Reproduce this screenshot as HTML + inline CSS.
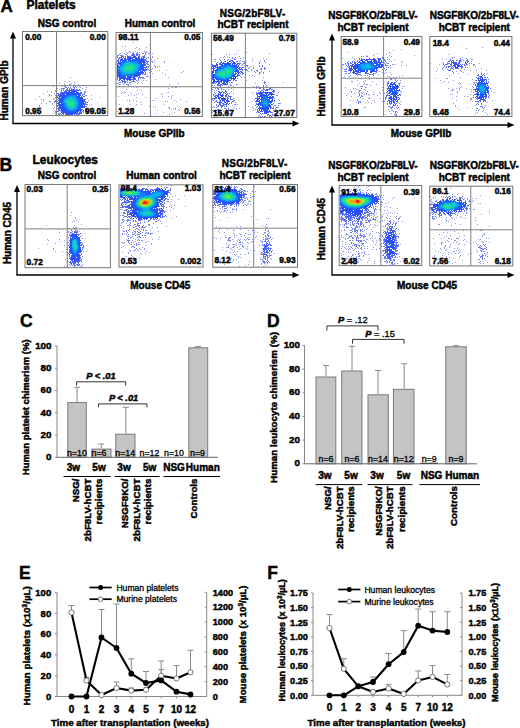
<!DOCTYPE html><html><head><meta charset="utf-8"><style>html,body{margin:0;padding:0;background:#fff;width:520px;height:728px;overflow:hidden}svg{display:block;font-family:"Liberation Sans",sans-serif}text{stroke:#000;stroke-width:.45px}text.n{stroke-width:.3px}tspan.b{stroke-width:.45px}</style></head><body><svg width="520" height="728" viewBox="0 0 520 728" font-family="Liberation Sans, sans-serif" font-weight="bold"><defs><filter id="soft" x="-5%" y="-5%" width="110%" height="110%"><feGaussianBlur stdDeviation="0.35"/></filter></defs><text x="0.6" y="12.4" font-size="17">A</text>
<text x="26.4" y="8.5" font-size="12">Platelets</text>
<text x="67" y="26.9" font-size="10" text-anchor="middle">NSG control</text>
<text x="160" y="26.9" font-size="10" text-anchor="middle">Human control</text>
<text x="252.6" y="16.5" font-size="10" text-anchor="middle" letter-spacing="0.3">NSG/2bF8LV-</text>
<text x="253" y="27.8" font-size="10" text-anchor="middle">hCBT recipient</text>
<text x="373" y="19" font-size="10" text-anchor="middle">NSGF8KO/2bF8LV-</text>
<text x="373" y="30.8" font-size="10" text-anchor="middle">hCBT recipient</text>
<text x="474.3" y="19.4" font-size="10" text-anchor="middle">NSGF8KO/2bF8LV-</text>
<text x="474.3" y="31.1" font-size="10" text-anchor="middle">hCBT recipient</text>
<line x1="13" y1="36.5" x2="13" y2="123.5" stroke="#000" stroke-width="1.3"/>
<line x1="12.35" y1="123.5" x2="294.5" y2="123.5" stroke="#000" stroke-width="1.3"/>
<polygon points="13,31.5 10,38.5 16,38.5" fill="#000"/>
<polygon points="299.5,123.5 292.5,120.5 292.5,126.5" fill="#000"/>
<line x1="332" y1="38.5" x2="332" y2="125" stroke="#000" stroke-width="1.3"/>
<line x1="331.35" y1="125" x2="509.5" y2="125" stroke="#000" stroke-width="1.3"/>
<polygon points="332,33.5 329,40.5 335,40.5" fill="#000"/>
<polygon points="514.5,125 507.5,122 507.5,128" fill="#000"/>
<text x="7.6" y="90.5" font-size="10" text-anchor="middle" transform="rotate(-90 7.6 90.5)">Human GPIb</text>
<text x="325" y="86.5" font-size="10" text-anchor="middle" transform="rotate(-90 325 86.5)">Human GPIb</text>
<text x="154.3" y="137" font-size="10" text-anchor="middle">Mouse GPIIb</text>
<text x="421" y="137.2" font-size="10" text-anchor="middle">Mouse GPIIb</text>
<rect x="22.5" y="31.5" width="85.3" height="84.1" fill="#fff"/>
<g filter="url(#soft)">
<path d="M99 97h1v1h-1zM35 99h1v1h-1zM97 102h1v1h-1zM31 109h1v1h-1zM23 110h1v1h-1z" fill="#b2b8f0"/>
<path d="M70 77h1v1h-1zM64 81h1v1h-1zM69 81h1v1h-1zM74 82h1v1h-1zM59 83h1v1h-1zM71 83h1v1h-1zM64 84h1v1h-1zM69 84h2v1h-2zM74 84h1v1h-1zM78 84h1v1h-1zM69 85h1v1h-1zM77 85h1v1h-1zM53 86h1v1h-1zM62 86h1v1h-1zM64 86h1v1h-1zM79 86h1v1h-1zM80 87h1v1h-1zM86 87h1v1h-1zM57 88h1v1h-1zM82 88h1v1h-1zM59 89h1v1h-1zM85 89h1v1h-1zM55 90h2v1h-2zM47 91h1v1h-1zM55 91h1v1h-1zM84 91h2v1h-2zM51 92h1v1h-1zM85 92h1v1h-1zM43 93h1v1h-1zM54 93h1v1h-1zM49 94h1v1h-1zM49 95h1v1h-1zM51 95h1v1h-1zM55 95h1v1h-1zM85 95h2v1h-2zM91 95h1v1h-1zM39 96h1v1h-1zM54 98h1v1h-1zM87 98h1v1h-1zM41 99h1v1h-1zM43 99h1v1h-1zM53 99h1v1h-1zM91 99h1v1h-1zM88 100h1v1h-1zM43 101h1v1h-1zM49 101h2v1h-2zM41 103h1v1h-1zM46 103h1v1h-1zM52 103h1v1h-1zM52 104h1v1h-1zM91 104h1v1h-1zM39 105h1v1h-1zM89 105h1v1h-1zM39 106h1v1h-1zM54 107h1v1h-1zM53 108h1v1h-1zM54 110h1v1h-1zM90 111h1v1h-1zM38 112h1v1h-1zM87 112h1v1h-1zM53 113h1v1h-1zM36 114h1v1h-1zM39 114h1v1h-1zM55 114h1v1h-1z" fill="#8e98ef"/>
<path d="M74 85h1v1h-1zM65 86h1v1h-1zM73 86h1v1h-1zM75 86h1v1h-1zM65 87h2v1h-2zM68 87h1v1h-1zM70 87h1v1h-1zM73 87h2v1h-2zM76 87h1v1h-1zM61 88h4v1h-4zM67 88h1v1h-1zM69 88h1v1h-1zM71 88h1v1h-1zM74 88h1v1h-1zM61 89h1v1h-1zM63 89h1v1h-1zM66 89h1v1h-1zM69 89h1v1h-1zM77 89h1v1h-1zM79 89h1v1h-1zM61 90h1v1h-1zM63 90h1v1h-1zM79 90h2v1h-2zM61 91h1v1h-1zM60 92h1v1h-1zM81 92h1v1h-1zM84 92h1v1h-1zM57 93h2v1h-2zM84 93h1v1h-1zM56 94h1v1h-1zM82 94h3v1h-3zM57 95h1v1h-1zM82 95h1v1h-1zM57 96h1v1h-1zM83 96h2v1h-2zM55 97h1v1h-1zM85 99h1v1h-1zM55 100h1v1h-1zM54 101h2v1h-2zM85 101h1v1h-1zM54 102h1v1h-1zM86 102h2v1h-2zM86 104h2v1h-2zM56 106h2v1h-2zM85 106h2v1h-2zM56 108h2v1h-2zM85 109h1v1h-1zM58 110h1v1h-1zM85 110h2v1h-2zM55 111h4v1h-4zM83 111h1v1h-1zM85 111h1v1h-1zM55 112h1v1h-1zM83 112h1v1h-1zM56 113h1v1h-1zM58 113h3v1h-3zM58 114h2v1h-2zM61 114h1v1h-1zM63 114h1v1h-1zM76 114h4v1h-4z" fill="#6d7bef"/>
<path d="M67 89h1v1h-1zM71 89h4v1h-4zM76 89h1v1h-1zM65 90h8v1h-8zM75 90h4v1h-4zM64 91h3v1h-3zM61 92h4v1h-4zM78 92h1v1h-1zM80 92h1v1h-1zM60 93h2v1h-2zM79 93h3v1h-3zM58 94h3v1h-3zM80 94h1v1h-1zM58 95h2v1h-2zM80 95h1v1h-1zM81 96h1v1h-1zM57 97h2v1h-2zM82 97h1v1h-1zM58 98h1v1h-1zM57 99h1v1h-1zM83 99h2v1h-2zM84 100h1v1h-1zM56 101h2v1h-2zM84 101h1v1h-1zM56 102h1v1h-1zM85 102h1v1h-1zM56 103h2v1h-2zM84 103h2v1h-2zM58 104h1v1h-1zM84 104h2v1h-2zM57 105h2v1h-2zM84 105h1v1h-1zM84 106h1v1h-1zM58 107h2v1h-2zM83 107h2v1h-2zM58 108h2v1h-2zM58 109h2v1h-2zM82 109h1v1h-1zM59 110h2v1h-2zM83 110h1v1h-1zM61 111h1v1h-1zM82 111h1v1h-1zM61 112h2v1h-2zM80 112h2v1h-2zM62 113h2v1h-2zM76 113h6v1h-6zM65 114h2v1h-2zM74 114h1v1h-1z" fill="#5065f3"/>
<path d="M73 90h2v1h-2zM68 91h2v1h-2zM71 91h6v1h-6zM65 92h6v1h-6zM76 92h2v1h-2zM62 93h5v1h-5zM77 93h2v1h-2zM61 94h4v1h-4zM78 94h2v1h-2zM60 95h3v1h-3zM78 95h2v1h-2zM59 96h3v1h-3zM79 96h1v1h-1zM59 97h1v1h-1zM80 97h2v1h-2zM59 98h2v1h-2zM81 98h2v1h-2zM59 99h1v1h-1zM82 99h1v1h-1zM58 100h2v1h-2zM82 100h2v1h-2zM59 101h1v1h-1zM82 101h2v1h-2zM58 102h2v1h-2zM82 102h2v1h-2zM58 103h2v1h-2zM83 103h1v1h-1zM59 104h1v1h-1zM83 104h1v1h-1zM59 105h2v1h-2zM82 105h1v1h-1zM59 106h2v1h-2zM82 106h2v1h-2zM60 107h1v1h-1zM81 107h2v1h-2zM60 108h2v1h-2zM61 109h1v1h-1zM81 109h1v1h-1zM61 110h2v1h-2zM80 110h2v1h-2zM62 111h2v1h-2zM78 111h1v1h-1zM80 111h1v1h-1zM63 112h2v1h-2zM75 112h3v1h-3zM79 112h1v1h-1zM65 113h3v1h-3zM73 113h3v1h-3zM67 114h6v1h-6z" fill="#334ff7"/>
<path d="M71 92h4v1h-4zM67 93h5v1h-5zM74 93h3v1h-3zM66 94h1v1h-1zM76 94h2v1h-2zM63 95h3v1h-3zM62 96h3v1h-3zM78 96h1v1h-1zM61 97h2v1h-2zM78 97h2v1h-2zM61 98h2v1h-2zM79 98h2v1h-2zM60 99h2v1h-2zM80 99h2v1h-2zM60 100h2v1h-2zM81 100h1v1h-1zM60 101h2v1h-2zM81 101h1v1h-1zM60 102h2v1h-2zM81 102h1v1h-1zM61 103h1v1h-1zM81 103h2v1h-2zM60 104h2v1h-2zM81 104h2v1h-2zM61 105h1v1h-1zM81 105h1v1h-1zM61 106h1v1h-1zM80 106h2v1h-2zM61 107h2v1h-2zM80 107h1v1h-1zM62 108h1v1h-1zM79 108h2v1h-2zM62 109h3v1h-3zM78 109h3v1h-3zM63 110h3v1h-3zM77 110h3v1h-3zM64 111h3v1h-3zM75 111h3v1h-3zM65 112h4v1h-4zM73 112h2v1h-2zM68 113h5v1h-5z" fill="#2553fb"/>
<path d="M72 93h2v1h-2zM67 94h9v1h-9zM66 95h2v1h-2zM75 95h2v1h-2zM65 96h2v1h-2zM76 96h2v1h-2zM63 97h2v1h-2zM77 97h1v1h-1zM63 98h1v1h-1zM78 98h1v1h-1zM62 99h2v1h-2zM78 99h2v1h-2zM62 100h1v1h-1zM79 100h2v1h-2zM62 101h1v1h-1zM79 101h2v1h-2zM62 102h1v1h-1zM79 102h2v1h-2zM62 103h1v1h-1zM79 103h2v1h-2zM62 104h2v1h-2zM79 104h2v1h-2zM62 105h2v1h-2zM79 105h2v1h-2zM62 106h2v1h-2zM78 106h2v1h-2zM63 107h2v1h-2zM78 107h2v1h-2zM63 108h3v1h-3zM78 108h1v1h-1zM65 109h2v1h-2zM77 109h1v1h-1zM66 110h2v1h-2zM75 110h2v1h-2zM67 111h8v1h-8zM69 112h4v1h-4z" fill="#1c5cfe"/>
<path d="M68 95h7v1h-7zM67 96h2v1h-2zM74 96h2v1h-2zM65 97h2v1h-2zM75 97h2v1h-2zM64 98h2v1h-2zM76 98h2v1h-2zM64 99h1v1h-1zM76 99h2v1h-2zM63 100h1v1h-1zM77 100h2v1h-2zM63 101h1v1h-1zM77 101h2v1h-2zM63 102h1v1h-1zM78 102h1v1h-1zM63 103h2v1h-2zM78 103h1v1h-1zM64 104h1v1h-1zM77 104h2v1h-2zM64 105h2v1h-2zM77 105h2v1h-2zM64 106h2v1h-2zM77 106h1v1h-1zM65 107h2v1h-2zM77 107h1v1h-1zM66 108h2v1h-2zM76 108h2v1h-2zM67 109h2v1h-2zM75 109h2v1h-2zM68 110h7v1h-7z" fill="#1580f7"/>
<path d="M69 96h5v1h-5zM67 97h8v1h-8zM66 98h3v1h-3zM73 98h3v1h-3zM65 99h1v1h-1zM74 99h2v1h-2zM64 100h2v1h-2zM75 100h2v1h-2zM64 101h1v1h-1zM75 101h2v1h-2zM64 102h2v1h-2zM76 102h2v1h-2zM65 103h1v1h-1zM76 103h2v1h-2zM65 104h2v1h-2zM76 104h1v1h-1zM66 105h1v1h-1zM75 105h2v1h-2zM66 106h2v1h-2zM75 106h2v1h-2zM67 107h2v1h-2zM75 107h2v1h-2zM68 108h2v1h-2zM73 108h3v1h-3zM69 109h6v1h-6z" fill="#10aeec"/>
<path d="M69 98h4v1h-4zM66 99h8v1h-8zM66 100h9v1h-9zM65 101h2v1h-2zM71 101h4v1h-4zM66 102h1v1h-1zM74 102h2v1h-2zM66 103h2v1h-2zM74 103h2v1h-2zM67 104h1v1h-1zM74 104h2v1h-2zM67 105h2v1h-2zM73 105h2v1h-2zM68 106h7v1h-7zM69 107h6v1h-6zM70 108h3v1h-3z" fill="#12ccbe"/>
<path d="M67 101h4v1h-4zM67 102h7v1h-7zM68 103h6v1h-6zM68 104h6v1h-6zM69 105h4v1h-4z" fill="#22e289"/>
</g>
<line x1="56.5" y1="31.5" x2="56.5" y2="115.6" stroke="#808080" stroke-width="1"/>
<line x1="22.5" y1="85.6" x2="107.8" y2="85.6" stroke="#808080" stroke-width="1"/>
<rect x="22.5" y="31.5" width="85.3" height="84.1" fill="none" stroke="#777" stroke-width="1"/>
<text x="25.2" y="39.6" font-size="8.3">0.00</text>
<text x="105.8" y="39.6" font-size="8.3" text-anchor="end">0.00</text>
<text x="25.2" y="113.7" font-size="8.3">0.95</text>
<text x="105.8" y="113.7" font-size="8.3" text-anchor="end">99.05</text>
<rect x="116" y="32.5" width="86.4" height="83.9" fill="#fff"/>
<g filter="url(#soft)">
<path d="M133 42h1v1h-1zM122 46h1v1h-1zM125 46h1v1h-1zM136 47h1v1h-1zM146 47h1v1h-1zM135 48h1v1h-1zM139 48h1v1h-1zM125 50h1v1h-1zM139 50h1v1h-1zM129 51h1v1h-1zM135 51h1v1h-1zM144 51h1v1h-1zM146 51h1v1h-1zM126 52h1v1h-1zM128 52h1v1h-1zM130 52h1v1h-1zM139 52h1v1h-1zM146 52h1v1h-1zM120 53h1v1h-1zM124 53h1v1h-1zM142 53h2v1h-2zM148 53h2v1h-2zM152 53h1v1h-1zM150 54h1v1h-1zM117 55h1v1h-1zM150 56h1v1h-1zM152 56h1v1h-1zM148 57h1v1h-1zM152 57h1v1h-1zM148 58h1v1h-1zM157 58h1v1h-1zM151 59h1v1h-1zM154 60h1v1h-1zM151 61h2v1h-2zM164 61h1v1h-1zM152 62h1v1h-1zM154 62h1v1h-1zM164 62h1v1h-1zM154 65h1v1h-1zM150 66h1v1h-1zM155 66h1v1h-1zM157 66h1v1h-1zM159 66h1v1h-1zM155 67h1v1h-1zM152 68h1v1h-1zM151 69h1v1h-1zM159 70h1v1h-1zM166 70h1v1h-1zM151 71h1v1h-1zM183 71h1v1h-1zM149 72h1v1h-1zM181 72h1v1h-1zM152 73h1v1h-1zM162 73h1v1h-1zM165 74h1v1h-1zM147 76h2v1h-2zM150 76h1v1h-1zM168 77h1v1h-1zM144 78h1v1h-1zM150 79h1v1h-1zM155 79h1v1h-1zM143 80h1v1h-1zM146 80h1v1h-1zM135 82h1v1h-1zM138 82h1v1h-1zM117 83h1v1h-1zM137 83h1v1h-1zM178 83h1v1h-1zM119 84h2v1h-2zM130 84h1v1h-1zM169 84h1v1h-1zM128 85h1v1h-1zM119 86h1v1h-1zM124 86h1v1h-1zM131 86h1v1h-1zM139 86h1v1h-1zM136 87h1v1h-1zM172 87h1v1h-1zM175 87h2v1h-2zM168 88h1v1h-1zM126 89h1v1h-1zM137 90h1v1h-1zM141 90h1v1h-1zM122 92h1v1h-1zM124 92h2v1h-2zM130 92h1v1h-1zM166 92h1v1h-1zM168 92h1v1h-1zM121 93h1v1h-1zM138 93h1v1h-1zM161 93h1v1h-1zM131 94h1v1h-1zM136 94h1v1h-1zM142 94h1v1h-1zM162 94h1v1h-1zM128 95h1v1h-1zM134 95h1v1h-1zM172 95h1v1h-1zM118 96h1v1h-1zM162 96h1v1h-1zM168 96h1v1h-1zM171 96h1v1h-1zM136 97h1v1h-1zM145 97h1v1h-1zM156 98h1v1h-1zM171 98h1v1h-1zM180 99h1v1h-1zM127 100h1v1h-1zM129 100h1v1h-1zM133 100h1v1h-1zM152 100h1v1h-1zM154 100h1v1h-1zM174 100h1v1h-1zM129 101h1v1h-1zM136 101h1v1h-1zM150 101h1v1h-1zM165 101h1v1h-1zM167 101h1v1h-1zM176 101h1v1h-1zM186 101h1v1h-1zM140 102h1v1h-1zM119 104h1v1h-1zM130 104h1v1h-1zM136 104h1v1h-1zM141 104h1v1h-1zM164 104h1v1h-1zM149 106h1v1h-1zM153 106h1v1h-1zM177 106h1v1h-1zM155 107h1v1h-1zM168 107h2v1h-2zM180 107h1v1h-1zM169 108h1v1h-1zM173 108h1v1h-1zM175 108h1v1h-1zM132 109h1v1h-1zM171 109h1v1h-1zM175 109h1v1h-1zM178 109h1v1h-1zM157 110h1v1h-1zM179 110h1v1h-1zM117 111h1v1h-1zM127 112h1v1h-1zM163 112h1v1h-1zM174 112h1v1h-1zM144 113h1v1h-1zM156 113h1v1h-1zM171 113h1v1h-1zM169 114h1v1h-1z" fill="#8e98ef"/>
<path d="M133 52h1v1h-1zM137 52h1v1h-1zM145 52h1v1h-1zM127 53h1v1h-1zM132 53h2v1h-2zM136 53h2v1h-2zM145 53h1v1h-1zM119 54h1v1h-1zM125 54h2v1h-2zM136 54h4v1h-4zM145 54h1v1h-1zM118 55h1v1h-1zM120 55h3v1h-3zM127 55h1v1h-1zM139 55h1v1h-1zM144 55h1v1h-1zM117 56h1v1h-1zM144 56h1v1h-1zM117 57h1v1h-1zM119 57h1v1h-1zM145 57h1v1h-1zM118 58h1v1h-1zM146 58h1v1h-1zM117 60h1v1h-1zM147 61h2v1h-2zM147 62h1v1h-1zM150 62h1v1h-1zM147 63h1v1h-1zM150 63h1v1h-1zM147 64h2v1h-2zM149 65h1v1h-1zM147 66h2v1h-2zM148 67h1v1h-1zM147 68h1v1h-1zM147 69h2v1h-2zM149 70h2v1h-2zM150 71h1v1h-1zM145 74h1v1h-1zM147 74h1v1h-1zM146 76h1v1h-1zM139 77h5v1h-5zM117 78h1v1h-1zM138 78h1v1h-1zM140 78h1v1h-1zM143 78h1v1h-1zM117 79h1v1h-1zM138 79h1v1h-1zM118 80h1v1h-1zM136 80h1v1h-1zM138 80h1v1h-1zM126 81h1v1h-1zM131 81h4v1h-4zM137 81h1v1h-1zM119 82h2v1h-2zM122 82h1v1h-1zM124 82h2v1h-2zM127 82h1v1h-1zM129 82h2v1h-2zM118 83h1v1h-1zM124 83h1v1h-1zM123 84h1v1h-1zM126 84h3v1h-3z" fill="#6d7bef"/>
<path d="M132 54h3v1h-3zM131 55h4v1h-4zM136 55h2v1h-2zM121 56h3v1h-3zM125 56h1v1h-1zM127 56h4v1h-4zM138 56h2v1h-2zM142 56h2v1h-2zM120 57h2v1h-2zM123 57h1v1h-1zM125 57h1v1h-1zM127 57h1v1h-1zM141 57h1v1h-1zM143 57h2v1h-2zM119 58h1v1h-1zM121 58h2v1h-2zM143 58h1v1h-1zM118 59h1v1h-1zM120 59h1v1h-1zM144 59h2v1h-2zM118 60h1v1h-1zM145 60h2v1h-2zM117 61h2v1h-2zM146 61h1v1h-1zM145 62h1v1h-1zM117 63h1v1h-1zM146 63h1v1h-1zM145 64h1v1h-1zM145 65h1v1h-1zM146 66h1v1h-1zM145 67h2v1h-2zM145 68h1v1h-1zM144 69h3v1h-3zM144 70h3v1h-3zM144 71h1v1h-1zM143 72h1v1h-1zM145 72h1v1h-1zM142 73h2v1h-2zM145 73h1v1h-1zM142 74h1v1h-1zM144 74h1v1h-1zM117 76h1v1h-1zM137 76h1v1h-1zM139 76h1v1h-1zM117 77h1v1h-1zM138 77h1v1h-1zM135 78h1v1h-1zM119 79h1v1h-1zM132 79h4v1h-4zM119 80h1v1h-1zM121 80h2v1h-2zM124 80h1v1h-1zM127 80h1v1h-1zM129 80h2v1h-2zM133 80h1v1h-1zM122 81h4v1h-4z" fill="#5065f3"/>
<path d="M133 56h3v1h-3zM128 57h9v1h-9zM138 57h2v1h-2zM124 58h2v1h-2zM127 58h1v1h-1zM141 58h2v1h-2zM121 59h2v1h-2zM141 59h3v1h-3zM120 60h3v1h-3zM142 60h3v1h-3zM120 61h1v1h-1zM142 61h3v1h-3zM118 62h2v1h-2zM142 62h3v1h-3zM118 63h1v1h-1zM143 63h2v1h-2zM117 64h1v1h-1zM143 64h2v1h-2zM117 65h1v1h-1zM143 65h2v1h-2zM143 66h1v1h-1zM143 67h2v1h-2zM143 68h1v1h-1zM143 69h1v1h-1zM142 70h2v1h-2zM142 71h1v1h-1zM141 72h2v1h-2zM117 73h1v1h-1zM140 73h2v1h-2zM117 74h1v1h-1zM138 74h3v1h-3zM117 75h2v1h-2zM137 75h3v1h-3zM118 76h1v1h-1zM135 76h2v1h-2zM119 77h1v1h-1zM133 77h2v1h-2zM119 78h7v1h-7zM133 78h2v1h-2zM120 79h1v1h-1zM123 79h2v1h-2zM126 79h6v1h-6z" fill="#334ff7"/>
<path d="M128 58h5v1h-5zM135 58h5v1h-5zM124 59h5v1h-5zM132 59h1v1h-1zM139 59h2v1h-2zM123 60h2v1h-2zM140 60h2v1h-2zM122 61h1v1h-1zM140 61h2v1h-2zM120 62h2v1h-2zM141 62h1v1h-1zM119 63h2v1h-2zM119 64h1v1h-1zM142 64h1v1h-1zM142 65h1v1h-1zM117 66h1v1h-1zM142 66h1v1h-1zM117 67h1v1h-1zM141 67h2v1h-2zM117 68h1v1h-1zM141 68h2v1h-2zM117 69h1v1h-1zM141 69h2v1h-2zM117 70h1v1h-1zM117 71h1v1h-1zM140 71h2v1h-2zM117 72h1v1h-1zM139 72h2v1h-2zM118 73h1v1h-1zM137 73h3v1h-3zM118 74h1v1h-1zM136 74h2v1h-2zM119 75h1v1h-1zM135 75h2v1h-2zM119 76h2v1h-2zM133 76h2v1h-2zM120 77h6v1h-6zM127 77h6v1h-6zM126 78h5v1h-5z" fill="#2553fb"/>
<path d="M129 59h2v1h-2zM133 59h6v1h-6zM125 60h2v1h-2zM128 60h12v1h-12zM123 61h2v1h-2zM138 61h2v1h-2zM122 62h1v1h-1zM139 62h2v1h-2zM121 63h1v1h-1zM140 63h2v1h-2zM120 64h2v1h-2zM141 64h1v1h-1zM118 65h1v1h-1zM141 65h1v1h-1zM118 66h1v1h-1zM140 66h2v1h-2zM140 67h1v1h-1zM140 68h1v1h-1zM139 69h2v1h-2zM118 70h1v1h-1zM139 70h2v1h-2zM118 71h1v1h-1zM138 71h1v1h-1zM118 72h2v1h-2zM137 72h2v1h-2zM119 73h1v1h-1zM136 73h1v1h-1zM119 74h2v1h-2zM134 74h2v1h-2zM120 75h2v1h-2zM131 75h4v1h-4zM121 76h5v1h-5zM127 76h5v1h-5z" fill="#1c5cfe"/>
<path d="M125 61h13v1h-13zM123 62h2v1h-2zM132 62h7v1h-7zM122 63h2v1h-2zM137 63h3v1h-3zM122 64h1v1h-1zM139 64h2v1h-2zM120 65h3v1h-3zM139 65h2v1h-2zM119 66h2v1h-2zM139 66h1v1h-1zM118 67h2v1h-2zM138 67h2v1h-2zM118 68h1v1h-1zM138 68h2v1h-2zM118 69h2v1h-2zM138 69h1v1h-1zM119 70h1v1h-1zM137 70h2v1h-2zM119 71h2v1h-2zM136 71h2v1h-2zM120 72h2v1h-2zM135 72h2v1h-2zM120 73h2v1h-2zM133 73h3v1h-3zM121 74h4v1h-4zM126 74h8v1h-8zM122 75h9v1h-9z" fill="#1580f7"/>
<path d="M125 62h7v1h-7zM124 63h2v1h-2zM132 63h5v1h-5zM123 64h2v1h-2zM135 64h4v1h-4zM123 65h1v1h-1zM136 65h3v1h-3zM121 66h3v1h-3zM136 66h3v1h-3zM120 67h3v1h-3zM136 67h2v1h-2zM119 68h3v1h-3zM135 68h3v1h-3zM120 69h2v1h-2zM134 69h4v1h-4zM120 70h3v1h-3zM134 70h3v1h-3zM121 71h3v1h-3zM133 71h3v1h-3zM122 72h3v1h-3zM131 72h4v1h-4zM122 73h11v1h-11zM125 74h1v1h-1z" fill="#10aeec"/>
<path d="M126 63h6v1h-6zM125 64h10v1h-10zM124 65h6v1h-6zM133 65h3v1h-3zM124 66h3v1h-3zM134 66h2v1h-2zM123 67h3v1h-3zM133 67h3v1h-3zM122 68h3v1h-3zM133 68h2v1h-2zM122 69h4v1h-4zM132 69h2v1h-2zM123 70h5v1h-5zM130 70h4v1h-4zM124 71h9v1h-9zM125 72h6v1h-6z" fill="#12ccbe"/>
<path d="M130 65h3v1h-3zM127 66h7v1h-7zM126 67h7v1h-7zM125 68h8v1h-8zM126 69h6v1h-6zM128 70h2v1h-2z" fill="#22e289"/>
</g>
<line x1="150.4" y1="32.5" x2="150.4" y2="116.4" stroke="#808080" stroke-width="1"/>
<line x1="116" y1="86.75" x2="202.4" y2="86.75" stroke="#808080" stroke-width="1"/>
<rect x="116" y="32.5" width="86.4" height="83.9" fill="none" stroke="#777" stroke-width="1"/>
<text x="118.2" y="40.2" font-size="8.3">98.11</text>
<text x="200.4" y="40.2" font-size="8.3" text-anchor="end">0.05</text>
<text x="118.2" y="114.2" font-size="8.3">1.28</text>
<text x="200.4" y="114.2" font-size="8.3" text-anchor="end">0.56</text>
<rect x="211.4" y="33.2" width="85.4" height="84.3" fill="#fff"/>
<g filter="url(#soft)">
<path d="M238 50h1v1h-1zM246 52h1v1h-1zM236 53h1v1h-1zM269 53h1v1h-1zM212 54h1v1h-1zM226 54h1v1h-1zM229 54h1v1h-1zM234 54h1v1h-1zM224 56h1v1h-1zM227 56h1v1h-1zM239 56h1v1h-1zM220 57h1v1h-1zM223 57h1v1h-1zM243 57h1v1h-1zM252 58h1v1h-1zM263 58h1v1h-1zM214 59h2v1h-2zM219 59h1v1h-1zM266 59h1v1h-1zM252 60h1v1h-1zM213 61h1v1h-1zM260 61h1v1h-1zM265 62h1v1h-1zM269 64h1v1h-1zM253 65h1v1h-1zM251 66h1v1h-1zM259 66h1v1h-1zM251 70h1v1h-1zM248 71h1v1h-1zM269 71h1v1h-1zM259 74h1v1h-1zM249 75h1v1h-1zM252 75h1v1h-1zM254 76h1v1h-1zM241 77h1v1h-1zM263 77h1v1h-1zM246 80h1v1h-1zM262 80h1v1h-1zM283 82h1v1h-1zM255 83h1v1h-1zM236 84h2v1h-2zM233 86h1v1h-1zM253 86h1v1h-1zM273 87h1v1h-1zM231 88h1v1h-1zM256 88h1v1h-1zM228 89h1v1h-1zM233 89h1v1h-1zM231 91h1v1h-1zM252 92h1v1h-1zM278 92h1v1h-1zM233 93h1v1h-1zM253 94h1v1h-1zM277 95h1v1h-1zM278 99h1v1h-1zM279 100h1v1h-1zM252 101h1v1h-1zM280 103h1v1h-1zM237 104h1v1h-1zM232 105h1v1h-1zM213 106h1v1h-1zM234 106h1v1h-1zM248 106h1v1h-1zM212 107h1v1h-1zM252 107h1v1h-1zM233 108h1v1h-1zM236 108h1v1h-1zM239 108h1v1h-1zM253 108h1v1h-1zM228 109h1v1h-1zM236 109h1v1h-1zM212 110h1v1h-1zM253 110h1v1h-1zM223 111h1v1h-1zM212 112h1v1h-1zM216 112h1v1h-1zM226 113h1v1h-1zM230 113h1v1h-1zM279 113h1v1h-1zM232 114h1v1h-1zM258 116h1v1h-1zM275 116h1v1h-1z" fill="#8e98ef"/>
<path d="M229 57h1v1h-1zM232 57h1v1h-1zM235 57h1v1h-1zM232 58h1v1h-1zM234 58h1v1h-1zM240 58h1v1h-1zM224 59h1v1h-1zM234 59h2v1h-2zM220 60h1v1h-1zM240 60h1v1h-1zM264 60h1v1h-1zM215 61h1v1h-1zM239 61h1v1h-1zM242 61h1v1h-1zM244 61h1v1h-1zM264 61h1v1h-1zM217 62h1v1h-1zM244 62h1v1h-1zM259 62h1v1h-1zM240 63h1v1h-1zM243 63h2v1h-2zM259 63h1v1h-1zM212 64h1v1h-1zM242 64h1v1h-1zM241 65h1v1h-1zM244 65h1v1h-1zM246 65h2v1h-2zM259 65h1v1h-1zM262 65h1v1h-1zM245 66h1v1h-1zM247 66h1v1h-1zM262 66h1v1h-1zM243 67h1v1h-1zM249 67h1v1h-1zM253 67h1v1h-1zM264 67h1v1h-1zM245 68h1v1h-1zM248 68h1v1h-1zM253 68h1v1h-1zM261 68h1v1h-1zM264 68h2v1h-2zM244 69h1v1h-1zM246 69h1v1h-1zM251 69h1v1h-1zM260 69h2v1h-2zM264 69h1v1h-1zM246 70h2v1h-2zM256 70h2v1h-2zM254 71h1v1h-1zM257 71h1v1h-1zM261 71h1v1h-1zM255 72h1v1h-1zM259 72h2v1h-2zM263 72h1v1h-1zM242 73h2v1h-2zM259 73h1v1h-1zM263 73h1v1h-1zM242 74h1v1h-1zM240 76h1v1h-1zM236 80h1v1h-1zM264 81h1v1h-1zM232 82h1v1h-1zM264 82h2v1h-2zM264 83h1v1h-1zM230 84h1v1h-1zM265 84h1v1h-1zM212 85h1v1h-1zM214 85h1v1h-1zM230 85h2v1h-2zM263 85h1v1h-1zM266 85h1v1h-1zM228 86h1v1h-1zM256 86h1v1h-1zM258 86h1v1h-1zM263 86h1v1h-1zM266 86h1v1h-1zM213 87h1v1h-1zM215 87h1v1h-1zM217 87h1v1h-1zM224 87h1v1h-1zM257 87h1v1h-1zM260 87h1v1h-1zM262 87h1v1h-1zM267 87h1v1h-1zM271 87h1v1h-1zM215 88h1v1h-1zM217 88h2v1h-2zM221 88h1v1h-1zM259 88h2v1h-2zM212 89h1v1h-1zM221 89h1v1h-1zM223 89h1v1h-1zM272 89h1v1h-1zM214 90h1v1h-1zM216 90h1v1h-1zM225 90h1v1h-1zM258 90h1v1h-1zM274 90h1v1h-1zM214 92h1v1h-1zM256 92h1v1h-1zM215 93h1v1h-1zM229 93h1v1h-1zM256 93h1v1h-1zM213 94h2v1h-2zM256 94h1v1h-1zM274 94h1v1h-1zM213 95h1v1h-1zM276 95h1v1h-1zM231 96h1v1h-1zM212 98h1v1h-1zM233 98h1v1h-1zM274 98h1v1h-1zM212 99h1v1h-1zM232 99h1v1h-1zM254 99h1v1h-1zM213 100h1v1h-1zM233 100h2v1h-2zM274 100h1v1h-1zM215 101h1v1h-1zM232 101h2v1h-2zM274 101h1v1h-1zM214 102h1v1h-1zM231 102h1v1h-1zM235 102h1v1h-1zM231 103h1v1h-1zM273 103h1v1h-1zM278 103h2v1h-2zM216 104h1v1h-1zM234 104h2v1h-2zM216 105h1v1h-1zM255 105h1v1h-1zM274 105h2v1h-2zM278 105h1v1h-1zM217 106h1v1h-1zM273 106h1v1h-1zM214 107h1v1h-1zM216 107h1v1h-1zM256 107h1v1h-1zM273 107h1v1h-1zM276 107h3v1h-3zM224 108h2v1h-2zM228 108h1v1h-1zM273 108h1v1h-1zM275 108h1v1h-1zM217 109h2v1h-2zM226 109h1v1h-1zM255 109h1v1h-1zM275 109h1v1h-1zM216 110h1v1h-1zM218 110h1v1h-1zM220 110h1v1h-1zM273 110h1v1h-1zM218 111h1v1h-1zM220 111h1v1h-1zM274 111h1v1h-1zM256 112h1v1h-1zM272 112h1v1h-1zM261 114h1v1h-1zM272 114h1v1h-1zM274 114h1v1h-1zM259 115h1v1h-1zM272 115h1v1h-1zM260 116h1v1h-1zM262 116h1v1h-1zM264 116h2v1h-2zM269 116h1v1h-1zM271 116h1v1h-1z" fill="#6d7bef"/>
<path d="M228 59h1v1h-1zM227 60h1v1h-1zM230 60h3v1h-3zM221 61h1v1h-1zM224 61h2v1h-2zM230 61h1v1h-1zM232 61h2v1h-2zM236 61h2v1h-2zM220 62h2v1h-2zM216 63h1v1h-1zM219 63h1v1h-1zM238 63h2v1h-2zM239 64h1v1h-1zM212 65h2v1h-2zM212 66h1v1h-1zM240 67h1v1h-1zM242 67h1v1h-1zM241 68h1v1h-1zM241 69h2v1h-2zM242 70h1v1h-1zM240 71h2v1h-2zM241 72h2v1h-2zM240 73h1v1h-1zM238 74h1v1h-1zM238 75h2v1h-2zM237 76h1v1h-1zM237 78h1v1h-1zM212 79h1v1h-1zM233 80h1v1h-1zM235 80h1v1h-1zM212 82h1v1h-1zM229 82h1v1h-1zM231 82h1v1h-1zM212 83h2v1h-2zM215 83h1v1h-1zM217 84h2v1h-2zM227 84h1v1h-1zM217 85h4v1h-4zM222 85h1v1h-1zM220 86h1v1h-1zM263 87h1v1h-1zM263 88h1v1h-1zM269 88h2v1h-2zM218 89h1v1h-1zM263 89h2v1h-2zM266 89h4v1h-4zM271 89h1v1h-1zM261 90h2v1h-2zM265 90h3v1h-3zM273 90h1v1h-1zM218 91h2v1h-2zM222 91h1v1h-1zM225 91h2v1h-2zM260 91h1v1h-1zM272 91h3v1h-3zM221 92h1v1h-1zM223 92h2v1h-2zM226 92h1v1h-1zM258 92h2v1h-2zM273 92h1v1h-1zM223 93h1v1h-1zM225 93h1v1h-1zM227 93h1v1h-1zM257 93h2v1h-2zM226 94h2v1h-2zM257 94h1v1h-1zM273 94h1v1h-1zM215 95h2v1h-2zM225 95h2v1h-2zM228 95h1v1h-1zM257 95h1v1h-1zM214 96h2v1h-2zM225 96h2v1h-2zM228 96h3v1h-3zM257 96h1v1h-1zM273 96h1v1h-1zM215 97h1v1h-1zM227 97h1v1h-1zM230 97h1v1h-1zM257 97h1v1h-1zM273 97h1v1h-1zM213 98h4v1h-4zM227 98h2v1h-2zM230 98h1v1h-1zM255 98h2v1h-2zM214 99h1v1h-1zM230 99h2v1h-2zM216 100h1v1h-1zM216 101h1v1h-1zM219 101h2v1h-2zM229 101h1v1h-1zM255 101h1v1h-1zM217 102h5v1h-5zM219 103h2v1h-2zM222 103h2v1h-2zM227 103h1v1h-1zM229 103h1v1h-1zM256 103h1v1h-1zM219 104h2v1h-2zM223 104h4v1h-4zM228 104h1v1h-1zM256 104h1v1h-1zM272 104h1v1h-1zM218 105h1v1h-1zM220 105h4v1h-4zM226 105h1v1h-1zM218 106h1v1h-1zM221 106h2v1h-2zM224 106h1v1h-1zM226 106h1v1h-1zM221 107h1v1h-1zM271 107h1v1h-1zM272 108h1v1h-1zM257 109h1v1h-1zM257 110h1v1h-1zM257 111h2v1h-2zM270 111h1v1h-1zM258 112h2v1h-2zM270 112h2v1h-2zM260 113h1v1h-1zM262 113h1v1h-1zM264 113h1v1h-1zM267 114h2v1h-2zM267 115h1v1h-1zM269 115h2v1h-2z" fill="#5065f3"/>
<path d="M229 61h1v1h-1zM223 62h1v1h-1zM227 62h2v1h-2zM231 62h1v1h-1zM233 62h2v1h-2zM220 63h1v1h-1zM222 63h1v1h-1zM234 63h2v1h-2zM237 63h1v1h-1zM216 64h2v1h-2zM219 64h1v1h-1zM236 64h2v1h-2zM214 65h4v1h-4zM238 65h1v1h-1zM213 66h3v1h-3zM238 66h1v1h-1zM213 67h1v1h-1zM239 67h1v1h-1zM212 68h2v1h-2zM239 68h1v1h-1zM239 69h2v1h-2zM238 70h1v1h-1zM212 71h1v1h-1zM238 71h1v1h-1zM212 72h1v1h-1zM237 72h3v1h-3zM212 73h1v1h-1zM236 73h1v1h-1zM238 73h1v1h-1zM212 74h1v1h-1zM237 74h1v1h-1zM212 75h1v1h-1zM237 75h1v1h-1zM212 76h1v1h-1zM236 76h1v1h-1zM212 77h1v1h-1zM235 77h1v1h-1zM212 78h2v1h-2zM235 78h1v1h-1zM213 79h2v1h-2zM233 79h2v1h-2zM213 80h2v1h-2zM217 80h1v1h-1zM230 80h1v1h-1zM213 81h6v1h-6zM228 81h1v1h-1zM213 82h2v1h-2zM216 82h1v1h-1zM218 82h2v1h-2zM226 82h2v1h-2zM218 83h2v1h-2zM222 83h1v1h-1zM224 83h2v1h-2zM227 83h1v1h-1zM220 84h2v1h-2zM223 84h4v1h-4zM263 91h1v1h-1zM219 92h2v1h-2zM260 92h6v1h-6zM267 92h5v1h-5zM218 93h1v1h-1zM220 93h1v1h-1zM259 93h2v1h-2zM270 93h3v1h-3zM218 94h3v1h-3zM222 94h1v1h-1zM259 94h1v1h-1zM270 94h3v1h-3zM217 95h2v1h-2zM220 95h4v1h-4zM271 95h1v1h-1zM217 96h2v1h-2zM221 96h2v1h-2zM258 96h2v1h-2zM270 96h1v1h-1zM272 96h1v1h-1zM216 97h1v1h-1zM218 97h3v1h-3zM223 97h1v1h-1zM259 97h1v1h-1zM271 97h2v1h-2zM218 98h2v1h-2zM221 98h5v1h-5zM257 98h3v1h-3zM271 98h2v1h-2zM219 99h1v1h-1zM221 99h5v1h-5zM227 99h1v1h-1zM257 99h2v1h-2zM272 99h1v1h-1zM220 100h1v1h-1zM222 100h3v1h-3zM226 100h3v1h-3zM256 100h2v1h-2zM272 100h1v1h-1zM222 101h1v1h-1zM224 101h1v1h-1zM226 101h3v1h-3zM256 101h3v1h-3zM272 101h1v1h-1zM224 102h2v1h-2zM227 102h1v1h-1zM226 103h1v1h-1zM257 104h1v1h-1zM271 104h1v1h-1zM257 106h1v1h-1zM270 106h1v1h-1zM270 107h1v1h-1zM258 108h1v1h-1zM270 108h1v1h-1zM259 109h1v1h-1zM259 110h1v1h-1zM269 110h1v1h-1zM260 111h3v1h-3zM268 111h2v1h-2zM264 112h5v1h-5zM265 113h2v1h-2z" fill="#334ff7"/>
<path d="M223 63h8v1h-8zM232 63h2v1h-2zM220 64h3v1h-3zM232 64h1v1h-1zM234 64h1v1h-1zM234 65h3v1h-3zM217 66h1v1h-1zM219 66h1v1h-1zM236 66h2v1h-2zM215 67h4v1h-4zM237 67h1v1h-1zM214 68h1v1h-1zM217 68h1v1h-1zM238 68h1v1h-1zM213 69h1v1h-1zM237 69h1v1h-1zM213 70h1v1h-1zM237 70h1v1h-1zM213 71h1v1h-1zM236 71h2v1h-2zM213 72h1v1h-1zM235 72h1v1h-1zM235 73h1v1h-1zM213 74h1v1h-1zM234 74h2v1h-2zM213 75h1v1h-1zM234 75h1v1h-1zM213 76h1v1h-1zM234 76h2v1h-2zM213 77h2v1h-2zM215 78h1v1h-1zM232 78h3v1h-3zM216 79h2v1h-2zM231 79h1v1h-1zM218 80h1v1h-1zM227 80h3v1h-3zM219 81h3v1h-3zM224 81h4v1h-4zM221 82h1v1h-1zM223 82h2v1h-2zM223 83h1v1h-1zM266 92h1v1h-1zM261 93h2v1h-2zM265 93h3v1h-3zM269 93h1v1h-1zM260 94h2v1h-2zM266 94h1v1h-1zM268 94h2v1h-2zM260 95h1v1h-1zM268 95h1v1h-1zM260 96h1v1h-1zM269 96h1v1h-1zM269 97h2v1h-2zM269 98h2v1h-2zM260 99h1v1h-1zM259 100h1v1h-1zM271 100h1v1h-1zM259 101h1v1h-1zM271 101h1v1h-1zM259 102h1v1h-1zM271 102h1v1h-1zM258 103h2v1h-2zM270 103h1v1h-1zM258 104h2v1h-2zM258 105h1v1h-1zM260 105h1v1h-1zM270 105h1v1h-1zM259 106h1v1h-1zM269 106h1v1h-1zM259 107h2v1h-2zM268 107h1v1h-1zM259 108h2v1h-2zM268 108h1v1h-1zM261 109h2v1h-2zM267 109h2v1h-2zM261 110h1v1h-1zM263 110h2v1h-2zM266 110h2v1h-2zM264 111h4v1h-4z" fill="#2553fb"/>
<path d="M224 64h7v1h-7zM221 65h5v1h-5zM230 65h4v1h-4zM220 66h2v1h-2zM232 66h4v1h-4zM219 67h2v1h-2zM236 67h1v1h-1zM218 68h2v1h-2zM236 68h1v1h-1zM216 69h2v1h-2zM236 69h1v1h-1zM214 70h3v1h-3zM236 70h1v1h-1zM215 71h1v1h-1zM235 71h1v1h-1zM214 74h1v1h-1zM233 74h1v1h-1zM214 75h1v1h-1zM233 75h1v1h-1zM214 76h1v1h-1zM232 76h2v1h-2zM215 77h1v1h-1zM231 77h1v1h-1zM233 77h1v1h-1zM216 78h2v1h-2zM229 78h3v1h-3zM218 79h3v1h-3zM226 79h3v1h-3zM220 80h7v1h-7zM223 81h1v1h-1zM262 94h3v1h-3zM261 95h7v1h-7zM261 96h2v1h-2zM266 96h2v1h-2zM261 97h2v1h-2zM267 97h2v1h-2zM261 98h2v1h-2zM261 99h1v1h-1zM268 99h2v1h-2zM261 100h1v1h-1zM269 100h1v1h-1zM269 101h2v1h-2zM260 102h1v1h-1zM269 102h2v1h-2zM260 103h1v1h-1zM260 104h2v1h-2zM269 104h1v1h-1zM261 105h2v1h-2zM268 105h2v1h-2zM262 106h2v1h-2zM268 106h1v1h-1zM261 107h7v1h-7zM261 108h7v1h-7zM263 109h4v1h-4zM265 110h1v1h-1z" fill="#1c5cfe"/>
<path d="M226 65h4v1h-4zM222 66h5v1h-5zM230 66h2v1h-2zM221 67h5v1h-5zM232 67h4v1h-4zM220 68h3v1h-3zM234 68h2v1h-2zM218 69h3v1h-3zM235 69h1v1h-1zM217 70h2v1h-2zM234 70h2v1h-2zM216 71h1v1h-1zM234 71h1v1h-1zM215 72h2v1h-2zM233 72h1v1h-1zM215 73h1v1h-1zM232 73h2v1h-2zM215 74h1v1h-1zM232 74h1v1h-1zM215 75h1v1h-1zM232 75h1v1h-1zM215 76h2v1h-2zM231 76h1v1h-1zM216 77h3v1h-3zM229 77h2v1h-2zM218 78h4v1h-4zM226 78h3v1h-3zM221 79h5v1h-5zM263 96h3v1h-3zM263 97h4v1h-4zM263 98h5v1h-5zM262 99h6v1h-6zM262 100h7v1h-7zM261 101h2v1h-2zM266 101h3v1h-3zM261 102h2v1h-2zM267 102h2v1h-2zM261 103h2v1h-2zM267 103h2v1h-2zM262 104h3v1h-3zM267 104h2v1h-2zM263 105h5v1h-5zM264 106h4v1h-4z" fill="#1580f7"/>
<path d="M227 66h3v1h-3zM226 67h6v1h-6zM223 68h3v1h-3zM231 68h3v1h-3zM221 69h4v1h-4zM232 69h3v1h-3zM219 70h2v1h-2zM232 70h2v1h-2zM217 71h2v1h-2zM232 71h2v1h-2zM217 72h1v1h-1zM232 72h1v1h-1zM216 73h2v1h-2zM231 73h1v1h-1zM216 74h1v1h-1zM231 74h1v1h-1zM216 75h2v1h-2zM230 75h2v1h-2zM217 76h3v1h-3zM229 76h2v1h-2zM219 77h4v1h-4zM225 77h4v1h-4zM222 78h4v1h-4zM263 101h3v1h-3zM263 102h4v1h-4zM263 103h4v1h-4zM265 104h2v1h-2z" fill="#10aeec"/>
<path d="M226 68h5v1h-5zM225 69h7v1h-7zM221 70h5v1h-5zM230 70h2v1h-2zM219 71h7v1h-7zM231 71h1v1h-1zM218 72h2v1h-2zM224 72h2v1h-2zM230 72h2v1h-2zM218 73h1v1h-1zM225 73h2v1h-2zM229 73h2v1h-2zM217 74h3v1h-3zM225 74h6v1h-6zM218 75h4v1h-4zM224 75h6v1h-6zM220 76h9v1h-9zM223 77h2v1h-2z" fill="#12ccbe"/>
<path d="M226 70h4v1h-4zM226 71h5v1h-5zM220 72h4v1h-4zM226 72h4v1h-4zM219 73h6v1h-6zM227 73h2v1h-2zM220 74h5v1h-5zM222 75h2v1h-2z" fill="#22e289"/>
</g>
<line x1="245.4" y1="33.2" x2="245.4" y2="117.5" stroke="#808080" stroke-width="1"/>
<line x1="211.4" y1="87.6" x2="296.8" y2="87.6" stroke="#808080" stroke-width="1"/>
<rect x="211.4" y="33.2" width="85.4" height="84.3" fill="none" stroke="#777" stroke-width="1"/>
<text x="213" y="41" font-size="8.3">56.49</text>
<text x="294.8" y="41" font-size="8.3" text-anchor="end">0.78</text>
<text x="213" y="115.7" font-size="8.3">15.67</text>
<text x="294.8" y="115.7" font-size="8.3" text-anchor="end">27.07</text>
<rect x="341.2" y="36.5" width="80.7" height="80" fill="#fff"/>
<g filter="url(#soft)">
<path d="M401 49h1v1h-1zM393 50h1v1h-1zM348 52h1v1h-1zM389 52h1v1h-1zM377 53h1v1h-1zM390 53h1v1h-1zM374 54h1v1h-1zM386 54h1v1h-1zM366 55h1v1h-1zM373 55h1v1h-1zM389 55h1v1h-1zM414 55h1v1h-1zM391 56h1v1h-1zM352 57h1v1h-1zM387 57h1v1h-1zM342 58h1v1h-1zM354 59h1v1h-1zM389 59h1v1h-1zM394 59h1v1h-1zM389 61h1v1h-1zM391 61h1v1h-1zM401 61h1v1h-1zM402 62h1v1h-1zM392 64h2v1h-2zM395 64h1v1h-1zM390 65h1v1h-1zM401 65h1v1h-1zM406 65h1v1h-1zM342 66h1v1h-1zM390 67h1v1h-1zM342 68h1v1h-1zM382 72h1v1h-1zM386 72h1v1h-1zM390 72h1v1h-1zM384 73h1v1h-1zM378 74h1v1h-1zM391 74h1v1h-1zM350 75h1v1h-1zM402 75h1v1h-1zM344 76h1v1h-1zM349 76h1v1h-1zM387 76h1v1h-1zM389 76h1v1h-1zM399 76h1v1h-1zM368 77h1v1h-1zM396 77h1v1h-1zM376 78h1v1h-1zM378 78h1v1h-1zM386 78h1v1h-1zM369 79h1v1h-1zM357 80h1v1h-1zM365 80h1v1h-1zM400 80h1v1h-1zM351 81h2v1h-2zM363 81h1v1h-1zM372 81h1v1h-1zM400 82h1v1h-1zM359 83h1v1h-1zM364 83h1v1h-1zM383 83h1v1h-1zM363 84h1v1h-1zM366 84h2v1h-2zM376 84h1v1h-1zM357 85h1v1h-1zM370 85h1v1h-1zM360 86h1v1h-1zM402 86h1v1h-1zM404 86h1v1h-1zM345 87h1v1h-1zM365 87h2v1h-2zM382 87h1v1h-1zM353 88h1v1h-1zM355 88h1v1h-1zM402 88h1v1h-1zM350 89h1v1h-1zM353 89h1v1h-1zM356 89h1v1h-1zM364 89h1v1h-1zM365 90h1v1h-1zM382 90h2v1h-2zM349 91h1v1h-1zM351 91h1v1h-1zM367 91h1v1h-1zM351 92h1v1h-1zM373 92h1v1h-1zM379 92h1v1h-1zM401 92h1v1h-1zM348 93h1v1h-1zM354 93h1v1h-1zM380 93h1v1h-1zM384 93h1v1h-1zM364 94h1v1h-1zM366 94h1v1h-1zM368 94h1v1h-1zM373 94h2v1h-2zM346 95h1v1h-1zM369 95h1v1h-1zM377 95h1v1h-1zM351 96h1v1h-1zM358 96h1v1h-1zM369 97h1v1h-1zM363 98h1v1h-1zM368 98h2v1h-2zM380 98h1v1h-1zM357 99h1v1h-1zM350 100h1v1h-1zM353 100h1v1h-1zM367 100h1v1h-1zM374 100h1v1h-1zM383 100h1v1h-1zM382 101h1v1h-1zM400 101h1v1h-1zM356 102h1v1h-1zM365 102h1v1h-1zM368 102h1v1h-1zM374 102h1v1h-1zM371 103h1v1h-1zM400 104h1v1h-1zM350 105h1v1h-1zM364 107h2v1h-2zM388 109h1v1h-1zM399 109h1v1h-1zM355 110h1v1h-1zM383 110h1v1h-1zM389 111h1v1h-1zM355 113h1v1h-1zM391 113h1v1h-1zM385 114h1v1h-1z" fill="#8e98ef"/>
<path d="M361 56h1v1h-1zM363 56h1v1h-1zM366 56h2v1h-2zM382 57h1v1h-1zM359 58h1v1h-1zM383 58h1v1h-1zM384 59h1v1h-1zM387 59h1v1h-1zM357 60h1v1h-1zM384 60h2v1h-2zM348 61h1v1h-1zM352 61h1v1h-1zM385 61h1v1h-1zM347 62h1v1h-1zM350 62h1v1h-1zM386 62h1v1h-1zM345 63h1v1h-1zM347 63h2v1h-2zM387 63h2v1h-2zM342 64h2v1h-2zM345 64h1v1h-1zM346 65h1v1h-1zM386 65h2v1h-2zM386 67h1v1h-1zM388 67h1v1h-1zM346 68h1v1h-1zM384 68h1v1h-1zM344 69h3v1h-3zM382 69h1v1h-1zM386 69h1v1h-1zM385 70h1v1h-1zM344 71h3v1h-3zM379 71h1v1h-1zM345 73h2v1h-2zM348 73h2v1h-2zM375 73h1v1h-1zM372 74h2v1h-2zM361 75h1v1h-1zM365 75h1v1h-1zM367 75h1v1h-1zM373 75h1v1h-1zM369 76h1v1h-1zM390 77h1v1h-1zM393 77h1v1h-1zM391 78h1v1h-1zM390 79h2v1h-2zM395 79h1v1h-1zM395 80h1v1h-1zM397 80h1v1h-1zM388 81h1v1h-1zM396 81h1v1h-1zM387 82h2v1h-2zM387 83h1v1h-1zM398 83h2v1h-2zM399 84h1v1h-1zM399 85h1v1h-1zM361 86h2v1h-2zM361 88h1v1h-1zM359 90h2v1h-2zM359 91h1v1h-1zM400 91h1v1h-1zM358 92h1v1h-1zM361 92h1v1h-1zM363 92h1v1h-1zM386 92h1v1h-1zM359 93h1v1h-1zM362 93h1v1h-1zM366 93h1v1h-1zM359 94h1v1h-1zM400 94h1v1h-1zM359 95h1v1h-1zM361 95h1v1h-1zM386 95h1v1h-1zM400 95h1v1h-1zM361 96h2v1h-2zM386 96h1v1h-1zM360 97h1v1h-1zM385 97h2v1h-2zM385 98h1v1h-1zM399 98h1v1h-1zM385 99h1v1h-1zM398 99h2v1h-2zM357 100h1v1h-1zM358 101h3v1h-3zM384 101h1v1h-1zM358 102h1v1h-1zM360 102h1v1h-1zM397 102h1v1h-1zM358 103h1v1h-1zM387 103h1v1h-1zM399 103h1v1h-1zM387 104h1v1h-1zM395 105h1v1h-1zM397 105h1v1h-1zM388 106h2v1h-2zM392 106h1v1h-1zM390 107h3v1h-3zM396 107h1v1h-1zM398 107h1v1h-1zM391 108h1v1h-1zM394 108h1v1h-1zM397 108h1v1h-1zM391 110h2v1h-2zM393 111h1v1h-1zM395 111h2v1h-2zM395 112h1v1h-1zM397 112h1v1h-1zM395 113h1v1h-1zM394 114h1v1h-1zM396 114h1v1h-1zM395 115h2v1h-2z" fill="#6d7bef"/>
<path d="M361 58h1v1h-1zM369 58h1v1h-1zM373 58h2v1h-2zM377 58h4v1h-4zM382 58h1v1h-1zM359 59h1v1h-1zM361 59h4v1h-4zM366 59h1v1h-1zM369 59h4v1h-4zM378 59h1v1h-1zM380 59h1v1h-1zM354 61h1v1h-1zM357 61h1v1h-1zM383 61h1v1h-1zM352 62h1v1h-1zM354 62h2v1h-2zM382 62h1v1h-1zM350 63h2v1h-2zM384 63h1v1h-1zM348 64h1v1h-1zM383 64h1v1h-1zM385 64h1v1h-1zM348 65h1v1h-1zM350 65h1v1h-1zM383 65h1v1h-1zM385 65h1v1h-1zM347 66h1v1h-1zM349 66h1v1h-1zM348 67h1v1h-1zM383 67h1v1h-1zM383 68h1v1h-1zM348 70h2v1h-2zM377 70h1v1h-1zM350 71h1v1h-1zM376 71h1v1h-1zM350 72h1v1h-1zM352 72h1v1h-1zM376 72h1v1h-1zM353 73h2v1h-2zM365 73h4v1h-4zM373 73h1v1h-1zM356 74h1v1h-1zM358 74h3v1h-3zM369 74h2v1h-2zM357 75h1v1h-1zM391 82h2v1h-2zM394 82h2v1h-2zM388 83h1v1h-1zM390 83h1v1h-1zM387 84h1v1h-1zM387 85h1v1h-1zM388 86h1v1h-1zM398 86h1v1h-1zM398 87h1v1h-1zM387 88h1v1h-1zM387 89h1v1h-1zM399 89h1v1h-1zM398 90h2v1h-2zM387 91h1v1h-1zM398 91h1v1h-1zM387 92h1v1h-1zM387 94h1v1h-1zM399 94h1v1h-1zM387 95h2v1h-2zM398 95h1v1h-1zM397 97h2v1h-2zM388 98h1v1h-1zM397 100h1v1h-1zM387 101h1v1h-1zM396 101h2v1h-2zM389 103h3v1h-3zM394 103h1v1h-1zM396 103h1v1h-1zM390 104h1v1h-1zM393 104h1v1h-1zM395 104h1v1h-1zM393 105h2v1h-2z" fill="#5065f3"/>
<path d="M367 59h2v1h-2zM373 59h3v1h-3zM379 59h1v1h-1zM360 60h3v1h-3zM365 60h3v1h-3zM371 60h1v1h-1zM373 60h4v1h-4zM378 60h2v1h-2zM381 60h1v1h-1zM359 61h1v1h-1zM376 61h1v1h-1zM378 61h2v1h-2zM381 61h1v1h-1zM358 62h2v1h-2zM380 62h2v1h-2zM354 63h2v1h-2zM357 63h1v1h-1zM352 64h2v1h-2zM355 64h2v1h-2zM381 64h2v1h-2zM351 65h2v1h-2zM381 65h2v1h-2zM351 66h3v1h-3zM381 66h2v1h-2zM349 67h1v1h-1zM351 67h1v1h-1zM353 67h1v1h-1zM379 67h3v1h-3zM349 68h3v1h-3zM353 68h1v1h-1zM349 69h4v1h-4zM350 70h2v1h-2zM353 70h1v1h-1zM376 70h1v1h-1zM353 71h4v1h-4zM373 71h3v1h-3zM353 72h2v1h-2zM357 72h4v1h-4zM365 72h2v1h-2zM370 72h2v1h-2zM355 73h3v1h-3zM391 83h1v1h-1zM393 83h2v1h-2zM390 84h2v1h-2zM395 84h1v1h-1zM389 85h2v1h-2zM396 85h2v1h-2zM389 86h2v1h-2zM397 86h1v1h-1zM388 87h1v1h-1zM397 87h1v1h-1zM388 88h1v1h-1zM397 88h1v1h-1zM388 90h1v1h-1zM397 90h1v1h-1zM388 93h2v1h-2zM389 95h1v1h-1zM397 95h1v1h-1zM390 96h1v1h-1zM395 96h2v1h-2zM389 97h1v1h-1zM395 97h2v1h-2zM389 98h1v1h-1zM394 98h1v1h-1zM396 98h1v1h-1zM394 99h3v1h-3zM388 100h2v1h-2zM391 100h3v1h-3zM395 100h1v1h-1zM389 101h3v1h-3zM393 101h2v1h-2zM389 102h1v1h-1zM391 102h1v1h-1zM393 102h2v1h-2z" fill="#334ff7"/>
<path d="M362 61h3v1h-3zM367 61h5v1h-5zM373 61h3v1h-3zM360 62h1v1h-1zM374 62h6v1h-6zM375 63h3v1h-3zM379 63h2v1h-2zM357 64h2v1h-2zM378 64h3v1h-3zM354 65h4v1h-4zM378 65h2v1h-2zM354 66h3v1h-3zM378 66h3v1h-3zM354 67h2v1h-2zM377 67h2v1h-2zM354 68h2v1h-2zM376 68h2v1h-2zM354 69h2v1h-2zM376 69h1v1h-1zM355 70h4v1h-4zM373 70h2v1h-2zM357 71h2v1h-2zM360 71h5v1h-5zM366 71h2v1h-2zM370 71h3v1h-3zM392 84h3v1h-3zM392 85h1v1h-1zM395 85h1v1h-1zM391 86h3v1h-3zM395 86h2v1h-2zM390 87h1v1h-1zM392 87h1v1h-1zM396 87h1v1h-1zM389 88h3v1h-3zM396 88h1v1h-1zM389 89h1v1h-1zM396 89h1v1h-1zM389 90h1v1h-1zM396 90h1v1h-1zM389 91h1v1h-1zM396 91h1v1h-1zM389 92h2v1h-2zM397 92h1v1h-1zM391 93h1v1h-1zM396 93h2v1h-2zM390 94h7v1h-7zM393 95h3v1h-3zM391 96h1v1h-1zM393 96h2v1h-2zM390 97h2v1h-2zM393 97h1v1h-1zM390 98h4v1h-4zM390 99h2v1h-2zM393 99h1v1h-1z" fill="#2553fb"/>
<path d="M361 62h5v1h-5zM367 62h6v1h-6zM360 63h2v1h-2zM371 63h4v1h-4zM359 64h1v1h-1zM373 64h1v1h-1zM376 64h2v1h-2zM358 65h2v1h-2zM374 65h4v1h-4zM357 66h2v1h-2zM376 66h1v1h-1zM356 67h2v1h-2zM375 67h2v1h-2zM356 68h3v1h-3zM374 68h2v1h-2zM358 69h3v1h-3zM372 69h3v1h-3zM359 70h6v1h-6zM366 70h2v1h-2zM370 70h3v1h-3zM394 86h1v1h-1zM393 87h3v1h-3zM392 88h4v1h-4zM390 89h5v1h-5zM390 90h3v1h-3zM394 90h2v1h-2zM390 91h6v1h-6zM392 92h5v1h-5zM392 93h4v1h-4z" fill="#1c5cfe"/>
<path d="M362 63h9v1h-9zM360 64h2v1h-2zM364 64h1v1h-1zM370 64h3v1h-3zM360 65h1v1h-1zM371 65h3v1h-3zM359 66h2v1h-2zM372 66h4v1h-4zM358 67h4v1h-4zM372 67h3v1h-3zM359 68h4v1h-4zM370 68h4v1h-4zM361 69h11v1h-11z" fill="#1580f7"/>
<path d="M362 64h2v1h-2zM365 64h5v1h-5zM361 65h6v1h-6zM369 65h2v1h-2zM361 66h6v1h-6zM369 66h3v1h-3zM362 67h10v1h-10zM363 68h7v1h-7z" fill="#10aeec"/>
<path d="M367 65h2v1h-2zM367 66h2v1h-2z" fill="#12ccbe"/>
</g>
<line x1="383.6" y1="36.5" x2="383.6" y2="116.5" stroke="#808080" stroke-width="1"/>
<line x1="341.2" y1="78.2" x2="421.9" y2="78.2" stroke="#808080" stroke-width="1"/>
<rect x="341.2" y="36.5" width="80.7" height="80" fill="none" stroke="#777" stroke-width="1"/>
<text x="342.4" y="44.5" font-size="8.3">58.9</text>
<text x="419.9" y="44.5" font-size="8.3" text-anchor="end">0.49</text>
<text x="342.4" y="114.8" font-size="8.3">10.8</text>
<text x="419.9" y="114.8" font-size="8.3" text-anchor="end">29.8</text>
<rect x="429.8" y="36.5" width="82.1" height="80" fill="#fff"/>
<g filter="url(#soft)">
<path d="M482 47h1v1h-1zM466 48h1v1h-1zM448 54h1v1h-1zM452 57h1v1h-1zM454 57h1v1h-1zM462 57h1v1h-1zM442 58h1v1h-1zM446 59h1v1h-1zM471 59h2v1h-2zM442 62h1v1h-1zM430 63h1v1h-1zM479 63h1v1h-1zM439 64h1v1h-1zM469 65h1v1h-1zM475 66h1v1h-1zM467 67h1v1h-1zM481 68h1v1h-1zM437 69h1v1h-1zM442 69h1v1h-1zM464 69h1v1h-1zM443 70h1v1h-1zM470 70h1v1h-1zM476 70h1v1h-1zM486 70h1v1h-1zM436 71h1v1h-1zM456 71h1v1h-1zM453 72h1v1h-1zM463 72h1v1h-1zM481 72h1v1h-1zM453 73h1v1h-1zM458 73h1v1h-1zM484 73h1v1h-1zM487 73h1v1h-1zM468 74h1v1h-1zM449 75h1v1h-1zM460 77h1v1h-1zM435 78h1v1h-1zM446 78h2v1h-2zM472 79h1v1h-1zM440 80h1v1h-1zM453 80h1v1h-1zM444 81h1v1h-1zM441 82h1v1h-1zM448 82h1v1h-1zM459 82h1v1h-1zM460 83h1v1h-1zM459 84h1v1h-1zM470 84h1v1h-1zM461 86h1v1h-1zM472 86h1v1h-1zM460 87h1v1h-1zM448 88h1v1h-1zM456 88h1v1h-1zM459 88h1v1h-1zM466 88h1v1h-1zM452 89h2v1h-2zM459 89h1v1h-1zM471 89h1v1h-1zM451 90h2v1h-2zM457 91h1v1h-1zM471 91h1v1h-1zM491 91h1v1h-1zM457 92h1v1h-1zM494 92h1v1h-1zM450 94h1v1h-1zM452 94h1v1h-1zM470 94h1v1h-1zM456 96h1v1h-1zM464 96h1v1h-1zM467 96h1v1h-1zM452 98h1v1h-1zM470 98h1v1h-1zM489 98h1v1h-1zM456 100h1v1h-1zM470 100h1v1h-1zM492 100h1v1h-1zM472 101h1v1h-1zM487 102h1v1h-1zM453 103h1v1h-1zM455 105h1v1h-1zM475 105h1v1h-1zM485 105h1v1h-1zM455 106h1v1h-1zM457 107h1v1h-1zM467 107h1v1h-1zM459 109h1v1h-1zM479 109h1v1h-1zM476 110h1v1h-1zM483 110h1v1h-1zM482 111h1v1h-1zM477 112h1v1h-1zM485 112h1v1h-1zM475 113h1v1h-1zM487 114h1v1h-1z" fill="#8e98ef"/>
<path d="M452 58h1v1h-1zM460 58h1v1h-1zM466 58h1v1h-1zM450 59h1v1h-1zM460 59h1v1h-1zM462 59h1v1h-1zM467 59h1v1h-1zM449 60h2v1h-2zM456 60h2v1h-2zM463 60h1v1h-1zM448 61h2v1h-2zM461 61h1v1h-1zM465 61h1v1h-1zM471 61h1v1h-1zM447 62h1v1h-1zM443 63h1v1h-1zM447 63h2v1h-2zM469 63h1v1h-1zM471 63h1v1h-1zM443 64h1v1h-1zM445 64h3v1h-3zM464 64h1v1h-1zM467 64h1v1h-1zM473 64h2v1h-2zM444 65h1v1h-1zM464 65h2v1h-2zM473 65h1v1h-1zM444 66h1v1h-1zM446 66h1v1h-1zM443 67h1v1h-1zM446 67h1v1h-1zM465 67h1v1h-1zM442 68h1v1h-1zM445 68h1v1h-1zM447 69h1v1h-1zM450 69h1v1h-1zM453 69h1v1h-1zM448 70h3v1h-3zM460 70h1v1h-1zM452 71h1v1h-1zM461 71h1v1h-1zM481 73h1v1h-1zM478 74h1v1h-1zM481 74h1v1h-1zM483 74h1v1h-1zM477 75h2v1h-2zM484 75h1v1h-1zM476 77h1v1h-1zM487 77h1v1h-1zM488 79h1v1h-1zM475 80h1v1h-1zM488 81h1v1h-1zM474 82h1v1h-1zM488 82h1v1h-1zM474 83h1v1h-1zM473 84h1v1h-1zM473 87h1v1h-1zM490 88h1v1h-1zM473 89h1v1h-1zM473 92h1v1h-1zM474 94h1v1h-1zM473 95h1v1h-1zM489 95h1v1h-1zM473 97h1v1h-1zM488 97h1v1h-1zM471 98h1v1h-1zM471 99h1v1h-1zM475 101h3v1h-3zM485 101h1v1h-1zM478 102h1v1h-1zM477 103h1v1h-1zM481 103h1v1h-1zM476 104h1v1h-1zM478 104h1v1h-1zM481 104h1v1h-1zM480 106h3v1h-3zM482 107h1v1h-1zM484 107h1v1h-1zM476 108h2v1h-2zM483 108h1v1h-1zM478 110h1v1h-1z" fill="#6d7bef"/>
<path d="M452 60h2v1h-2zM459 60h2v1h-2zM466 60h2v1h-2zM451 61h1v1h-1zM453 61h1v1h-1zM459 61h2v1h-2zM467 61h2v1h-2zM451 62h2v1h-2zM455 62h2v1h-2zM458 62h2v1h-2zM465 62h1v1h-1zM467 62h1v1h-1zM449 63h1v1h-1zM451 63h1v1h-1zM465 63h2v1h-2zM450 64h2v1h-2zM462 64h1v1h-1zM466 64h1v1h-1zM451 65h1v1h-1zM461 65h1v1h-1zM448 66h3v1h-3zM452 66h1v1h-1zM461 66h2v1h-2zM448 67h1v1h-1zM451 67h1v1h-1zM453 67h1v1h-1zM461 67h2v1h-2zM451 68h2v1h-2zM455 68h4v1h-4zM461 68h1v1h-1zM482 75h1v1h-1zM479 76h3v1h-3zM478 77h1v1h-1zM484 77h2v1h-2zM477 78h2v1h-2zM485 79h2v1h-2zM476 80h1v1h-1zM486 80h1v1h-1zM486 81h1v1h-1zM476 82h1v1h-1zM475 84h1v1h-1zM475 85h1v1h-1zM474 89h1v1h-1zM475 90h1v1h-1zM475 91h1v1h-1zM488 91h1v1h-1zM488 92h1v1h-1zM488 93h1v1h-1zM475 94h1v1h-1zM488 94h1v1h-1zM488 96h1v1h-1zM475 97h1v1h-1zM486 97h1v1h-1zM476 98h2v1h-2zM485 98h1v1h-1zM477 99h1v1h-1zM484 99h1v1h-1zM479 100h2v1h-2zM483 100h3v1h-3zM478 101h1v1h-1zM480 101h1v1h-1zM483 101h1v1h-1z" fill="#5065f3"/>
<path d="M453 62h2v1h-2zM453 63h4v1h-4zM458 63h2v1h-2zM454 64h5v1h-5zM460 64h1v1h-1zM453 65h3v1h-3zM457 65h3v1h-3zM454 66h2v1h-2zM457 66h4v1h-4zM455 67h3v1h-3zM480 77h3v1h-3zM479 78h2v1h-2zM482 78h1v1h-1zM478 79h1v1h-1zM480 79h1v1h-1zM483 79h2v1h-2zM478 80h2v1h-2zM484 80h1v1h-1zM486 82h1v1h-1zM487 83h1v1h-1zM487 84h1v1h-1zM487 85h1v1h-1zM488 86h1v1h-1zM488 87h1v1h-1zM488 88h1v1h-1zM475 89h1v1h-1zM488 90h1v1h-1zM476 91h1v1h-1zM487 91h1v1h-1zM487 92h1v1h-1zM476 93h1v1h-1zM476 94h1v1h-1zM486 94h1v1h-1zM486 95h1v1h-1zM476 96h2v1h-2zM485 96h2v1h-2zM477 97h2v1h-2zM485 97h1v1h-1zM478 98h4v1h-4zM483 98h1v1h-1zM480 99h4v1h-4z" fill="#334ff7"/>
<path d="M481 79h2v1h-2zM480 80h4v1h-4zM479 81h1v1h-1zM481 81h3v1h-3zM478 82h1v1h-1zM484 82h1v1h-1zM477 83h1v1h-1zM485 83h2v1h-2zM477 84h1v1h-1zM476 86h1v1h-1zM476 87h1v1h-1zM487 87h1v1h-1zM476 88h1v1h-1zM487 88h1v1h-1zM476 89h1v1h-1zM487 89h1v1h-1zM477 90h1v1h-1zM487 90h1v1h-1zM477 91h1v1h-1zM477 92h1v1h-1zM486 92h1v1h-1zM477 93h1v1h-1zM477 94h1v1h-1zM485 94h1v1h-1zM477 95h2v1h-2zM485 95h1v1h-1zM479 96h6v1h-6zM479 97h5v1h-5z" fill="#2553fb"/>
<path d="M479 82h4v1h-4zM478 83h7v1h-7zM478 84h1v1h-1zM484 84h2v1h-2zM477 85h2v1h-2zM485 85h1v1h-1zM477 86h1v1h-1zM486 86h1v1h-1zM486 87h1v1h-1zM477 88h1v1h-1zM486 88h1v1h-1zM477 89h2v1h-2zM486 89h1v1h-1zM478 90h1v1h-1zM486 90h1v1h-1zM479 91h1v1h-1zM485 91h1v1h-1zM478 92h1v1h-1zM485 92h1v1h-1zM478 93h1v1h-1zM480 93h1v1h-1zM484 93h2v1h-2zM478 94h7v1h-7zM480 95h4v1h-4z" fill="#1c5cfe"/>
<path d="M479 84h5v1h-5zM479 85h6v1h-6zM478 86h2v1h-2zM484 86h2v1h-2zM478 87h2v1h-2zM484 87h2v1h-2zM478 88h2v1h-2zM485 88h1v1h-1zM479 89h1v1h-1zM485 89h1v1h-1zM479 90h1v1h-1zM484 90h2v1h-2zM480 91h1v1h-1zM484 91h1v1h-1zM480 92h5v1h-5zM481 93h3v1h-3z" fill="#1580f7"/>
<path d="M480 86h4v1h-4zM480 87h4v1h-4zM480 88h5v1h-5zM480 89h5v1h-5zM480 90h4v1h-4zM481 91h3v1h-3z" fill="#10aeec"/>
</g>
<rect x="429.8" y="36.5" width="82.1" height="80" fill="none" stroke="#777" stroke-width="1"/>
<text x="432.7" y="45.5" font-size="8.3">18.4</text>
<text x="509.9" y="45.5" font-size="8.3" text-anchor="end">0.44</text>
<text x="432.7" y="115.1" font-size="8.3">6.48</text>
<text x="509.9" y="115.1" font-size="8.3" text-anchor="end">74.4</text>
<text x="-0.5" y="171.4" font-size="17.5">B</text>
<text x="32.5" y="163.5" font-size="11.9">Leukocytes</text>
<text x="67" y="179" font-size="10" text-anchor="middle">NSG control</text>
<text x="161.5" y="179.3" font-size="10" text-anchor="middle">Human control</text>
<text x="254.6" y="167" font-size="10" text-anchor="middle" letter-spacing="0.3">NSG/2bF8LV-</text>
<text x="255" y="178.6" font-size="10" text-anchor="middle">hCBT recipient</text>
<text x="373" y="168.6" font-size="10" text-anchor="middle">NSGF8KO/2bF8LV-</text>
<text x="373" y="180.5" font-size="10" text-anchor="middle">hCBT recipient</text>
<text x="474.3" y="168.6" font-size="10" text-anchor="middle">NSGF8KO/2bF8LV-</text>
<text x="474.3" y="180.5" font-size="10" text-anchor="middle">hCBT recipient</text>
<line x1="17" y1="190" x2="17" y2="275" stroke="#000" stroke-width="1.3"/>
<line x1="16.35" y1="275" x2="294.5" y2="275" stroke="#000" stroke-width="1.3"/>
<polygon points="17,185 14,192 20,192" fill="#000"/>
<polygon points="299.5,275 292.5,272 292.5,278" fill="#000"/>
<line x1="332" y1="190.5" x2="332" y2="275" stroke="#000" stroke-width="1.3"/>
<line x1="331.35" y1="275" x2="509.5" y2="275" stroke="#000" stroke-width="1.3"/>
<polygon points="332,185.5 329,192.5 335,192.5" fill="#000"/>
<polygon points="514.5,275 507.5,272 507.5,278" fill="#000"/>
<text x="10.6" y="233" font-size="10" text-anchor="middle" transform="rotate(-90 10.6 233)">Human CD45</text>
<text x="325" y="229" font-size="10" text-anchor="middle" transform="rotate(-90 325 229)">Human CD45</text>
<text x="160.3" y="288.5" font-size="10" text-anchor="middle">Mouse CD45</text>
<text x="427" y="288.5" font-size="10" text-anchor="middle">Mouse CD45</text>
<rect x="25" y="184.5" width="85.4" height="83.2" fill="#fff"/>
<g filter="url(#soft)">
<path d="M71 212h1v1h-1zM70 215h1v1h-1zM75 217h1v1h-1zM75 218h1v1h-1zM73 220h1v1h-1zM76 220h1v1h-1zM74 221h1v1h-1zM72 222h1v1h-1zM81 224h1v1h-1zM46 225h1v1h-1zM74 225h1v1h-1zM73 227h1v1h-1zM75 227h2v1h-2zM68 228h2v1h-2zM73 228h1v1h-1zM58 229h1v1h-1zM71 229h1v1h-1zM68 231h1v1h-1zM79 231h1v1h-1zM59 232h1v1h-1zM67 232h2v1h-2zM81 233h1v1h-1zM85 233h1v1h-1zM81 235h1v1h-1zM82 238h1v1h-1zM85 238h1v1h-1zM47 239h1v1h-1zM59 239h1v1h-1zM48 240h1v1h-1zM64 240h1v1h-1zM60 241h1v1h-1zM55 243h1v1h-1zM47 244h1v1h-1zM64 245h1v1h-1zM38 248h1v1h-1zM53 248h1v1h-1zM53 249h1v1h-1zM66 249h1v1h-1zM55 251h1v1h-1zM62 251h1v1h-1zM83 251h1v1h-1zM86 251h1v1h-1zM66 252h1v1h-1zM82 256h1v1h-1zM67 258h1v1h-1zM82 258h1v1h-1zM65 259h1v1h-1zM67 262h1v1h-1zM30 264h1v1h-1zM82 264h1v1h-1zM67 265h1v1h-1zM81 265h1v1h-1zM64 266h1v1h-1zM67 266h1v1h-1zM80 266h1v1h-1zM82 266h1v1h-1z" fill="#8e98ef"/>
<path d="M74 228h2v1h-2zM76 229h1v1h-1zM71 230h1v1h-1zM75 230h1v1h-1zM77 230h1v1h-1zM72 231h1v1h-1zM74 231h4v1h-4zM70 232h2v1h-2zM77 232h1v1h-1zM80 233h1v1h-1zM69 234h1v1h-1zM79 234h1v1h-1zM69 235h1v1h-1zM80 236h1v1h-1zM68 237h1v1h-1zM68 242h1v1h-1zM81 242h1v1h-1zM82 243h1v1h-1zM82 244h1v1h-1zM68 245h1v1h-1zM83 245h1v1h-1zM83 246h1v1h-1zM82 247h2v1h-2zM67 248h1v1h-1zM82 248h1v1h-1zM82 249h1v1h-1zM67 252h1v1h-1zM68 253h1v1h-1zM81 253h1v1h-1zM67 254h1v1h-1zM81 254h1v1h-1zM81 259h1v1h-1zM67 260h1v1h-1zM81 260h1v1h-1zM67 261h1v1h-1zM81 261h1v1h-1zM69 262h1v1h-1zM70 263h1v1h-1zM78 263h1v1h-1zM69 264h1v1h-1zM71 264h1v1h-1zM76 264h4v1h-4zM70 265h1v1h-1zM72 265h1v1h-1zM74 265h2v1h-2zM77 265h3v1h-3zM74 266h1v1h-1z" fill="#6d7bef"/>
<path d="M74 232h3v1h-3zM70 233h1v1h-1zM72 233h2v1h-2zM76 233h1v1h-1zM71 234h1v1h-1zM77 234h2v1h-2zM70 235h1v1h-1zM78 235h1v1h-1zM70 236h1v1h-1zM70 237h1v1h-1zM79 237h1v1h-1zM69 240h1v1h-1zM80 240h1v1h-1zM80 242h1v1h-1zM80 243h1v1h-1zM81 244h1v1h-1zM81 245h1v1h-1zM69 249h1v1h-1zM69 250h1v1h-1zM81 250h1v1h-1zM69 251h1v1h-1zM80 251h2v1h-2zM69 252h1v1h-1zM80 252h1v1h-1zM69 254h1v1h-1zM69 255h1v1h-1zM80 255h1v1h-1zM69 256h1v1h-1zM70 257h1v1h-1zM80 257h1v1h-1zM69 258h2v1h-2zM80 258h1v1h-1zM70 259h1v1h-1zM79 259h1v1h-1zM71 260h1v1h-1zM79 260h2v1h-2zM70 261h1v1h-1zM72 261h1v1h-1zM77 261h3v1h-3zM70 262h6v1h-6zM77 262h2v1h-2zM71 263h1v1h-1zM73 263h3v1h-3zM73 264h2v1h-2z" fill="#5065f3"/>
<path d="M72 234h5v1h-5zM71 235h2v1h-2zM76 235h1v1h-1zM71 236h1v1h-1zM77 236h1v1h-1zM78 237h1v1h-1zM70 238h1v1h-1zM79 238h1v1h-1zM70 239h1v1h-1zM79 239h1v1h-1zM70 240h1v1h-1zM79 240h1v1h-1zM79 241h1v1h-1zM79 242h1v1h-1zM69 244h1v1h-1zM80 245h1v1h-1zM69 246h1v1h-1zM69 247h1v1h-1zM80 247h1v1h-1zM80 248h1v1h-1zM80 249h1v1h-1zM70 250h1v1h-1zM80 250h1v1h-1zM70 251h1v1h-1zM79 251h1v1h-1zM70 252h1v1h-1zM79 252h1v1h-1zM70 253h1v1h-1zM79 254h1v1h-1zM79 255h1v1h-1zM71 256h1v1h-1zM79 256h1v1h-1zM71 257h1v1h-1zM78 257h2v1h-2zM71 258h1v1h-1zM78 258h2v1h-2zM71 259h2v1h-2zM77 259h2v1h-2zM72 260h1v1h-1zM74 260h5v1h-5zM73 261h4v1h-4z" fill="#334ff7"/>
<path d="M73 235h3v1h-3zM72 236h2v1h-2zM75 236h2v1h-2zM72 237h1v1h-1zM77 237h1v1h-1zM71 238h1v1h-1zM78 238h1v1h-1zM71 239h1v1h-1zM78 239h1v1h-1zM78 240h1v1h-1zM70 241h1v1h-1zM70 242h1v1h-1zM70 243h1v1h-1zM79 243h1v1h-1zM70 244h1v1h-1zM79 244h1v1h-1zM70 245h1v1h-1zM79 245h1v1h-1zM70 246h1v1h-1zM79 246h1v1h-1zM70 247h1v1h-1zM79 247h1v1h-1zM70 248h1v1h-1zM79 248h1v1h-1zM70 249h1v1h-1zM79 249h1v1h-1zM71 250h1v1h-1zM79 250h1v1h-1zM71 251h1v1h-1zM78 251h1v1h-1zM71 252h1v1h-1zM78 252h1v1h-1zM71 253h1v1h-1zM78 253h1v1h-1zM78 254h1v1h-1zM71 255h2v1h-2zM78 255h1v1h-1zM72 256h1v1h-1zM77 256h2v1h-2zM72 257h4v1h-4zM77 257h1v1h-1zM72 258h6v1h-6zM73 259h4v1h-4z" fill="#2553fb"/>
<path d="M74 236h1v1h-1zM73 237h4v1h-4zM72 238h1v1h-1zM76 238h2v1h-2zM72 239h1v1h-1zM77 239h1v1h-1zM71 240h1v1h-1zM71 241h1v1h-1zM78 241h1v1h-1zM71 242h1v1h-1zM78 242h1v1h-1zM71 243h1v1h-1zM78 243h1v1h-1zM71 244h1v1h-1zM78 244h1v1h-1zM71 245h1v1h-1zM78 245h1v1h-1zM71 246h1v1h-1zM71 247h1v1h-1zM71 248h1v1h-1zM71 249h1v1h-1zM78 249h1v1h-1zM78 250h1v1h-1zM72 251h1v1h-1zM77 251h1v1h-1zM72 252h1v1h-1zM77 252h1v1h-1zM72 253h1v1h-1zM76 253h2v1h-2zM72 254h2v1h-2zM76 254h2v1h-2zM73 255h5v1h-5zM73 256h4v1h-4z" fill="#1c5cfe"/>
<path d="M73 238h3v1h-3zM73 239h1v1h-1zM76 239h1v1h-1zM72 240h1v1h-1zM77 240h1v1h-1zM77 241h1v1h-1zM77 242h1v1h-1zM77 243h1v1h-1zM77 244h1v1h-1zM78 246h1v1h-1zM78 247h1v1h-1zM72 248h1v1h-1zM78 248h1v1h-1zM72 249h1v1h-1zM77 249h1v1h-1zM72 250h2v1h-2zM77 250h1v1h-1zM73 251h1v1h-1zM76 251h1v1h-1zM73 252h4v1h-4zM73 253h3v1h-3zM74 254h2v1h-2z" fill="#1580f7"/>
<path d="M74 239h2v1h-2zM73 240h1v1h-1zM75 240h2v1h-2zM72 241h1v1h-1zM76 241h1v1h-1zM72 242h1v1h-1zM76 242h1v1h-1zM72 243h1v1h-1zM76 243h1v1h-1zM72 244h1v1h-1zM72 245h1v1h-1zM77 245h1v1h-1zM72 246h1v1h-1zM77 246h1v1h-1zM72 247h1v1h-1zM77 247h1v1h-1zM73 248h1v1h-1zM77 248h1v1h-1zM73 249h1v1h-1zM76 249h1v1h-1zM74 250h3v1h-3zM74 251h2v1h-2z" fill="#10aeec"/>
<path d="M74 240h1v1h-1zM73 241h3v1h-3zM73 242h3v1h-3zM73 243h3v1h-3zM73 244h4v1h-4zM73 245h4v1h-4zM73 246h2v1h-2zM76 246h1v1h-1zM73 247h4v1h-4zM74 248h3v1h-3zM74 249h2v1h-2z" fill="#12ccbe"/>
<path d="M75 246h1v1h-1z" fill="#22e289"/>
</g>
<line x1="67.2" y1="184.5" x2="67.2" y2="267.7" stroke="#808080" stroke-width="1"/>
<line x1="25" y1="228.9" x2="110.4" y2="228.9" stroke="#808080" stroke-width="1"/>
<rect x="25" y="184.5" width="85.4" height="83.2" fill="none" stroke="#777" stroke-width="1"/>
<text x="26.6" y="191.6" font-size="8.3">0.03</text>
<text x="108.4" y="191.6" font-size="8.3" text-anchor="end">0.25</text>
<text x="26.6" y="264.5" font-size="8.3">0.72</text>
<text x="108.4" y="264.5" font-size="8.3" text-anchor="end"></text>
<rect x="119" y="184.8" width="84" height="82.2" fill="#fff"/>
<g filter="url(#soft)">
<path d="M171 185h1v1h-1zM148 186h1v1h-1zM175 195h1v1h-1zM184 195h1v1h-1zM172 196h1v1h-1zM169 197h1v1h-1zM171 199h1v1h-1zM178 199h1v1h-1zM169 202h1v1h-1zM170 204h1v1h-1zM171 205h1v1h-1zM174 205h1v1h-1zM169 206h1v1h-1zM185 206h1v1h-1zM166 207h1v1h-1zM171 207h1v1h-1zM173 208h1v1h-1zM120 209h1v1h-1zM170 210h1v1h-1zM121 212h1v1h-1zM120 215h1v1h-1zM166 216h1v1h-1zM176 216h1v1h-1zM172 218h1v1h-1zM160 221h1v1h-1zM144 222h1v1h-1zM121 223h1v1h-1zM126 223h1v1h-1zM153 223h1v1h-1zM161 223h1v1h-1zM120 225h1v1h-1zM127 225h1v1h-1zM123 226h1v1h-1zM146 226h1v1h-1zM166 226h1v1h-1zM121 227h1v1h-1zM152 227h1v1h-1zM157 227h1v1h-1zM123 228h1v1h-1zM122 230h1v1h-1zM150 230h1v1h-1zM158 231h1v1h-1zM152 233h1v1h-1zM122 234h1v1h-1zM143 237h1v1h-1zM145 237h1v1h-1zM159 237h1v1h-1zM133 238h1v1h-1zM126 239h1v1h-1zM135 239h1v1h-1zM152 239h1v1h-1zM158 239h1v1h-1zM132 240h1v1h-1zM141 240h2v1h-2zM135 241h1v1h-1zM146 241h1v1h-1zM148 241h1v1h-1zM121 242h2v1h-2zM124 242h1v1h-1zM145 242h1v1h-1zM123 243h1v1h-1zM151 243h1v1h-1zM139 244h1v1h-1zM151 244h1v1h-1zM146 245h1v1h-1zM123 246h1v1h-1zM121 247h1v1h-1zM131 247h1v1h-1zM142 247h1v1h-1zM144 248h1v1h-1zM140 249h1v1h-1zM144 249h1v1h-1zM129 250h2v1h-2zM133 250h2v1h-2zM138 250h1v1h-1zM130 251h1v1h-1zM146 251h1v1h-1zM122 252h1v1h-1zM128 252h1v1h-1zM149 252h1v1h-1zM128 253h1v1h-1zM140 253h1v1h-1zM145 253h1v1h-1zM141 254h1v1h-1zM131 255h1v1h-1zM126 256h1v1h-1zM132 256h1v1h-1zM133 257h1v1h-1zM139 258h1v1h-1zM128 259h1v1h-1zM130 259h1v1h-1zM129 263h1v1h-1z" fill="#8e98ef"/>
<path d="M161 186h1v1h-1zM164 187h1v1h-1zM166 187h2v1h-2zM143 188h2v1h-2zM146 188h1v1h-1zM170 188h1v1h-1zM170 189h1v1h-1zM169 190h2v1h-2zM170 193h1v1h-1zM167 196h1v1h-1zM166 198h1v1h-1zM120 199h1v1h-1zM165 199h1v1h-1zM167 199h2v1h-2zM121 200h1v1h-1zM164 200h1v1h-1zM167 201h2v1h-2zM164 202h1v1h-1zM121 203h1v1h-1zM164 203h1v1h-1zM163 204h1v1h-1zM163 205h1v1h-1zM163 206h2v1h-2zM120 207h3v1h-3zM163 207h1v1h-1zM163 208h1v1h-1zM121 209h1v1h-1zM124 210h2v1h-2zM164 211h2v1h-2zM123 212h2v1h-2zM164 212h1v1h-1zM123 213h3v1h-3zM122 215h2v1h-2zM165 215h1v1h-1zM124 216h3v1h-3zM163 216h2v1h-2zM123 217h1v1h-1zM127 217h1v1h-1zM161 217h2v1h-2zM130 218h1v1h-1zM122 219h2v1h-2zM127 219h2v1h-2zM132 219h1v1h-1zM159 219h1v1h-1zM122 220h1v1h-1zM124 220h1v1h-1zM127 220h4v1h-4zM133 220h1v1h-1zM135 220h1v1h-1zM148 220h2v1h-2zM158 220h1v1h-1zM123 221h1v1h-1zM127 221h1v1h-1zM133 221h1v1h-1zM135 221h2v1h-2zM144 221h1v1h-1zM148 221h1v1h-1zM155 221h2v1h-2zM122 222h1v1h-1zM130 222h1v1h-1zM140 222h1v1h-1zM130 223h1v1h-1zM137 223h2v1h-2zM140 223h1v1h-1zM129 224h1v1h-1zM134 224h2v1h-2zM137 224h1v1h-1zM148 224h2v1h-2zM128 225h1v1h-1zM130 225h1v1h-1zM133 225h1v1h-1zM137 225h3v1h-3zM143 225h1v1h-1zM149 225h1v1h-1zM135 226h2v1h-2zM138 226h1v1h-1zM142 226h1v1h-1zM129 227h1v1h-1zM133 227h2v1h-2zM139 227h1v1h-1zM141 227h5v1h-5zM136 228h2v1h-2zM129 229h1v1h-1zM135 229h1v1h-1zM138 229h1v1h-1zM141 229h1v1h-1zM143 229h1v1h-1zM126 230h1v1h-1zM128 230h1v1h-1zM133 230h1v1h-1zM139 230h1v1h-1zM143 230h1v1h-1zM145 230h2v1h-2zM123 231h2v1h-2zM126 231h1v1h-1zM134 231h2v1h-2zM137 231h1v1h-1zM140 231h1v1h-1zM127 232h1v1h-1zM132 232h1v1h-1zM135 232h1v1h-1zM138 232h2v1h-2zM142 232h1v1h-1zM146 232h1v1h-1zM148 232h1v1h-1zM122 233h1v1h-1zM124 233h1v1h-1zM134 233h1v1h-1zM140 233h1v1h-1zM145 233h1v1h-1zM147 233h2v1h-2zM150 233h2v1h-2zM126 234h1v1h-1zM128 234h1v1h-1zM132 234h2v1h-2zM137 234h3v1h-3zM150 234h1v1h-1zM135 235h1v1h-1zM142 235h1v1h-1zM144 235h2v1h-2zM127 236h2v1h-2zM132 236h1v1h-1zM138 236h2v1h-2zM130 237h2v1h-2zM137 237h1v1h-1zM139 237h2v1h-2zM128 238h1v1h-1zM138 239h1v1h-1zM127 240h3v1h-3zM137 240h1v1h-1zM139 240h1v1h-1zM128 241h1v1h-1zM128 242h1v1h-1zM131 242h1v1h-1zM133 242h1v1h-1zM138 242h1v1h-1zM129 243h1v1h-1zM136 243h1v1h-1zM131 244h1v1h-1zM134 244h1v1h-1zM136 244h1v1h-1zM138 244h1v1h-1zM136 245h1v1h-1zM132 246h2v1h-2zM134 247h1v1h-1zM136 248h1v1h-1zM139 248h1v1h-1zM135 249h1v1h-1zM137 249h1v1h-1z" fill="#6d7bef"/>
<path d="M124 187h1v1h-1zM157 187h1v1h-1zM120 188h1v1h-1zM142 188h1v1h-1zM156 188h1v1h-1zM165 188h1v1h-1zM142 189h2v1h-2zM145 189h3v1h-3zM150 189h3v1h-3zM167 190h2v1h-2zM168 191h1v1h-1zM168 192h2v1h-2zM167 194h1v1h-1zM167 195h1v1h-1zM120 197h1v1h-1zM123 198h3v1h-3zM165 198h1v1h-1zM122 199h1v1h-1zM124 199h2v1h-2zM127 199h1v1h-1zM164 199h1v1h-1zM124 200h1v1h-1zM126 200h3v1h-3zM163 200h1v1h-1zM124 201h2v1h-2zM127 201h4v1h-4zM162 201h1v1h-1zM122 202h8v1h-8zM162 202h1v1h-1zM122 203h1v1h-1zM126 203h1v1h-1zM160 203h2v1h-2zM121 204h1v1h-1zM123 204h1v1h-1zM125 204h1v1h-1zM129 204h1v1h-1zM160 204h3v1h-3zM121 205h2v1h-2zM127 205h2v1h-2zM161 205h1v1h-1zM122 206h7v1h-7zM159 206h1v1h-1zM161 206h2v1h-2zM123 207h1v1h-1zM125 207h4v1h-4zM128 208h2v1h-2zM159 208h3v1h-3zM126 209h2v1h-2zM161 209h2v1h-2zM126 210h1v1h-1zM128 210h1v1h-1zM162 210h2v1h-2zM127 211h3v1h-3zM162 211h2v1h-2zM127 212h2v1h-2zM162 212h1v1h-1zM127 213h1v1h-1zM129 213h1v1h-1zM162 213h1v1h-1zM127 214h3v1h-3zM161 214h2v1h-2zM127 215h1v1h-1zM162 215h1v1h-1zM128 216h3v1h-3zM160 216h1v1h-1zM162 216h1v1h-1zM129 217h1v1h-1zM131 217h1v1h-1zM135 217h1v1h-1zM160 217h1v1h-1zM131 218h1v1h-1zM133 218h1v1h-1zM136 218h1v1h-1zM157 218h1v1h-1zM138 219h5v1h-5zM150 219h1v1h-1zM153 219h2v1h-2zM156 219h1v1h-1zM138 220h3v1h-3z" fill="#5065f3"/>
<path d="M124 188h1v1h-1zM157 188h3v1h-3zM161 188h1v1h-1zM120 189h1v1h-1zM141 189h1v1h-1zM154 189h2v1h-2zM162 189h1v1h-1zM165 189h1v1h-1zM145 190h1v1h-1zM147 190h2v1h-2zM150 190h1v1h-1zM152 190h2v1h-2zM147 191h3v1h-3zM166 191h2v1h-2zM167 192h1v1h-1zM166 193h2v1h-2zM166 194h1v1h-1zM120 196h1v1h-1zM164 196h2v1h-2zM121 197h4v1h-4zM126 197h1v1h-1zM163 197h2v1h-2zM127 198h1v1h-1zM129 198h4v1h-4zM161 198h3v1h-3zM129 199h4v1h-4zM160 199h3v1h-3zM160 200h1v1h-1zM131 201h2v1h-2zM160 201h2v1h-2zM131 202h1v1h-1zM159 202h1v1h-1zM130 204h1v1h-1zM158 204h1v1h-1zM129 205h1v1h-1zM158 205h1v1h-1zM129 206h1v1h-1zM157 206h2v1h-2zM129 207h3v1h-3zM130 208h2v1h-2zM156 208h2v1h-2zM131 209h1v1h-1zM157 209h3v1h-3zM130 210h3v1h-3zM159 210h3v1h-3zM160 211h2v1h-2zM130 212h2v1h-2zM159 212h2v1h-2zM130 213h2v1h-2zM159 213h3v1h-3zM130 214h2v1h-2zM160 214h1v1h-1zM131 215h3v1h-3zM158 215h3v1h-3zM132 216h4v1h-4zM158 216h2v1h-2zM137 217h1v1h-1zM156 217h2v1h-2zM138 218h4v1h-4zM150 218h2v1h-2zM153 218h1v1h-1zM155 218h1v1h-1zM144 219h1v1h-1zM146 219h1v1h-1z" fill="#334ff7"/>
<path d="M126 188h2v1h-2zM129 188h3v1h-3zM134 188h1v1h-1zM121 189h2v1h-2zM138 189h2v1h-2zM156 189h5v1h-5zM120 190h1v1h-1zM140 190h3v1h-3zM155 190h1v1h-1zM162 190h3v1h-3zM143 191h4v1h-4zM150 191h2v1h-2zM153 191h1v1h-1zM164 191h2v1h-2zM146 192h5v1h-5zM165 192h2v1h-2zM165 193h1v1h-1zM165 194h1v1h-1zM120 195h1v1h-1zM164 195h1v1h-1zM121 196h2v1h-2zM163 196h1v1h-1zM128 197h5v1h-5zM134 197h2v1h-2zM160 197h3v1h-3zM133 198h3v1h-3zM133 199h2v1h-2zM158 199h2v1h-2zM133 200h2v1h-2zM158 200h2v1h-2zM133 201h2v1h-2zM159 201h1v1h-1zM132 202h2v1h-2zM158 202h1v1h-1zM131 203h2v1h-2zM157 203h2v1h-2zM131 204h1v1h-1zM157 204h1v1h-1zM131 205h2v1h-2zM156 205h2v1h-2zM131 206h2v1h-2zM156 206h1v1h-1zM132 207h3v1h-3zM155 207h2v1h-2zM133 208h3v1h-3zM154 208h1v1h-1zM133 209h4v1h-4zM154 209h3v1h-3zM133 210h4v1h-4zM156 210h2v1h-2zM132 211h5v1h-5zM157 211h1v1h-1zM132 212h4v1h-4zM157 212h1v1h-1zM132 213h4v1h-4zM157 213h2v1h-2zM133 214h3v1h-3zM157 214h2v1h-2zM134 215h1v1h-1zM136 215h1v1h-1zM157 215h1v1h-1zM136 216h2v1h-2zM155 216h3v1h-3zM138 217h3v1h-3zM153 217h3v1h-3zM143 218h5v1h-5z" fill="#2553fb"/>
<path d="M123 189h3v1h-3zM135 189h2v1h-2zM121 190h1v1h-1zM139 190h1v1h-1zM156 190h6v1h-6zM120 191h1v1h-1zM140 191h3v1h-3zM155 191h1v1h-1zM161 191h3v1h-3zM142 192h4v1h-4zM152 192h1v1h-1zM163 192h2v1h-2zM145 193h6v1h-6zM164 193h1v1h-1zM120 194h1v1h-1zM145 194h4v1h-4zM163 194h2v1h-2zM121 195h1v1h-1zM162 195h2v1h-2zM125 196h1v1h-1zM127 196h3v1h-3zM131 196h1v1h-1zM133 196h5v1h-5zM160 196h3v1h-3zM137 197h2v1h-2zM158 197h2v1h-2zM136 198h2v1h-2zM156 198h2v1h-2zM135 199h2v1h-2zM156 199h2v1h-2zM135 200h1v1h-1zM157 200h1v1h-1zM135 201h1v1h-1zM157 201h1v1h-1zM134 202h1v1h-1zM157 202h1v1h-1zM133 203h2v1h-2zM156 203h1v1h-1zM132 204h2v1h-2zM156 204h1v1h-1zM133 205h2v1h-2zM155 205h1v1h-1zM133 206h3v1h-3zM154 206h2v1h-2zM135 207h2v1h-2zM152 207h3v1h-3zM136 208h3v1h-3zM151 208h2v1h-2zM137 209h3v1h-3zM151 209h3v1h-3zM137 210h2v1h-2zM152 210h4v1h-4zM154 211h3v1h-3zM136 212h2v1h-2zM155 212h2v1h-2zM136 213h2v1h-2zM156 213h1v1h-1zM136 214h2v1h-2zM156 214h1v1h-1zM137 215h2v1h-2zM155 215h2v1h-2zM138 216h3v1h-3zM153 216h2v1h-2zM141 217h12v1h-12z" fill="#1c5cfe"/>
<path d="M126 189h9v1h-9zM122 190h2v1h-2zM137 190h2v1h-2zM121 191h1v1h-1zM139 191h1v1h-1zM156 191h5v1h-5zM120 192h1v1h-1zM140 192h2v1h-2zM153 192h3v1h-3zM160 192h3v1h-3zM120 193h1v1h-1zM140 193h5v1h-5zM151 193h2v1h-2zM161 193h3v1h-3zM121 194h1v1h-1zM140 194h5v1h-5zM149 194h3v1h-3zM161 194h2v1h-2zM122 195h3v1h-3zM137 195h13v1h-13zM159 195h3v1h-3zM130 196h1v1h-1zM138 196h7v1h-7zM157 196h3v1h-3zM139 197h2v1h-2zM155 197h3v1h-3zM138 198h1v1h-1zM154 198h2v1h-2zM137 199h1v1h-1zM155 199h1v1h-1zM136 200h1v1h-1zM155 200h2v1h-2zM136 201h1v1h-1zM156 201h1v1h-1zM135 202h1v1h-1zM155 202h2v1h-2zM135 203h1v1h-1zM155 203h1v1h-1zM134 204h2v1h-2zM155 204h1v1h-1zM135 205h2v1h-2zM154 205h1v1h-1zM136 206h2v1h-2zM152 206h2v1h-2zM137 207h3v1h-3zM150 207h2v1h-2zM139 208h3v1h-3zM149 208h2v1h-2zM140 209h3v1h-3zM149 209h2v1h-2zM139 210h4v1h-4zM150 210h2v1h-2zM138 211h3v1h-3zM151 211h3v1h-3zM138 212h2v1h-2zM153 212h2v1h-2zM138 213h2v1h-2zM153 213h3v1h-3zM138 214h2v1h-2zM154 214h2v1h-2zM139 215h3v1h-3zM153 215h2v1h-2zM141 216h12v1h-12z" fill="#1580f7"/>
<path d="M124 190h3v1h-3zM133 190h4v1h-4zM122 191h1v1h-1zM137 191h2v1h-2zM121 192h1v1h-1zM139 192h1v1h-1zM156 192h4v1h-4zM121 193h1v1h-1zM139 193h1v1h-1zM153 193h8v1h-8zM122 194h2v1h-2zM138 194h2v1h-2zM152 194h9v1h-9zM125 195h12v1h-12zM150 195h9v1h-9zM145 196h12v1h-12zM141 197h2v1h-2zM152 197h3v1h-3zM139 198h2v1h-2zM153 198h1v1h-1zM138 199h1v1h-1zM153 199h2v1h-2zM137 200h1v1h-1zM154 200h1v1h-1zM137 201h1v1h-1zM154 201h2v1h-2zM136 202h1v1h-1zM154 202h1v1h-1zM136 203h1v1h-1zM154 203h1v1h-1zM136 204h1v1h-1zM153 204h2v1h-2zM137 205h1v1h-1zM152 205h2v1h-2zM138 206h1v1h-1zM151 206h1v1h-1zM140 207h2v1h-2zM149 207h1v1h-1zM142 208h7v1h-7zM143 209h6v1h-6zM143 210h7v1h-7zM141 211h5v1h-5zM149 211h2v1h-2zM140 212h4v1h-4zM151 212h2v1h-2zM140 213h3v1h-3zM151 213h2v1h-2zM140 214h3v1h-3zM151 214h3v1h-3zM142 215h11v1h-11z" fill="#10aeec"/>
<path d="M127 190h6v1h-6zM123 191h3v1h-3zM134 191h3v1h-3zM122 192h2v1h-2zM137 192h2v1h-2zM122 193h2v1h-2zM136 193h3v1h-3zM124 194h5v1h-5zM132 194h6v1h-6zM143 197h9v1h-9zM141 198h1v1h-1zM151 198h2v1h-2zM139 199h2v1h-2zM152 199h1v1h-1zM138 200h1v1h-1zM153 200h1v1h-1zM138 201h1v1h-1zM153 201h1v1h-1zM137 202h1v1h-1zM153 202h1v1h-1zM137 203h1v1h-1zM153 203h1v1h-1zM137 204h1v1h-1zM152 204h1v1h-1zM138 205h1v1h-1zM151 205h1v1h-1zM139 206h2v1h-2zM149 206h2v1h-2zM142 207h7v1h-7zM146 211h3v1h-3zM144 212h7v1h-7zM143 213h8v1h-8zM143 214h8v1h-8z" fill="#12ccbe"/>
<path d="M126 191h8v1h-8zM124 192h2v1h-2zM132 192h5v1h-5zM124 193h4v1h-4zM131 193h5v1h-5zM129 194h3v1h-3zM142 198h9v1h-9zM141 199h1v1h-1zM151 199h1v1h-1zM139 200h1v1h-1zM152 200h1v1h-1zM139 201h1v1h-1zM152 201h1v1h-1zM138 202h1v1h-1zM152 202h1v1h-1zM138 203h1v1h-1zM152 203h1v1h-1zM138 204h2v1h-2zM151 204h1v1h-1zM139 205h2v1h-2zM149 205h2v1h-2zM141 206h2v1h-2zM147 206h2v1h-2z" fill="#22e289"/>
<path d="M126 192h6v1h-6zM128 193h3v1h-3zM142 199h2v1h-2zM149 199h2v1h-2zM140 200h2v1h-2zM151 200h1v1h-1zM140 201h1v1h-1zM151 201h1v1h-1zM139 202h1v1h-1zM151 202h1v1h-1zM139 203h1v1h-1zM151 203h1v1h-1zM140 204h1v1h-1zM150 204h1v1h-1zM141 205h1v1h-1zM147 205h2v1h-2zM143 206h4v1h-4z" fill="#6aea49"/>
<path d="M144 199h5v1h-5zM142 200h1v1h-1zM149 200h2v1h-2zM141 201h1v1h-1zM150 201h1v1h-1zM140 202h1v1h-1zM150 202h1v1h-1zM140 203h1v1h-1zM150 203h1v1h-1zM141 204h1v1h-1zM148 204h2v1h-2zM142 205h5v1h-5z" fill="#bddd2b"/>
<path d="M143 200h6v1h-6zM142 201h2v1h-2zM146 201h4v1h-4zM141 202h2v1h-2zM148 202h2v1h-2zM141 203h2v1h-2zM147 203h3v1h-3zM142 204h6v1h-6z" fill="#efa11d"/>
<path d="M144 201h2v1h-2zM143 202h5v1h-5zM143 203h4v1h-4z" fill="#eb2819"/>
</g>
<rect x="119" y="184.8" width="84" height="82.2" fill="none" stroke="#777" stroke-width="1"/>
<text x="120.8" y="191.1" font-size="8.3">98.4</text>
<text x="201" y="191.1" font-size="8.3" text-anchor="end">1.03</text>
<text x="120.8" y="264.4" font-size="8.3">0.53</text>
<text x="201" y="264.4" font-size="8.3" text-anchor="end">0.002</text>
<rect x="212.8" y="184.5" width="84.7" height="82.7" fill="#fff"/>
<g filter="url(#soft)">
<path d="M213 185h1v1h-1zM231 185h1v1h-1zM242 185h1v1h-1zM215 186h1v1h-1zM222 186h1v1h-1zM236 186h1v1h-1zM254 186h1v1h-1zM247 191h1v1h-1zM252 191h1v1h-1zM255 191h1v1h-1zM250 193h1v1h-1zM250 195h1v1h-1zM252 196h1v1h-1zM254 196h1v1h-1zM250 197h2v1h-2zM247 198h1v1h-1zM247 199h1v1h-1zM249 200h1v1h-1zM248 201h3v1h-3zM242 203h1v1h-1zM248 203h1v1h-1zM245 204h1v1h-1zM247 204h1v1h-1zM250 204h1v1h-1zM243 205h1v1h-1zM246 205h1v1h-1zM213 206h1v1h-1zM213 207h1v1h-1zM215 207h1v1h-1zM227 207h1v1h-1zM230 207h1v1h-1zM220 208h1v1h-1zM232 208h1v1h-1zM236 208h1v1h-1zM222 209h1v1h-1zM232 209h3v1h-3zM236 209h1v1h-1zM243 209h1v1h-1zM270 209h1v1h-1zM217 210h1v1h-1zM225 210h1v1h-1zM227 210h1v1h-1zM236 210h1v1h-1zM214 211h1v1h-1zM217 211h1v1h-1zM221 211h1v1h-1zM223 211h2v1h-2zM232 211h1v1h-1zM220 212h1v1h-1zM226 212h1v1h-1zM230 212h1v1h-1zM253 212h1v1h-1zM251 216h1v1h-1zM215 217h1v1h-1zM228 217h1v1h-1zM266 218h1v1h-1zM268 218h1v1h-1zM257 219h1v1h-1zM220 220h1v1h-1zM266 224h1v1h-1zM262 225h1v1h-1zM216 226h1v1h-1zM236 226h1v1h-1zM240 226h1v1h-1zM265 226h1v1h-1zM266 227h2v1h-2zM219 229h1v1h-1zM227 229h1v1h-1zM240 229h1v1h-1zM265 229h1v1h-1zM233 230h2v1h-2zM248 230h1v1h-1zM252 230h1v1h-1zM254 230h1v1h-1zM265 230h1v1h-1zM268 230h1v1h-1zM218 231h1v1h-1zM267 231h2v1h-2zM219 232h1v1h-1zM224 232h1v1h-1zM254 232h1v1h-1zM257 232h1v1h-1zM264 232h2v1h-2zM269 232h1v1h-1zM233 233h1v1h-1zM239 233h1v1h-1zM245 233h1v1h-1zM264 233h1v1h-1zM268 233h1v1h-1zM234 234h1v1h-1zM240 234h2v1h-2zM248 234h1v1h-1zM250 234h1v1h-1zM263 234h1v1h-1zM225 235h1v1h-1zM234 235h1v1h-1zM236 235h1v1h-1zM244 235h1v1h-1zM241 236h1v1h-1zM256 236h1v1h-1zM270 236h1v1h-1zM214 237h1v1h-1zM225 237h2v1h-2zM229 237h2v1h-2zM234 237h1v1h-1zM245 237h1v1h-1zM249 237h1v1h-1zM255 237h1v1h-1zM263 237h1v1h-1zM270 237h1v1h-1zM216 238h1v1h-1zM220 238h1v1h-1zM247 238h1v1h-1zM272 238h1v1h-1zM232 239h1v1h-1zM238 239h1v1h-1zM240 239h1v1h-1zM244 239h1v1h-1zM246 239h1v1h-1zM248 239h2v1h-2zM252 239h1v1h-1zM271 239h1v1h-1zM227 240h1v1h-1zM230 240h1v1h-1zM237 240h1v1h-1zM239 240h1v1h-1zM245 240h1v1h-1zM260 240h1v1h-1zM230 241h1v1h-1zM233 241h1v1h-1zM240 241h1v1h-1zM252 241h1v1h-1zM261 241h1v1h-1zM242 242h1v1h-1zM247 242h1v1h-1zM251 242h1v1h-1zM226 243h1v1h-1zM236 243h1v1h-1zM242 243h1v1h-1zM248 243h1v1h-1zM229 244h1v1h-1zM232 244h3v1h-3zM238 244h1v1h-1zM228 245h1v1h-1zM235 245h2v1h-2zM259 245h1v1h-1zM271 245h1v1h-1zM228 246h1v1h-1zM233 246h2v1h-2zM239 246h1v1h-1zM243 246h1v1h-1zM247 246h1v1h-1zM222 247h1v1h-1zM226 247h3v1h-3zM232 247h2v1h-2zM237 247h1v1h-1zM243 247h1v1h-1zM230 248h1v1h-1zM240 248h1v1h-1zM246 248h1v1h-1zM222 249h1v1h-1zM231 249h1v1h-1zM239 249h1v1h-1zM247 249h1v1h-1zM214 250h1v1h-1zM232 250h1v1h-1zM250 250h1v1h-1zM254 250h1v1h-1zM272 250h1v1h-1zM226 251h1v1h-1zM234 251h1v1h-1zM237 251h1v1h-1zM230 252h1v1h-1zM233 252h1v1h-1zM248 252h1v1h-1zM248 253h1v1h-1zM274 253h1v1h-1zM234 254h1v1h-1zM236 254h1v1h-1zM240 254h1v1h-1zM245 254h1v1h-1zM260 254h1v1h-1zM235 255h1v1h-1zM253 255h1v1h-1zM271 255h1v1h-1zM227 256h3v1h-3zM238 256h1v1h-1zM238 257h1v1h-1zM240 257h1v1h-1zM260 257h1v1h-1zM231 258h1v1h-1zM270 258h1v1h-1zM220 259h1v1h-1zM233 259h1v1h-1zM236 259h1v1h-1zM260 259h2v1h-2zM271 259h1v1h-1zM230 260h1v1h-1zM233 260h1v1h-1zM217 261h1v1h-1zM232 261h1v1h-1zM249 261h1v1h-1zM231 262h1v1h-1zM238 262h1v1h-1zM269 262h1v1h-1zM261 263h1v1h-1zM224 264h1v1h-1zM248 264h1v1h-1zM261 264h1v1h-1zM265 264h1v1h-1zM245 265h1v1h-1zM267 265h1v1h-1zM239 266h1v1h-1zM258 266h1v1h-1zM263 266h2v1h-2z" fill="#8e98ef"/>
<path d="M228 185h1v1h-1zM226 186h3v1h-3zM234 186h1v1h-1zM218 187h1v1h-1zM220 187h1v1h-1zM223 187h1v1h-1zM234 187h2v1h-2zM237 187h1v1h-1zM240 188h2v1h-2zM214 189h1v1h-1zM241 189h2v1h-2zM213 190h1v1h-1zM243 190h2v1h-2zM244 191h2v1h-2zM244 193h2v1h-2zM244 194h3v1h-3zM244 195h1v1h-1zM244 196h1v1h-1zM246 197h1v1h-1zM244 198h2v1h-2zM213 200h1v1h-1zM242 200h1v1h-1zM244 200h2v1h-2zM241 201h1v1h-1zM243 201h1v1h-1zM213 202h2v1h-2zM240 202h1v1h-1zM243 202h1v1h-1zM214 203h1v1h-1zM239 203h1v1h-1zM214 204h2v1h-2zM218 204h1v1h-1zM236 204h1v1h-1zM238 204h1v1h-1zM213 205h1v1h-1zM215 205h1v1h-1zM217 205h2v1h-2zM230 205h2v1h-2zM236 205h1v1h-1zM238 205h1v1h-1zM219 206h1v1h-1zM222 206h2v1h-2zM225 206h1v1h-1zM234 206h1v1h-1zM236 206h1v1h-1zM222 207h1v1h-1zM224 208h3v1h-3zM224 210h1v1h-1zM267 234h1v1h-1zM265 235h1v1h-1zM267 235h2v1h-2zM265 236h1v1h-1zM268 236h1v1h-1zM266 237h1v1h-1zM228 238h2v1h-2zM265 238h1v1h-1zM267 238h3v1h-3zM228 239h1v1h-1zM263 239h1v1h-1zM265 239h3v1h-3zM228 240h2v1h-2zM265 240h1v1h-1zM268 240h1v1h-1zM262 241h1v1h-1zM264 241h1v1h-1zM267 241h2v1h-2zM239 242h2v1h-2zM262 242h1v1h-1zM269 242h1v1h-1zM269 243h1v1h-1zM240 244h1v1h-1zM262 244h1v1h-1zM269 244h2v1h-2zM242 245h1v1h-1zM262 245h2v1h-2zM270 245h1v1h-1zM242 246h1v1h-1zM262 248h1v1h-1zM269 248h3v1h-3zM270 249h1v1h-1zM270 250h1v1h-1zM271 251h1v1h-1zM261 252h2v1h-2zM271 252h1v1h-1zM261 253h1v1h-1zM269 253h1v1h-1zM261 254h2v1h-2zM263 255h1v1h-1zM269 255h2v1h-2zM263 256h2v1h-2zM269 256h1v1h-1zM263 257h1v1h-1zM265 257h1v1h-1zM267 257h2v1h-2zM263 258h3v1h-3zM267 258h1v1h-1zM262 259h1v1h-1zM265 259h1v1h-1zM267 259h1v1h-1zM263 260h1v1h-1zM267 260h1v1h-1zM262 261h3v1h-3zM266 261h1v1h-1zM268 261h1v1h-1zM263 262h3v1h-3zM267 262h1v1h-1zM264 263h1v1h-1zM267 263h1v1h-1z" fill="#6d7bef"/>
<path d="M225 187h1v1h-1zM227 187h1v1h-1zM229 187h3v1h-3zM220 188h1v1h-1zM224 188h1v1h-1zM234 188h1v1h-1zM217 189h1v1h-1zM219 189h1v1h-1zM236 189h1v1h-1zM214 190h1v1h-1zM216 190h1v1h-1zM239 190h2v1h-2zM213 191h3v1h-3zM239 191h1v1h-1zM241 191h2v1h-2zM213 192h2v1h-2zM241 192h1v1h-1zM243 192h1v1h-1zM213 193h2v1h-2zM243 193h1v1h-1zM213 194h2v1h-2zM242 194h2v1h-2zM242 195h2v1h-2zM243 196h1v1h-1zM213 197h1v1h-1zM242 197h2v1h-2zM213 198h1v1h-1zM241 198h1v1h-1zM214 199h1v1h-1zM241 199h2v1h-2zM240 200h1v1h-1zM214 201h1v1h-1zM239 201h1v1h-1zM215 202h3v1h-3zM238 202h1v1h-1zM217 203h1v1h-1zM220 203h1v1h-1zM235 203h4v1h-4zM219 204h4v1h-4zM226 204h1v1h-1zM228 204h1v1h-1zM230 204h3v1h-3zM234 204h1v1h-1zM224 205h1v1h-1zM226 205h1v1h-1zM224 206h1v1h-1zM265 241h1v1h-1zM266 242h1v1h-1zM266 243h2v1h-2zM264 244h1v1h-1zM266 244h1v1h-1zM268 244h1v1h-1zM264 245h5v1h-5zM264 246h4v1h-4zM264 247h3v1h-3zM268 247h1v1h-1zM263 248h6v1h-6zM263 249h4v1h-4zM268 249h1v1h-1zM263 250h2v1h-2zM266 250h2v1h-2zM269 250h1v1h-1zM263 251h2v1h-2zM266 251h2v1h-2zM269 251h1v1h-1zM264 252h5v1h-5zM263 253h2v1h-2zM267 253h1v1h-1zM263 254h4v1h-4zM266 255h2v1h-2zM265 256h1v1h-1zM267 256h1v1h-1z" fill="#5065f3"/>
<path d="M225 188h6v1h-6zM221 189h2v1h-2zM232 189h4v1h-4zM217 190h4v1h-4zM236 190h1v1h-1zM217 191h2v1h-2zM237 191h2v1h-2zM215 192h3v1h-3zM239 192h2v1h-2zM215 193h1v1h-1zM239 193h1v1h-1zM241 193h1v1h-1zM215 194h2v1h-2zM240 194h2v1h-2zM240 195h2v1h-2zM214 196h2v1h-2zM240 196h2v1h-2zM214 197h1v1h-1zM240 197h2v1h-2zM214 198h2v1h-2zM215 199h1v1h-1zM239 199h2v1h-2zM215 200h2v1h-2zM239 200h1v1h-1zM216 201h2v1h-2zM237 201h2v1h-2zM218 202h3v1h-3zM234 202h1v1h-1zM236 202h2v1h-2zM222 203h12v1h-12zM223 204h3v1h-3z" fill="#334ff7"/>
<path d="M224 189h5v1h-5zM230 189h2v1h-2zM221 190h2v1h-2zM232 190h4v1h-4zM219 191h1v1h-1zM235 191h2v1h-2zM218 192h2v1h-2zM236 192h2v1h-2zM217 193h2v1h-2zM237 193h2v1h-2zM217 194h1v1h-1zM238 194h2v1h-2zM216 195h2v1h-2zM238 195h2v1h-2zM216 196h1v1h-1zM238 196h2v1h-2zM215 197h2v1h-2zM239 197h1v1h-1zM216 198h1v1h-1zM238 198h2v1h-2zM216 199h2v1h-2zM238 199h1v1h-1zM218 200h1v1h-1zM237 200h2v1h-2zM218 201h4v1h-4zM234 201h3v1h-3zM222 202h4v1h-4zM229 202h5v1h-5z" fill="#2553fb"/>
<path d="M223 190h4v1h-4zM229 190h3v1h-3zM221 191h2v1h-2zM232 191h3v1h-3zM220 192h1v1h-1zM235 192h1v1h-1zM219 193h1v1h-1zM236 193h1v1h-1zM218 194h1v1h-1zM236 194h2v1h-2zM218 195h1v1h-1zM237 195h1v1h-1zM217 196h1v1h-1zM237 196h1v1h-1zM217 197h1v1h-1zM237 197h2v1h-2zM217 198h2v1h-2zM237 198h1v1h-1zM218 199h2v1h-2zM237 199h1v1h-1zM219 200h3v1h-3zM235 200h2v1h-2zM222 201h3v1h-3zM232 201h2v1h-2zM226 202h3v1h-3z" fill="#1c5cfe"/>
<path d="M227 190h2v1h-2zM223 191h3v1h-3zM230 191h2v1h-2zM221 192h2v1h-2zM232 192h3v1h-3zM220 193h2v1h-2zM234 193h2v1h-2zM219 194h2v1h-2zM235 194h1v1h-1zM219 195h1v1h-1zM236 195h1v1h-1zM218 196h2v1h-2zM236 196h1v1h-1zM218 197h2v1h-2zM236 197h1v1h-1zM219 198h2v1h-2zM236 198h1v1h-1zM220 199h2v1h-2zM235 199h2v1h-2zM222 200h3v1h-3zM233 200h2v1h-2zM225 201h7v1h-7z" fill="#1580f7"/>
<path d="M226 191h4v1h-4zM223 192h2v1h-2zM230 192h2v1h-2zM222 193h1v1h-1zM232 193h2v1h-2zM221 194h1v1h-1zM233 194h2v1h-2zM220 195h1v1h-1zM234 195h2v1h-2zM220 196h1v1h-1zM235 196h1v1h-1zM220 197h2v1h-2zM235 197h1v1h-1zM221 198h2v1h-2zM234 198h2v1h-2zM222 199h3v1h-3zM233 199h2v1h-2zM225 200h8v1h-8z" fill="#10aeec"/>
<path d="M225 192h5v1h-5zM223 193h3v1h-3zM229 193h3v1h-3zM222 194h2v1h-2zM231 194h2v1h-2zM221 195h2v1h-2zM232 195h2v1h-2zM221 196h2v1h-2zM233 196h2v1h-2zM222 197h1v1h-1zM233 197h2v1h-2zM223 198h2v1h-2zM231 198h3v1h-3zM225 199h8v1h-8z" fill="#12ccbe"/>
<path d="M226 193h3v1h-3zM224 194h7v1h-7zM223 195h2v1h-2zM230 195h2v1h-2zM223 196h2v1h-2zM230 196h3v1h-3zM223 197h3v1h-3zM230 197h3v1h-3zM225 198h6v1h-6z" fill="#22e289"/>
<path d="M225 195h5v1h-5zM225 196h5v1h-5zM226 197h4v1h-4z" fill="#6aea49"/>
</g>
<line x1="253.7" y1="184.5" x2="253.7" y2="267.2" stroke="#808080" stroke-width="1"/>
<line x1="212.8" y1="228.2" x2="297.5" y2="228.2" stroke="#808080" stroke-width="1"/>
<rect x="212.8" y="184.5" width="84.7" height="82.7" fill="none" stroke="#777" stroke-width="1"/>
<text x="214.4" y="192.2" font-size="8.3">81.4</text>
<text x="295.5" y="192.2" font-size="8.3" text-anchor="end">0.56</text>
<text x="214.4" y="263.3" font-size="8.3">8.12</text>
<text x="295.5" y="263.3" font-size="8.3" text-anchor="end">9.93</text>
<rect x="339.2" y="185.5" width="82.5" height="80.1" fill="#fff"/>
<g filter="url(#soft)">
<path d="M358 186h1v1h-1zM368 186h1v1h-1zM340 187h1v1h-1zM354 187h1v1h-1zM366 187h1v1h-1zM343 189h1v1h-1zM351 189h1v1h-1zM359 189h2v1h-2zM368 189h1v1h-1zM340 190h1v1h-1zM348 190h1v1h-1zM362 190h1v1h-1zM367 190h1v1h-1zM370 190h1v1h-1zM376 193h1v1h-1zM381 195h1v1h-1zM383 195h1v1h-1zM382 197h1v1h-1zM394 197h1v1h-1zM392 198h1v1h-1zM383 199h1v1h-1zM381 201h1v1h-1zM381 202h2v1h-2zM388 202h1v1h-1zM385 203h1v1h-1zM380 204h2v1h-2zM380 205h1v1h-1zM377 206h1v1h-1zM381 206h1v1h-1zM386 206h1v1h-1zM384 207h1v1h-1zM390 207h1v1h-1zM397 208h1v1h-1zM376 209h1v1h-1zM379 209h1v1h-1zM384 210h1v1h-1zM387 210h1v1h-1zM380 211h1v1h-1zM390 212h1v1h-1zM394 212h1v1h-1zM376 213h1v1h-1zM386 213h1v1h-1zM388 213h1v1h-1zM392 213h1v1h-1zM397 213h1v1h-1zM383 214h1v1h-1zM381 215h1v1h-1zM387 215h1v1h-1zM377 216h1v1h-1zM382 216h1v1h-1zM390 216h1v1h-1zM396 216h1v1h-1zM400 216h1v1h-1zM376 217h1v1h-1zM381 217h1v1h-1zM386 217h1v1h-1zM399 217h1v1h-1zM387 218h1v1h-1zM389 218h1v1h-1zM396 218h1v1h-1zM398 218h2v1h-2zM398 219h1v1h-1zM375 220h1v1h-1zM377 220h1v1h-1zM382 220h1v1h-1zM384 220h1v1h-1zM387 220h1v1h-1zM393 220h1v1h-1zM382 221h1v1h-1zM394 221h1v1h-1zM398 221h1v1h-1zM402 221h1v1h-1zM375 222h1v1h-1zM379 222h1v1h-1zM396 222h1v1h-1zM340 224h1v1h-1zM342 224h1v1h-1zM370 224h1v1h-1zM374 224h1v1h-1zM350 225h1v1h-1zM369 225h1v1h-1zM375 225h1v1h-1zM377 225h1v1h-1zM385 225h1v1h-1zM343 226h1v1h-1zM365 226h1v1h-1zM383 226h1v1h-1zM344 227h1v1h-1zM348 227h1v1h-1zM351 227h1v1h-1zM364 227h1v1h-1zM373 227h1v1h-1zM367 228h1v1h-1zM344 229h1v1h-1zM366 229h1v1h-1zM371 229h1v1h-1zM398 229h1v1h-1zM341 230h1v1h-1zM344 230h1v1h-1zM364 230h1v1h-1zM383 230h1v1h-1zM372 231h1v1h-1zM376 232h1v1h-1zM378 232h1v1h-1zM346 233h1v1h-1zM353 233h1v1h-1zM357 233h1v1h-1zM366 233h1v1h-1zM370 233h1v1h-1zM379 233h1v1h-1zM399 233h1v1h-1zM369 234h1v1h-1zM341 235h1v1h-1zM345 235h1v1h-1zM369 235h1v1h-1zM380 235h1v1h-1zM372 236h1v1h-1zM379 236h1v1h-1zM341 237h1v1h-1zM343 237h1v1h-1zM345 238h1v1h-1zM347 238h2v1h-2zM370 238h1v1h-1zM372 238h1v1h-1zM375 238h1v1h-1zM379 238h1v1h-1zM340 239h1v1h-1zM345 239h1v1h-1zM366 239h2v1h-2zM379 239h1v1h-1zM349 240h2v1h-2zM364 240h1v1h-1zM372 240h1v1h-1zM376 240h1v1h-1zM379 240h1v1h-1zM342 241h1v1h-1zM365 241h1v1h-1zM373 241h1v1h-1zM345 242h1v1h-1zM366 242h1v1h-1zM376 242h1v1h-1zM381 243h1v1h-1zM342 244h1v1h-1zM345 244h1v1h-1zM349 244h1v1h-1zM375 244h1v1h-1zM379 244h1v1h-1zM400 244h1v1h-1zM363 245h1v1h-1zM380 245h1v1h-1zM342 246h1v1h-1zM348 246h1v1h-1zM364 246h1v1h-1zM367 246h1v1h-1zM381 246h1v1h-1zM344 247h1v1h-1zM373 247h1v1h-1zM341 248h1v1h-1zM345 248h1v1h-1zM349 248h1v1h-1zM352 248h1v1h-1zM355 248h1v1h-1zM358 248h1v1h-1zM360 248h2v1h-2zM364 248h1v1h-1zM367 248h1v1h-1zM379 248h1v1h-1zM346 249h1v1h-1zM348 249h1v1h-1zM350 249h1v1h-1zM354 249h1v1h-1zM361 249h1v1h-1zM372 249h1v1h-1zM376 249h1v1h-1zM380 249h1v1h-1zM353 250h1v1h-1zM342 251h2v1h-2zM348 251h1v1h-1zM356 251h1v1h-1zM358 251h1v1h-1zM364 251h1v1h-1zM350 252h1v1h-1zM361 252h2v1h-2zM364 252h1v1h-1zM381 252h1v1h-1zM399 252h1v1h-1zM341 253h1v1h-1zM359 253h1v1h-1zM343 254h1v1h-1zM352 254h1v1h-1zM355 254h1v1h-1zM365 254h1v1h-1zM368 254h1v1h-1zM341 255h1v1h-1zM352 255h2v1h-2zM363 255h1v1h-1zM382 255h1v1h-1zM348 256h1v1h-1zM351 256h1v1h-1zM356 256h1v1h-1zM363 256h1v1h-1zM380 256h1v1h-1zM399 256h1v1h-1zM341 257h2v1h-2zM356 257h1v1h-1zM397 257h1v1h-1zM346 258h2v1h-2zM355 258h1v1h-1zM359 258h1v1h-1zM369 258h1v1h-1zM382 258h1v1h-1zM402 258h1v1h-1zM348 259h1v1h-1zM354 259h1v1h-1zM360 259h1v1h-1zM358 260h1v1h-1zM361 260h1v1h-1zM368 260h1v1h-1zM380 260h1v1h-1zM351 261h3v1h-3zM374 261h1v1h-1zM380 261h1v1h-1zM384 261h1v1h-1zM400 261h1v1h-1zM356 262h1v1h-1zM358 262h1v1h-1zM367 262h1v1h-1zM386 262h1v1h-1zM346 263h1v1h-1zM374 263h1v1h-1zM394 263h1v1h-1zM397 263h1v1h-1zM345 264h1v1h-1zM390 264h1v1h-1zM394 264h1v1h-1z" fill="#8e98ef"/>
<path d="M355 189h2v1h-2zM355 190h1v1h-1zM357 190h1v1h-1zM359 190h1v1h-1zM350 191h1v1h-1zM354 191h3v1h-3zM360 191h1v1h-1zM362 192h1v1h-1zM366 192h1v1h-1zM372 193h1v1h-1zM375 194h2v1h-2zM377 195h1v1h-1zM379 195h1v1h-1zM380 197h1v1h-1zM379 199h1v1h-1zM378 203h1v1h-1zM373 206h1v1h-1zM375 206h1v1h-1zM371 207h1v1h-1zM373 207h1v1h-1zM373 208h1v1h-1zM375 208h1v1h-1zM374 209h2v1h-2zM368 210h1v1h-1zM374 210h1v1h-1zM369 211h2v1h-2zM374 211h1v1h-1zM371 212h1v1h-1zM374 212h1v1h-1zM369 213h5v1h-5zM340 214h1v1h-1zM369 214h1v1h-1zM373 214h1v1h-1zM364 215h2v1h-2zM367 215h3v1h-3zM371 215h1v1h-1zM374 215h1v1h-1zM341 216h1v1h-1zM364 216h1v1h-1zM367 216h1v1h-1zM369 216h1v1h-1zM373 216h1v1h-1zM340 217h3v1h-3zM365 217h2v1h-2zM371 217h1v1h-1zM375 217h1v1h-1zM341 218h3v1h-3zM364 218h2v1h-2zM367 218h1v1h-1zM373 218h1v1h-1zM340 219h3v1h-3zM362 219h1v1h-1zM367 219h1v1h-1zM370 219h1v1h-1zM372 219h4v1h-4zM341 220h1v1h-1zM343 220h4v1h-4zM354 220h1v1h-1zM356 220h1v1h-1zM362 220h1v1h-1zM365 220h2v1h-2zM368 220h3v1h-3zM390 220h1v1h-1zM341 221h1v1h-1zM344 221h3v1h-3zM348 221h1v1h-1zM352 221h2v1h-2zM355 221h1v1h-1zM357 221h1v1h-1zM360 221h2v1h-2zM368 221h2v1h-2zM389 221h2v1h-2zM346 222h1v1h-1zM350 222h1v1h-1zM352 222h1v1h-1zM357 222h1v1h-1zM360 222h2v1h-2zM365 222h3v1h-3zM369 222h1v1h-1zM390 222h1v1h-1zM393 222h1v1h-1zM345 223h2v1h-2zM348 223h1v1h-1zM352 223h1v1h-1zM354 223h1v1h-1zM356 223h3v1h-3zM360 223h3v1h-3zM387 223h2v1h-2zM390 223h1v1h-1zM393 223h1v1h-1zM395 223h2v1h-2zM344 224h1v1h-1zM346 224h1v1h-1zM350 224h1v1h-1zM352 224h2v1h-2zM358 224h1v1h-1zM360 224h2v1h-2zM363 224h1v1h-1zM386 224h2v1h-2zM389 224h1v1h-1zM392 224h1v1h-1zM395 224h1v1h-1zM344 225h1v1h-1zM353 225h2v1h-2zM356 225h1v1h-1zM360 225h1v1h-1zM363 225h1v1h-1zM388 225h1v1h-1zM395 225h1v1h-1zM346 226h1v1h-1zM356 226h2v1h-2zM359 226h1v1h-1zM361 226h1v1h-1zM363 226h1v1h-1zM385 226h1v1h-1zM389 226h1v1h-1zM391 226h2v1h-2zM394 226h1v1h-1zM346 227h2v1h-2zM355 227h3v1h-3zM359 227h1v1h-1zM387 227h1v1h-1zM352 228h1v1h-1zM354 228h2v1h-2zM386 228h2v1h-2zM396 228h1v1h-1zM352 229h1v1h-1zM354 229h2v1h-2zM358 229h1v1h-1zM360 229h1v1h-1zM362 229h1v1h-1zM395 229h1v1h-1zM350 230h2v1h-2zM354 230h4v1h-4zM360 230h2v1h-2zM352 231h1v1h-1zM354 231h2v1h-2zM357 231h1v1h-1zM360 231h1v1h-1zM362 231h1v1h-1zM384 231h2v1h-2zM395 231h1v1h-1zM350 232h2v1h-2zM356 232h1v1h-1zM383 232h1v1h-1zM395 232h1v1h-1zM360 233h1v1h-1zM384 233h1v1h-1zM346 234h2v1h-2zM360 234h1v1h-1zM363 234h1v1h-1zM396 234h1v1h-1zM348 235h1v1h-1zM351 235h1v1h-1zM354 235h1v1h-1zM357 235h1v1h-1zM359 235h4v1h-4zM364 235h1v1h-1zM382 235h1v1h-1zM349 236h3v1h-3zM355 236h1v1h-1zM357 236h1v1h-1zM361 236h1v1h-1zM363 236h3v1h-3zM382 236h1v1h-1zM397 236h2v1h-2zM349 237h1v1h-1zM352 237h1v1h-1zM356 237h3v1h-3zM360 237h1v1h-1zM363 237h1v1h-1zM383 237h1v1h-1zM398 237h1v1h-1zM352 238h2v1h-2zM356 238h1v1h-1zM358 238h1v1h-1zM356 239h1v1h-1zM380 239h1v1h-1zM383 239h1v1h-1zM352 240h1v1h-1zM356 240h6v1h-6zM363 240h1v1h-1zM383 240h1v1h-1zM358 241h1v1h-1zM360 241h2v1h-2zM351 242h1v1h-1zM359 242h1v1h-1zM383 242h1v1h-1zM397 242h1v1h-1zM351 243h1v1h-1zM353 243h1v1h-1zM361 243h3v1h-3zM383 243h1v1h-1zM354 244h4v1h-4zM362 244h1v1h-1zM398 244h1v1h-1zM352 245h1v1h-1zM354 245h1v1h-1zM356 245h1v1h-1zM358 245h2v1h-2zM361 245h1v1h-1zM398 245h1v1h-1zM350 246h1v1h-1zM355 246h2v1h-2zM359 246h1v1h-1zM383 246h2v1h-2zM397 246h2v1h-2zM351 247h1v1h-1zM357 247h1v1h-1zM361 247h1v1h-1zM384 248h1v1h-1zM382 250h3v1h-3zM396 250h2v1h-2zM383 251h1v1h-1zM396 251h1v1h-1zM358 253h1v1h-1zM364 253h1v1h-1zM384 253h2v1h-2zM396 253h2v1h-2zM358 254h1v1h-1zM383 254h1v1h-1zM396 254h1v1h-1zM398 254h1v1h-1zM359 255h1v1h-1zM383 255h1v1h-1zM358 256h2v1h-2zM384 256h2v1h-2zM395 256h1v1h-1zM353 257h1v1h-1zM384 257h2v1h-2zM394 257h2v1h-2zM352 258h2v1h-2zM384 258h3v1h-3zM393 259h2v1h-2zM386 260h1v1h-1zM391 260h1v1h-1zM393 260h2v1h-2zM385 261h1v1h-1zM387 261h1v1h-1zM389 261h1v1h-1zM392 261h1v1h-1zM387 262h1v1h-1zM389 262h1v1h-1zM391 262h2v1h-2zM391 263h2v1h-2zM392 264h1v1h-1z" fill="#6d7bef"/>
<path d="M352 192h1v1h-1zM358 192h1v1h-1zM360 192h1v1h-1zM343 193h3v1h-3zM348 193h1v1h-1zM354 193h4v1h-4zM363 193h1v1h-1zM366 193h1v1h-1zM368 193h1v1h-1zM341 194h1v1h-1zM371 194h2v1h-2zM373 195h1v1h-1zM375 196h4v1h-4zM378 197h1v1h-1zM378 198h1v1h-1zM378 199h1v1h-1zM377 201h2v1h-2zM376 202h2v1h-2zM375 203h2v1h-2zM375 204h1v1h-1zM372 205h1v1h-1zM370 206h1v1h-1zM340 207h1v1h-1zM368 207h2v1h-2zM340 208h1v1h-1zM367 208h1v1h-1zM340 209h1v1h-1zM365 209h4v1h-4zM340 210h1v1h-1zM364 210h3v1h-3zM340 211h1v1h-1zM366 211h2v1h-2zM340 212h1v1h-1zM362 212h1v1h-1zM364 212h5v1h-5zM340 213h4v1h-4zM345 213h1v1h-1zM362 213h1v1h-1zM364 213h2v1h-2zM342 214h7v1h-7zM361 214h1v1h-1zM363 214h1v1h-1zM367 214h2v1h-2zM342 215h1v1h-1zM344 215h1v1h-1zM346 215h1v1h-1zM348 215h1v1h-1zM350 215h1v1h-1zM360 215h2v1h-2zM345 216h3v1h-3zM350 216h2v1h-2zM353 216h1v1h-1zM355 216h3v1h-3zM359 216h2v1h-2zM362 216h2v1h-2zM345 217h4v1h-4zM350 217h5v1h-5zM358 217h6v1h-6zM346 218h1v1h-1zM348 218h4v1h-4zM354 218h1v1h-1zM356 218h4v1h-4zM361 218h2v1h-2zM343 219h3v1h-3zM348 219h3v1h-3zM352 219h1v1h-1zM357 219h3v1h-3zM349 220h3v1h-3zM358 220h1v1h-1zM358 221h1v1h-1zM390 226h1v1h-1zM389 227h1v1h-1zM391 227h2v1h-2zM389 228h3v1h-3zM393 228h1v1h-1zM387 229h2v1h-2zM390 229h1v1h-1zM387 230h1v1h-1zM389 230h2v1h-2zM393 230h2v1h-2zM387 231h1v1h-1zM390 231h1v1h-1zM393 231h2v1h-2zM385 232h5v1h-5zM393 232h1v1h-1zM385 233h2v1h-2zM388 233h2v1h-2zM393 233h1v1h-1zM395 233h1v1h-1zM386 234h3v1h-3zM394 234h1v1h-1zM385 235h2v1h-2zM395 235h1v1h-1zM385 236h1v1h-1zM395 236h2v1h-2zM385 237h1v1h-1zM384 238h1v1h-1zM395 238h2v1h-2zM384 239h2v1h-2zM395 239h1v1h-1zM384 240h2v1h-2zM395 240h2v1h-2zM384 241h2v1h-2zM384 242h1v1h-1zM395 242h2v1h-2zM385 243h2v1h-2zM396 243h1v1h-1zM384 244h3v1h-3zM396 244h1v1h-1zM385 245h2v1h-2zM395 245h3v1h-3zM386 246h1v1h-1zM395 246h2v1h-2zM385 247h2v1h-2zM395 247h2v1h-2zM386 248h1v1h-1zM394 248h3v1h-3zM385 249h2v1h-2zM394 249h2v1h-2zM385 250h2v1h-2zM395 250h1v1h-1zM385 251h2v1h-2zM395 251h1v1h-1zM385 252h3v1h-3zM394 252h1v1h-1zM387 253h1v1h-1zM394 253h2v1h-2zM386 254h2v1h-2zM394 254h1v1h-1zM386 255h3v1h-3zM392 255h3v1h-3zM387 256h6v1h-6zM387 257h4v1h-4zM392 257h1v1h-1zM387 258h5v1h-5zM389 259h2v1h-2zM390 260h1v1h-1z" fill="#5065f3"/>
<path d="M350 193h1v1h-1zM352 193h2v1h-2zM358 193h3v1h-3zM344 194h5v1h-5zM355 194h2v1h-2zM362 194h3v1h-3zM366 194h2v1h-2zM369 194h1v1h-1zM340 195h1v1h-1zM371 195h2v1h-2zM373 196h1v1h-1zM374 197h3v1h-3zM375 198h3v1h-3zM375 199h3v1h-3zM375 200h3v1h-3zM375 201h2v1h-2zM374 202h1v1h-1zM374 203h1v1h-1zM372 204h1v1h-1zM340 205h1v1h-1zM370 205h1v1h-1zM369 206h1v1h-1zM341 207h1v1h-1zM366 207h1v1h-1zM341 208h2v1h-2zM363 208h4v1h-4zM342 209h1v1h-1zM362 209h1v1h-1zM341 210h2v1h-2zM360 210h3v1h-3zM341 211h3v1h-3zM345 211h1v1h-1zM347 211h2v1h-2zM359 211h4v1h-4zM341 212h2v1h-2zM346 212h5v1h-5zM352 212h2v1h-2zM359 212h3v1h-3zM346 213h1v1h-1zM348 213h5v1h-5zM354 213h1v1h-1zM358 213h3v1h-3zM350 214h1v1h-1zM352 214h9v1h-9zM349 215h1v1h-1zM351 215h5v1h-5zM357 215h2v1h-2zM348 216h2v1h-2zM391 229h1v1h-1zM391 230h2v1h-2zM392 231h1v1h-1zM390 232h3v1h-3zM390 233h2v1h-2zM391 234h3v1h-3zM388 235h4v1h-4zM393 235h2v1h-2zM387 236h3v1h-3zM391 236h4v1h-4zM386 237h5v1h-5zM392 237h4v1h-4zM386 238h4v1h-4zM393 238h1v1h-1zM386 239h1v1h-1zM388 239h2v1h-2zM393 239h2v1h-2zM386 240h5v1h-5zM394 240h1v1h-1zM386 241h5v1h-5zM393 241h2v1h-2zM386 242h4v1h-4zM393 242h2v1h-2zM387 243h1v1h-1zM389 243h1v1h-1zM393 243h1v1h-1zM388 244h2v1h-2zM393 244h2v1h-2zM387 245h1v1h-1zM393 245h2v1h-2zM387 246h3v1h-3zM393 246h1v1h-1zM387 247h3v1h-3zM392 247h3v1h-3zM387 248h1v1h-1zM389 248h1v1h-1zM392 248h2v1h-2zM387 249h2v1h-2zM391 249h1v1h-1zM393 249h1v1h-1zM387 250h2v1h-2zM387 251h1v1h-1zM392 251h2v1h-2zM389 252h1v1h-1zM392 252h2v1h-2zM388 253h2v1h-2zM392 253h2v1h-2zM388 254h3v1h-3zM392 254h1v1h-1zM389 255h1v1h-1zM391 255h1v1h-1z" fill="#334ff7"/>
<path d="M350 194h5v1h-5zM358 194h4v1h-4zM341 195h3v1h-3zM362 195h9v1h-9zM340 196h1v1h-1zM371 196h2v1h-2zM372 197h2v1h-2zM373 198h2v1h-2zM373 199h2v1h-2zM373 200h2v1h-2zM373 201h2v1h-2zM372 202h2v1h-2zM371 203h2v1h-2zM340 204h1v1h-1zM370 204h1v1h-1zM341 205h1v1h-1zM368 205h1v1h-1zM341 206h2v1h-2zM366 206h2v1h-2zM342 207h2v1h-2zM363 207h3v1h-3zM343 208h1v1h-1zM360 208h2v1h-2zM343 209h7v1h-7zM358 209h2v1h-2zM343 210h10v1h-10zM354 210h2v1h-2zM357 210h3v1h-3zM346 211h1v1h-1zM349 211h10v1h-10zM354 212h5v1h-5zM355 213h3v1h-3zM390 238h3v1h-3zM390 239h1v1h-1zM392 239h1v1h-1zM391 240h2v1h-2zM391 241h2v1h-2zM390 242h3v1h-3zM390 243h3v1h-3zM391 244h2v1h-2zM390 245h3v1h-3zM390 246h3v1h-3zM390 247h2v1h-2zM389 249h2v1h-2zM389 250h3v1h-3zM389 251h3v1h-3zM390 252h2v1h-2zM390 253h2v1h-2z" fill="#2553fb"/>
<path d="M344 195h18v1h-18zM341 196h2v1h-2zM364 196h7v1h-7zM340 197h1v1h-1zM371 197h1v1h-1zM371 198h2v1h-2zM372 199h1v1h-1zM372 200h1v1h-1zM372 201h1v1h-1zM340 202h1v1h-1zM371 202h1v1h-1zM340 203h1v1h-1zM370 203h1v1h-1zM341 204h1v1h-1zM368 204h2v1h-2zM342 205h2v1h-2zM366 205h2v1h-2zM343 206h2v1h-2zM363 206h3v1h-3zM344 207h3v1h-3zM360 207h3v1h-3zM345 208h8v1h-8zM356 208h4v1h-4zM350 209h8v1h-8zM356 210h1v1h-1z" fill="#1c5cfe"/>
<path d="M343 196h4v1h-4zM357 196h7v1h-7zM341 197h1v1h-1zM369 197h2v1h-2zM340 198h1v1h-1zM370 198h1v1h-1zM340 199h1v1h-1zM370 199h2v1h-2zM340 200h1v1h-1zM371 200h1v1h-1zM340 201h1v1h-1zM370 201h2v1h-2zM341 202h1v1h-1zM370 202h1v1h-1zM341 203h2v1h-2zM369 203h1v1h-1zM342 204h2v1h-2zM367 204h1v1h-1zM344 205h2v1h-2zM364 205h2v1h-2zM345 206h2v1h-2zM361 206h2v1h-2zM347 207h7v1h-7zM355 207h5v1h-5zM353 208h3v1h-3z" fill="#1580f7"/>
<path d="M347 196h10v1h-10zM342 197h3v1h-3zM362 197h7v1h-7zM341 198h1v1h-1zM368 198h2v1h-2zM341 199h1v1h-1zM369 199h1v1h-1zM341 200h1v1h-1zM369 200h2v1h-2zM341 201h1v1h-1zM369 201h1v1h-1zM342 202h1v1h-1zM368 202h2v1h-2zM343 203h1v1h-1zM367 203h2v1h-2zM344 204h2v1h-2zM365 204h2v1h-2zM346 205h1v1h-1zM362 205h2v1h-2zM347 206h6v1h-6zM359 206h2v1h-2zM354 207h1v1h-1z" fill="#10aeec"/>
<path d="M345 197h9v1h-9zM356 197h6v1h-6zM342 198h3v1h-3zM365 198h3v1h-3zM342 199h1v1h-1zM368 199h1v1h-1zM342 200h1v1h-1zM368 200h1v1h-1zM342 201h2v1h-2zM368 201h1v1h-1zM343 202h2v1h-2zM366 202h2v1h-2zM344 203h2v1h-2zM365 203h2v1h-2zM346 204h1v1h-1zM363 204h2v1h-2zM347 205h5v1h-5zM360 205h2v1h-2zM353 206h6v1h-6z" fill="#12ccbe"/>
<path d="M354 197h2v1h-2zM345 198h3v1h-3zM360 198h5v1h-5zM343 199h3v1h-3zM365 199h3v1h-3zM343 200h2v1h-2zM366 200h2v1h-2zM344 201h1v1h-1zM365 201h3v1h-3zM345 202h1v1h-1zM364 202h2v1h-2zM346 203h2v1h-2zM363 203h2v1h-2zM347 204h3v1h-3zM361 204h2v1h-2zM352 205h8v1h-8z" fill="#22e289"/>
<path d="M348 198h12v1h-12zM346 199h2v1h-2zM362 199h3v1h-3zM345 200h2v1h-2zM364 200h2v1h-2zM345 201h2v1h-2zM364 201h1v1h-1zM346 202h2v1h-2zM363 202h1v1h-1zM348 203h2v1h-2zM361 203h2v1h-2zM350 204h6v1h-6zM358 204h3v1h-3z" fill="#6aea49"/>
<path d="M348 199h7v1h-7zM359 199h3v1h-3zM347 200h3v1h-3zM361 200h3v1h-3zM347 201h2v1h-2zM362 201h2v1h-2zM348 202h3v1h-3zM361 202h2v1h-2zM350 203h6v1h-6zM359 203h2v1h-2zM356 204h2v1h-2z" fill="#bddd2b"/>
<path d="M355 199h4v1h-4zM350 200h6v1h-6zM359 200h2v1h-2zM349 201h7v1h-7zM360 201h2v1h-2zM351 202h6v1h-6zM359 202h2v1h-2zM356 203h3v1h-3z" fill="#efa11d"/>
<path d="M356 200h3v1h-3zM356 201h4v1h-4zM357 202h2v1h-2z" fill="#eb2819"/>
</g>
<line x1="380.8" y1="185.5" x2="380.8" y2="265.6" stroke="#808080" stroke-width="1"/>
<rect x="339.2" y="185.5" width="82.5" height="80.1" fill="none" stroke="#777" stroke-width="1"/>
<text x="341.2" y="194.5" font-size="8.3">91.1</text>
<text x="419.7" y="194.5" font-size="8.3" text-anchor="end">0.39</text>
<text x="341.2" y="263.7" font-size="8.3">2.48</text>
<text x="419.7" y="263.7" font-size="8.3" text-anchor="end">6.02</text>
<rect x="429.7" y="186.2" width="83.1" height="79.7" fill="#fff"/>
<g filter="url(#soft)">
<path d="M450 188h1v1h-1zM447 191h1v1h-1zM452 194h1v1h-1zM457 194h1v1h-1zM480 195h1v1h-1zM430 196h1v1h-1zM435 196h1v1h-1zM441 196h1v1h-1zM454 196h2v1h-2zM462 196h1v1h-1zM433 197h1v1h-1zM433 198h1v1h-1zM464 198h1v1h-1zM467 198h1v1h-1zM472 198h1v1h-1zM476 198h1v1h-1zM431 199h1v1h-1zM470 199h1v1h-1zM430 200h1v1h-1zM473 200h1v1h-1zM472 201h1v1h-1zM470 203h1v1h-1zM478 203h1v1h-1zM480 203h1v1h-1zM470 206h1v1h-1zM470 209h1v1h-1zM473 209h2v1h-2zM489 210h1v1h-1zM466 212h1v1h-1zM489 212h1v1h-1zM463 213h1v1h-1zM466 213h1v1h-1zM457 214h1v1h-1zM481 214h1v1h-1zM430 215h1v1h-1zM457 215h1v1h-1zM465 215h1v1h-1zM460 216h1v1h-1zM436 217h1v1h-1zM441 217h1v1h-1zM446 217h1v1h-1zM451 217h1v1h-1zM456 217h1v1h-1zM461 217h1v1h-1zM475 217h1v1h-1zM452 218h1v1h-1zM465 218h1v1h-1zM433 219h1v1h-1zM445 219h1v1h-1zM454 219h1v1h-1zM446 220h1v1h-1zM475 220h1v1h-1zM446 221h1v1h-1zM448 221h1v1h-1zM455 223h1v1h-1zM438 224h2v1h-2zM460 224h1v1h-1zM477 224h1v1h-1zM451 225h1v1h-1zM489 226h1v1h-1zM442 229h1v1h-1zM450 229h1v1h-1zM446 230h1v1h-1zM463 230h1v1h-1zM480 230h2v1h-2zM454 231h1v1h-1zM443 232h1v1h-1zM447 232h1v1h-1zM458 233h1v1h-1zM484 233h1v1h-1zM439 234h1v1h-1zM483 234h2v1h-2zM450 235h1v1h-1zM464 235h1v1h-1zM482 235h1v1h-1zM446 236h1v1h-1zM459 236h1v1h-1zM482 236h1v1h-1zM444 237h1v1h-1zM433 238h1v1h-1zM441 238h1v1h-1zM448 238h2v1h-2zM456 238h3v1h-3zM486 238h1v1h-1zM488 238h1v1h-1zM451 239h1v1h-1zM464 239h1v1h-1zM478 239h1v1h-1zM480 239h1v1h-1zM447 240h1v1h-1zM454 240h2v1h-2zM463 240h1v1h-1zM448 241h1v1h-1zM457 241h1v1h-1zM466 241h1v1h-1zM481 241h1v1h-1zM486 241h1v1h-1zM441 242h2v1h-2zM445 242h1v1h-1zM453 242h1v1h-1zM456 242h1v1h-1zM473 242h1v1h-1zM482 242h2v1h-2zM489 242h1v1h-1zM434 243h1v1h-1zM441 243h1v1h-1zM459 243h1v1h-1zM476 243h1v1h-1zM441 244h1v1h-1zM450 244h1v1h-1zM458 244h1v1h-1zM464 244h1v1h-1zM478 244h1v1h-1zM445 245h1v1h-1zM477 245h1v1h-1zM445 246h1v1h-1zM450 246h1v1h-1zM444 247h1v1h-1zM449 247h1v1h-1zM440 248h1v1h-1zM444 248h1v1h-1zM454 248h1v1h-1zM457 248h1v1h-1zM441 249h1v1h-1zM446 249h1v1h-1zM459 249h1v1h-1zM435 250h1v1h-1zM445 250h1v1h-1zM456 250h1v1h-1zM458 250h1v1h-1zM476 250h1v1h-1zM438 251h1v1h-1zM453 251h2v1h-2zM460 251h1v1h-1zM477 251h1v1h-1zM440 252h1v1h-1zM448 252h1v1h-1zM459 252h1v1h-1zM487 252h1v1h-1zM443 253h1v1h-1zM451 253h1v1h-1zM455 253h1v1h-1zM458 253h1v1h-1zM471 253h1v1h-1zM487 253h1v1h-1zM448 254h1v1h-1zM468 254h1v1h-1zM486 254h1v1h-1zM434 255h1v1h-1zM442 255h1v1h-1zM460 255h1v1h-1zM479 255h1v1h-1zM434 256h1v1h-1zM446 256h1v1h-1zM459 256h1v1h-1zM487 256h1v1h-1zM432 257h1v1h-1zM449 257h1v1h-1zM453 258h1v1h-1zM459 258h1v1h-1zM438 259h1v1h-1zM478 259h1v1h-1zM462 260h1v1h-1zM485 260h1v1h-1zM434 261h1v1h-1zM439 261h1v1h-1zM449 261h1v1h-1zM480 261h1v1h-1zM482 261h1v1h-1zM455 262h1v1h-1zM479 262h1v1h-1zM487 262h1v1h-1zM452 263h1v1h-1zM480 263h1v1h-1zM483 263h1v1h-1zM443 264h1v1h-1z" fill="#8e98ef"/>
<path d="M446 196h1v1h-1zM449 196h1v1h-1zM452 196h1v1h-1zM443 197h1v1h-1zM445 197h1v1h-1zM447 197h2v1h-2zM450 197h1v1h-1zM452 197h1v1h-1zM459 197h3v1h-3zM456 198h1v1h-1zM462 198h1v1h-1zM463 199h1v1h-1zM467 199h1v1h-1zM436 200h1v1h-1zM465 200h1v1h-1zM469 200h1v1h-1zM431 201h1v1h-1zM435 201h2v1h-2zM468 201h3v1h-3zM432 202h1v1h-1zM431 203h1v1h-1zM430 204h2v1h-2zM469 204h1v1h-1zM430 205h1v1h-1zM468 205h1v1h-1zM430 207h1v1h-1zM467 208h1v1h-1zM469 208h1v1h-1zM466 209h2v1h-2zM464 210h1v1h-1zM466 210h1v1h-1zM461 211h1v1h-1zM464 211h1v1h-1zM431 212h1v1h-1zM458 212h1v1h-1zM430 213h1v1h-1zM437 213h1v1h-1zM453 213h2v1h-2zM432 214h1v1h-1zM435 214h1v1h-1zM438 214h1v1h-1zM455 214h1v1h-1zM439 215h3v1h-3zM449 215h3v1h-3zM432 216h2v1h-2zM435 216h1v1h-1zM439 216h1v1h-1zM450 216h1v1h-1zM432 217h1v1h-1zM432 218h3v1h-3zM483 244h1v1h-1zM485 244h1v1h-1zM480 245h1v1h-1zM484 245h1v1h-1zM479 246h1v1h-1zM481 246h1v1h-1zM485 246h1v1h-1zM478 247h3v1h-3zM486 247h1v1h-1zM480 248h3v1h-3zM484 248h2v1h-2zM482 249h2v1h-2zM486 249h1v1h-1zM480 250h2v1h-2zM481 251h1v1h-1zM483 251h2v1h-2zM484 253h1v1h-1zM482 254h1v1h-1zM482 255h2v1h-2zM485 255h1v1h-1zM480 256h3v1h-3zM480 257h1v1h-1zM482 257h1v1h-1zM482 258h1v1h-1zM484 258h1v1h-1zM479 259h1v1h-1zM482 259h1v1h-1z" fill="#6d7bef"/>
<path d="M447 198h1v1h-1zM449 198h2v1h-2zM459 198h2v1h-2zM442 199h2v1h-2zM455 199h1v1h-1zM457 199h1v1h-1zM459 199h2v1h-2zM440 200h1v1h-1zM461 200h1v1h-1zM465 201h1v1h-1zM437 202h1v1h-1zM464 202h2v1h-2zM434 203h1v1h-1zM466 203h1v1h-1zM432 204h2v1h-2zM433 205h1v1h-1zM467 205h1v1h-1zM467 206h1v1h-1zM431 207h2v1h-2zM466 207h1v1h-1zM430 208h2v1h-2zM463 208h1v1h-1zM465 208h2v1h-2zM431 209h1v1h-1zM462 209h2v1h-2zM431 210h1v1h-1zM461 210h1v1h-1zM433 211h1v1h-1zM458 211h3v1h-3zM432 212h1v1h-1zM434 212h3v1h-3zM439 212h2v1h-2zM451 212h1v1h-1zM455 212h1v1h-1zM433 213h1v1h-1zM439 213h2v1h-2zM443 213h2v1h-2zM450 213h3v1h-3zM439 214h1v1h-1zM441 214h1v1h-1zM444 214h2v1h-2zM448 214h3v1h-3z" fill="#5065f3"/>
<path d="M446 199h2v1h-2zM449 199h1v1h-1zM452 199h1v1h-1zM454 199h1v1h-1zM442 200h2v1h-2zM457 200h4v1h-4zM439 201h3v1h-3zM461 201h1v1h-1zM438 202h1v1h-1zM463 202h1v1h-1zM437 203h1v1h-1zM463 203h1v1h-1zM465 203h1v1h-1zM434 204h3v1h-3zM463 204h3v1h-3zM434 205h2v1h-2zM463 205h3v1h-3zM433 206h2v1h-2zM463 206h3v1h-3zM433 207h2v1h-2zM462 207h1v1h-1zM464 207h1v1h-1zM432 208h1v1h-1zM461 208h1v1h-1zM432 209h4v1h-4zM460 209h2v1h-2zM432 210h2v1h-2zM436 210h2v1h-2zM459 210h1v1h-1zM434 211h1v1h-1zM436 211h1v1h-1zM439 211h1v1h-1zM441 211h2v1h-2zM452 211h1v1h-1zM454 211h1v1h-1zM456 211h1v1h-1zM443 212h1v1h-1zM446 212h5v1h-5zM447 213h2v1h-2z" fill="#334ff7"/>
<path d="M445 200h4v1h-4zM450 200h2v1h-2zM453 200h2v1h-2zM443 201h2v1h-2zM459 201h1v1h-1zM439 202h3v1h-3zM460 202h2v1h-2zM439 203h1v1h-1zM461 203h2v1h-2zM437 204h1v1h-1zM462 204h1v1h-1zM436 205h2v1h-2zM435 206h2v1h-2zM461 206h2v1h-2zM435 207h1v1h-1zM461 207h1v1h-1zM435 208h2v1h-2zM459 208h2v1h-2zM437 209h1v1h-1zM457 209h3v1h-3zM438 210h5v1h-5zM453 210h4v1h-4zM444 211h2v1h-2zM450 211h1v1h-1z" fill="#2553fb"/>
<path d="M445 201h7v1h-7zM455 201h1v1h-1zM442 202h2v1h-2zM457 202h3v1h-3zM440 203h2v1h-2zM459 203h2v1h-2zM438 204h2v1h-2zM460 204h2v1h-2zM438 205h1v1h-1zM460 205h2v1h-2zM437 206h1v1h-1zM460 206h1v1h-1zM437 207h1v1h-1zM458 207h3v1h-3zM437 208h2v1h-2zM456 208h3v1h-3zM438 209h5v1h-5zM454 209h3v1h-3zM443 210h2v1h-2zM451 210h1v1h-1zM446 211h1v1h-1zM448 211h1v1h-1z" fill="#1c5cfe"/>
<path d="M452 201h3v1h-3zM444 202h8v1h-8zM456 202h1v1h-1zM442 203h2v1h-2zM457 203h2v1h-2zM440 204h3v1h-3zM458 204h2v1h-2zM439 205h2v1h-2zM458 205h2v1h-2zM438 206h2v1h-2zM457 206h3v1h-3zM438 207h3v1h-3zM455 207h3v1h-3zM439 208h4v1h-4zM453 208h3v1h-3zM443 209h2v1h-2zM450 209h3v1h-3zM445 210h5v1h-5z" fill="#1580f7"/>
<path d="M452 202h4v1h-4zM444 203h8v1h-8zM455 203h2v1h-2zM443 204h2v1h-2zM456 204h2v1h-2zM441 205h2v1h-2zM456 205h2v1h-2zM440 206h3v1h-3zM455 206h2v1h-2zM441 207h2v1h-2zM453 207h2v1h-2zM443 208h1v1h-1zM451 208h2v1h-2zM445 209h5v1h-5z" fill="#10aeec"/>
<path d="M452 203h3v1h-3zM445 204h11v1h-11zM443 205h2v1h-2zM448 205h8v1h-8zM443 206h1v1h-1zM452 206h3v1h-3zM443 207h2v1h-2zM451 207h2v1h-2zM444 208h7v1h-7z" fill="#12ccbe"/>
<path d="M445 205h3v1h-3zM444 206h8v1h-8zM445 207h6v1h-6z" fill="#22e289"/>
</g>
<line x1="470.8" y1="186.2" x2="470.8" y2="265.9" stroke="#808080" stroke-width="1"/>
<line x1="429.7" y1="229.8" x2="512.8" y2="229.8" stroke="#808080" stroke-width="1"/>
<rect x="429.7" y="186.2" width="83.1" height="79.7" fill="none" stroke="#777" stroke-width="1"/>
<text x="432.3" y="194.2" font-size="8.3">86.1</text>
<text x="510.8" y="194.2" font-size="8.3" text-anchor="end">0.16</text>
<text x="432.3" y="263.8" font-size="8.3">7.56</text>
<text x="510.8" y="263.8" font-size="8.3" text-anchor="end">6.18</text>
<text x="20" y="326.6" font-size="17.5">C</text>
<line x1="57" y1="346" x2="57" y2="457.3" stroke="#888" stroke-width="1"/>
<line x1="55" y1="457.3" x2="57" y2="457.3" stroke="#888" stroke-width="1"/>
<text x="51.5" y="460.2" font-size="9.8" text-anchor="end">0</text>
<line x1="55" y1="435.04" x2="57" y2="435.04" stroke="#888" stroke-width="1"/>
<text x="51.5" y="437.94" font-size="9.8" text-anchor="end">20</text>
<line x1="55" y1="412.78" x2="57" y2="412.78" stroke="#888" stroke-width="1"/>
<text x="51.5" y="415.68" font-size="9.8" text-anchor="end">40</text>
<line x1="55" y1="390.52" x2="57" y2="390.52" stroke="#888" stroke-width="1"/>
<text x="51.5" y="393.42" font-size="9.8" text-anchor="end">60</text>
<line x1="55" y1="368.26" x2="57" y2="368.26" stroke="#888" stroke-width="1"/>
<text x="51.5" y="371.16" font-size="9.8" text-anchor="end">80</text>
<line x1="55" y1="346" x2="57" y2="346" stroke="#888" stroke-width="1"/>
<text x="51.5" y="348.9" font-size="9.8" text-anchor="end">100</text>
<rect x="67.8" y="402.6" width="18.5" height="54.7" fill="#c4c4c4" stroke="#7a7a7a" stroke-width="1"/>
<rect x="91.8" y="449.1" width="19.2" height="8.2" fill="#c4c4c4" stroke="#7a7a7a" stroke-width="1"/>
<rect x="115.8" y="434.2" width="19.2" height="23.1" fill="#c4c4c4" stroke="#7a7a7a" stroke-width="1"/>
<rect x="188.8" y="347.8" width="18.9" height="109.5" fill="#c4c4c4" stroke="#7a7a7a" stroke-width="1"/>
<line x1="77.1" y1="387.3" x2="77.1" y2="402.1" stroke="#8a8a8a" stroke-width="1"/>
<line x1="74.1" y1="387.3" x2="80.1" y2="387.3" stroke="#8a8a8a" stroke-width="1"/>
<line x1="101.2" y1="444" x2="101.2" y2="448.4" stroke="#8a8a8a" stroke-width="1"/>
<line x1="98.2" y1="444" x2="104.2" y2="444" stroke="#8a8a8a" stroke-width="1"/>
<line x1="125.8" y1="407.3" x2="125.8" y2="433.8" stroke="#8a8a8a" stroke-width="1"/>
<line x1="122.8" y1="407.3" x2="128.8" y2="407.3" stroke="#8a8a8a" stroke-width="1"/>
<line x1="198" y1="346.6" x2="198" y2="347.3" stroke="#8a8a8a" stroke-width="1"/>
<line x1="195" y1="346.6" x2="201" y2="346.6" stroke="#8a8a8a" stroke-width="1"/>
<line x1="57" y1="457.3" x2="218" y2="457.3" stroke="#666" stroke-width="1"/>
<text x="77" y="456" font-size="8.8" font-weight="normal" class="n" text-anchor="middle">n=10</text>
<text x="99" y="456" font-size="8.8" font-weight="normal" class="n" text-anchor="middle">n=6</text>
<text x="125.2" y="456" font-size="8.8" font-weight="normal" class="n" text-anchor="middle">n=14</text>
<text x="149.5" y="456" font-size="8.8" font-weight="normal" class="n" text-anchor="middle">n=12</text>
<text x="174" y="456" font-size="8.8" font-weight="normal" class="n" text-anchor="middle">n=10</text>
<text x="197.5" y="456" font-size="8.8" font-weight="normal" class="n" text-anchor="middle">n=9</text>
<text x="73.3" y="471.3" font-size="10" text-anchor="middle">3w</text>
<text x="99" y="471.3" font-size="10" text-anchor="middle">5w</text>
<text x="124" y="471.3" font-size="10" text-anchor="middle">3w</text>
<text x="149.7" y="471.3" font-size="10" text-anchor="middle">5w</text>
<text x="174" y="471.3" font-size="10" text-anchor="middle">NSG</text>
<text x="202.8" y="471.3" font-size="10" text-anchor="middle">Human</text>
<line x1="63.5" y1="476.5" x2="110.8" y2="476.5" stroke="#000" stroke-width="1"/>
<line x1="114.6" y1="476.5" x2="159.6" y2="476.5" stroke="#000" stroke-width="1"/>
<line x1="163.5" y1="476.5" x2="220" y2="476.5" stroke="#000" stroke-width="1"/>
<text x="79.4" y="478.6" font-size="9.7" text-anchor="end" transform="rotate(-90 79.4 478.6)">NSG/</text>
<text x="90.8" y="478.6" font-size="9.7" text-anchor="end" transform="rotate(-90 90.8 478.6)">2bF8LV-hCBT</text>
<text x="102.2" y="478.6" font-size="9.7" text-anchor="end" transform="rotate(-90 102.2 478.6)">recipients</text>
<text x="128.4" y="478.6" font-size="9.7" text-anchor="end" transform="rotate(-90 128.4 478.6)">NSGF8KO/</text>
<text x="139.8" y="478.6" font-size="9.7" text-anchor="end" transform="rotate(-90 139.8 478.6)">2bF8LV-hCBT</text>
<text x="151.2" y="478.6" font-size="9.7" text-anchor="end" transform="rotate(-90 151.2 478.6)">recipients</text>
<text x="28.8" y="407.3" font-size="9.5" text-anchor="middle" transform="rotate(-90 28.8 407.3)">Human platelet chimerism (%)</text>
<text x="197.3" y="478.6" font-size="9.7" text-anchor="end" transform="rotate(-90 197.3 478.6)">Controls</text>
<line x1="139.5" y1="457" x2="158.5" y2="457" stroke="#666" stroke-width="1"/>
<polyline points="76.6,385.6 76.6,381.8 125.7,381.8 125.7,385.6" fill="none" stroke="#333" stroke-width="1"/>
<text x="101" y="378.8" font-size="9.3" text-anchor="middle" font-style="italic">P &lt; .01</text>
<polyline points="98.5,407.2 98.5,403.9 147,403.9 147,407.2" fill="none" stroke="#333" stroke-width="1"/>
<text x="123.6" y="401" font-size="9.3" text-anchor="middle" font-style="italic">P &lt; .01</text>
<text x="267" y="326.5" font-size="17.5">D</text>
<line x1="304.5" y1="345.5" x2="304.5" y2="463.8" stroke="#888" stroke-width="1"/>
<line x1="302.5" y1="463.8" x2="304.5" y2="463.8" stroke="#888" stroke-width="1"/>
<text x="300" y="466.2" font-size="9.8" text-anchor="end">0</text>
<line x1="302.5" y1="440.14" x2="304.5" y2="440.14" stroke="#888" stroke-width="1"/>
<text x="300" y="442.54" font-size="9.8" text-anchor="end">20</text>
<line x1="302.5" y1="416.48" x2="304.5" y2="416.48" stroke="#888" stroke-width="1"/>
<text x="300" y="418.88" font-size="9.8" text-anchor="end">40</text>
<line x1="302.5" y1="392.82" x2="304.5" y2="392.82" stroke="#888" stroke-width="1"/>
<text x="300" y="395.22" font-size="9.8" text-anchor="end">60</text>
<line x1="302.5" y1="369.16" x2="304.5" y2="369.16" stroke="#888" stroke-width="1"/>
<text x="300" y="371.56" font-size="9.8" text-anchor="end">80</text>
<line x1="302.5" y1="345.5" x2="304.5" y2="345.5" stroke="#888" stroke-width="1"/>
<text x="300" y="347.9" font-size="9.8" text-anchor="end">100</text>
<rect x="316" y="377" width="19.8" height="86.8" fill="#c4c4c4" stroke="#7a7a7a" stroke-width="1"/>
<rect x="341.7" y="371" width="20.3" height="92.8" fill="#c4c4c4" stroke="#7a7a7a" stroke-width="1"/>
<rect x="368" y="394.8" width="20.3" height="69" fill="#c4c4c4" stroke="#7a7a7a" stroke-width="1"/>
<rect x="393.4" y="389.3" width="20.6" height="74.5" fill="#c4c4c4" stroke="#7a7a7a" stroke-width="1"/>
<rect x="445.7" y="346.8" width="20.5" height="117" fill="#c4c4c4" stroke="#7a7a7a" stroke-width="1"/>
<line x1="326" y1="365.5" x2="326" y2="376.5" stroke="#8a8a8a" stroke-width="1"/>
<line x1="323" y1="365.5" x2="329" y2="365.5" stroke="#8a8a8a" stroke-width="1"/>
<line x1="352" y1="346.3" x2="352" y2="370.5" stroke="#8a8a8a" stroke-width="1"/>
<line x1="349" y1="346.3" x2="355" y2="346.3" stroke="#8a8a8a" stroke-width="1"/>
<line x1="378" y1="370.5" x2="378" y2="394.3" stroke="#8a8a8a" stroke-width="1"/>
<line x1="375" y1="370.5" x2="381" y2="370.5" stroke="#8a8a8a" stroke-width="1"/>
<line x1="404.2" y1="363.8" x2="404.2" y2="388.8" stroke="#8a8a8a" stroke-width="1"/>
<line x1="401.2" y1="363.8" x2="407.2" y2="363.8" stroke="#8a8a8a" stroke-width="1"/>
<line x1="456" y1="345.6" x2="456" y2="346.3" stroke="#8a8a8a" stroke-width="1"/>
<line x1="453" y1="345.6" x2="459" y2="345.6" stroke="#8a8a8a" stroke-width="1"/>
<line x1="304.5" y1="463.8" x2="477" y2="463.8" stroke="#666" stroke-width="1"/>
<text x="326" y="461.5" font-size="8.8" font-weight="normal" class="n" text-anchor="middle">n=6</text>
<text x="352" y="461.5" font-size="8.8" font-weight="normal" class="n" text-anchor="middle">n=6</text>
<text x="378" y="461.5" font-size="8.8" font-weight="normal" class="n" text-anchor="middle">n=14</text>
<text x="403.7" y="461.5" font-size="8.8" font-weight="normal" class="n" text-anchor="middle">n=12</text>
<text x="429.2" y="461.5" font-size="8.8" font-weight="normal" class="n" text-anchor="middle">n=9</text>
<text x="456" y="461.5" font-size="8.8" font-weight="normal" class="n" text-anchor="middle">n=9</text>
<text x="324.8" y="479.4" font-size="10" text-anchor="middle">3w</text>
<text x="351" y="479.4" font-size="10" text-anchor="middle">5w</text>
<text x="377" y="479.4" font-size="10" text-anchor="middle">3w</text>
<text x="403.5" y="479.4" font-size="10" text-anchor="middle">5w</text>
<text x="431.5" y="479.4" font-size="10" text-anchor="middle">NSG</text>
<text x="462.2" y="479.4" font-size="10" text-anchor="middle">Human</text>
<line x1="315.6" y1="484.6" x2="362.3" y2="484.6" stroke="#000" stroke-width="1"/>
<line x1="367.5" y1="484.6" x2="412.5" y2="484.6" stroke="#000" stroke-width="1"/>
<line x1="419.4" y1="484.6" x2="480" y2="484.6" stroke="#000" stroke-width="1"/>
<text x="331.4" y="486.3" font-size="9.7" text-anchor="end" transform="rotate(-90 331.4 486.3)">NSG/</text>
<text x="342.8" y="486.3" font-size="9.7" text-anchor="end" transform="rotate(-90 342.8 486.3)">2bF8LV-hCBT</text>
<text x="354.2" y="486.3" font-size="9.7" text-anchor="end" transform="rotate(-90 354.2 486.3)">recipients</text>
<text x="382" y="486.3" font-size="9.7" text-anchor="end" transform="rotate(-90 382 486.3)">NSGF8KO/</text>
<text x="393.4" y="486.3" font-size="9.7" text-anchor="end" transform="rotate(-90 393.4 486.3)">2bF8LV-hCBT</text>
<text x="404.8" y="486.3" font-size="9.7" text-anchor="end" transform="rotate(-90 404.8 486.3)">recipients</text>
<text x="276.8" y="407.5" font-size="9.8" text-anchor="middle" transform="rotate(-90 276.8 407.5)">Human leukocyte chimerism (%)</text>
<text x="457.5" y="486.1" font-size="9.7" text-anchor="end" transform="rotate(-90 457.5 486.1)">Controls</text>
<line x1="420.4" y1="463.3" x2="437.9" y2="463.3" stroke="#444" stroke-width="1.2"/>
<polyline points="326.9,330.5 326.9,325.9 378,325.9 378,330.5" fill="none" stroke="#333" stroke-width="1"/>
<text x="352.8" y="323" font-size="9.3" font-weight="normal" class="n" text-anchor="middle"><tspan font-style="italic" font-weight="bold" class="b">P</tspan> = .12</text>
<polyline points="352.5,343.7 352.5,339.4 404,339.4 404,343.7" fill="none" stroke="#333" stroke-width="1"/>
<text x="380" y="336.8" font-size="9.3" font-weight="normal" class="n" text-anchor="middle"><tspan font-style="italic" font-weight="bold" class="b">P</tspan> = .15</text>
<text x="19.1" y="578.6" font-size="17.5">E</text>
<line x1="57" y1="592.3" x2="57" y2="696.5" stroke="#888" stroke-width="1"/>
<line x1="206.7" y1="592.3" x2="206.7" y2="696.5" stroke="#888" stroke-width="1"/>
<line x1="57" y1="696.5" x2="206.7" y2="696.5" stroke="#888" stroke-width="1"/>
<line x1="55" y1="696.5" x2="57" y2="696.5" stroke="#888" stroke-width="1"/>
<text x="51.2" y="699.92" font-size="9.5" text-anchor="end">0</text>
<line x1="55" y1="675.66" x2="57" y2="675.66" stroke="#888" stroke-width="1"/>
<text x="51.2" y="679.08" font-size="9.5" text-anchor="end">20</text>
<line x1="55" y1="654.82" x2="57" y2="654.82" stroke="#888" stroke-width="1"/>
<text x="51.2" y="658.24" font-size="9.5" text-anchor="end">40</text>
<line x1="55" y1="633.98" x2="57" y2="633.98" stroke="#888" stroke-width="1"/>
<text x="51.2" y="637.4" font-size="9.5" text-anchor="end">60</text>
<line x1="55" y1="613.14" x2="57" y2="613.14" stroke="#888" stroke-width="1"/>
<text x="51.2" y="616.56" font-size="9.5" text-anchor="end">80</text>
<line x1="55" y1="592.3" x2="57" y2="592.3" stroke="#888" stroke-width="1"/>
<text x="51.2" y="595.72" font-size="9.5" text-anchor="end">100</text>
<line x1="204.7" y1="696.5" x2="206.7" y2="696.5" stroke="#888" stroke-width="1"/>
<text x="212.8" y="699.78" font-size="9.1">0</text>
<line x1="204.7" y1="681.61" x2="206.7" y2="681.61" stroke="#888" stroke-width="1"/>
<text x="212.8" y="684.89" font-size="9.1">200</text>
<line x1="204.7" y1="666.73" x2="206.7" y2="666.73" stroke="#888" stroke-width="1"/>
<text x="212.8" y="670" font-size="9.1">400</text>
<line x1="204.7" y1="651.84" x2="206.7" y2="651.84" stroke="#888" stroke-width="1"/>
<text x="212.8" y="655.12" font-size="9.1">600</text>
<line x1="204.7" y1="636.96" x2="206.7" y2="636.96" stroke="#888" stroke-width="1"/>
<text x="212.8" y="640.23" font-size="9.1">800</text>
<line x1="204.7" y1="622.07" x2="206.7" y2="622.07" stroke="#888" stroke-width="1"/>
<text x="212.8" y="625.35" font-size="9.1">1000</text>
<line x1="204.7" y1="607.19" x2="206.7" y2="607.19" stroke="#888" stroke-width="1"/>
<text x="212.8" y="610.46" font-size="9.1">1200</text>
<line x1="204.7" y1="592.3" x2="206.7" y2="592.3" stroke="#888" stroke-width="1"/>
<text x="212.8" y="595.58" font-size="9.1">1400</text>
<line x1="71.5" y1="696.5" x2="71.5" y2="698.5" stroke="#888" stroke-width="1"/>
<line x1="86.5" y1="696.5" x2="86.5" y2="698.5" stroke="#888" stroke-width="1"/>
<line x1="101.5" y1="696.5" x2="101.5" y2="698.5" stroke="#888" stroke-width="1"/>
<line x1="116.5" y1="696.5" x2="116.5" y2="698.5" stroke="#888" stroke-width="1"/>
<line x1="131.3" y1="696.5" x2="131.3" y2="698.5" stroke="#888" stroke-width="1"/>
<line x1="146" y1="696.5" x2="146" y2="698.5" stroke="#888" stroke-width="1"/>
<line x1="161.2" y1="696.5" x2="161.2" y2="698.5" stroke="#888" stroke-width="1"/>
<line x1="176.5" y1="696.5" x2="176.5" y2="698.5" stroke="#888" stroke-width="1"/>
<line x1="190.5" y1="696.5" x2="190.5" y2="698.5" stroke="#888" stroke-width="1"/>
<line x1="101.5" y1="609.5" x2="101.5" y2="637.5" stroke="#8a8a8a" stroke-width="1"/>
<line x1="98.5" y1="609.5" x2="104.5" y2="609.5" stroke="#8a8a8a" stroke-width="1"/>
<line x1="116.5" y1="604" x2="116.5" y2="648" stroke="#8a8a8a" stroke-width="1"/>
<line x1="113.5" y1="604" x2="119.5" y2="604" stroke="#8a8a8a" stroke-width="1"/>
<line x1="131.3" y1="658.8" x2="131.3" y2="673.7" stroke="#8a8a8a" stroke-width="1"/>
<line x1="128.3" y1="658.8" x2="134.3" y2="658.8" stroke="#8a8a8a" stroke-width="1"/>
<line x1="146" y1="671.5" x2="146" y2="683" stroke="#8a8a8a" stroke-width="1"/>
<line x1="143" y1="671.5" x2="149" y2="671.5" stroke="#8a8a8a" stroke-width="1"/>
<line x1="161.2" y1="669.6" x2="161.2" y2="680.4" stroke="#8a8a8a" stroke-width="1"/>
<line x1="158.2" y1="669.6" x2="164.2" y2="669.6" stroke="#8a8a8a" stroke-width="1"/>
<line x1="71.5" y1="605.5" x2="71.5" y2="612.5" stroke="#8a8a8a" stroke-width="1"/>
<line x1="68.5" y1="605.5" x2="74.5" y2="605.5" stroke="#8a8a8a" stroke-width="1"/>
<line x1="86.5" y1="677.5" x2="86.5" y2="680.5" stroke="#8a8a8a" stroke-width="1"/>
<line x1="83.5" y1="677.5" x2="89.5" y2="677.5" stroke="#8a8a8a" stroke-width="1"/>
<line x1="116.5" y1="682" x2="116.5" y2="688" stroke="#8a8a8a" stroke-width="1"/>
<line x1="113.5" y1="682" x2="119.5" y2="682" stroke="#8a8a8a" stroke-width="1"/>
<line x1="131.3" y1="688" x2="131.3" y2="690.6" stroke="#8a8a8a" stroke-width="1"/>
<line x1="128.3" y1="688" x2="134.3" y2="688" stroke="#8a8a8a" stroke-width="1"/>
<line x1="161.2" y1="661" x2="161.2" y2="675.8" stroke="#8a8a8a" stroke-width="1"/>
<line x1="158.2" y1="661" x2="164.2" y2="661" stroke="#8a8a8a" stroke-width="1"/>
<line x1="176.5" y1="665.6" x2="176.5" y2="678.5" stroke="#8a8a8a" stroke-width="1"/>
<line x1="173.5" y1="665.6" x2="179.5" y2="665.6" stroke="#8a8a8a" stroke-width="1"/>
<line x1="190.5" y1="650.2" x2="190.5" y2="672.3" stroke="#8a8a8a" stroke-width="1"/>
<line x1="187.5" y1="650.2" x2="193.5" y2="650.2" stroke="#8a8a8a" stroke-width="1"/>
<polyline points="71.5,696.5 86.5,696.5 101.5,637.5 116.5,648 131.3,673.7 146,683 161.2,680.4 176.5,691.7 190.5,694.4" fill="none" stroke="#000" stroke-width="2.1" stroke-linejoin="round"/>
<polyline points="71.5,612.5 86.5,680.5 101.5,695 116.5,688 131.3,690.6 146,689.8 161.2,675.8 176.5,678.5 190.5,672.3" fill="none" stroke="#000" stroke-width="2.1" stroke-linejoin="round"/>
<circle cx="71.5" cy="612.5" r="2.6" fill="#fff" stroke="#666" stroke-width="0.9"/>
<circle cx="86.5" cy="680.5" r="2.6" fill="#fff" stroke="#666" stroke-width="0.9"/>
<circle cx="101.5" cy="695" r="2.6" fill="#fff" stroke="#666" stroke-width="0.9"/>
<circle cx="116.5" cy="688" r="2.6" fill="#fff" stroke="#666" stroke-width="0.9"/>
<circle cx="131.3" cy="690.6" r="2.6" fill="#fff" stroke="#666" stroke-width="0.9"/>
<circle cx="146" cy="689.8" r="2.6" fill="#fff" stroke="#666" stroke-width="0.9"/>
<circle cx="161.2" cy="675.8" r="2.6" fill="#fff" stroke="#666" stroke-width="0.9"/>
<circle cx="176.5" cy="678.5" r="2.6" fill="#fff" stroke="#666" stroke-width="0.9"/>
<circle cx="190.5" cy="672.3" r="2.6" fill="#fff" stroke="#666" stroke-width="0.9"/>
<circle cx="71.5" cy="696.5" r="2.9" fill="#000"/>
<circle cx="86.5" cy="696.5" r="2.9" fill="#000"/>
<circle cx="101.5" cy="637.5" r="2.9" fill="#000"/>
<circle cx="116.5" cy="648" r="2.9" fill="#000"/>
<circle cx="131.3" cy="673.7" r="2.9" fill="#000"/>
<circle cx="146" cy="683" r="2.9" fill="#000"/>
<circle cx="161.2" cy="680.4" r="2.9" fill="#000"/>
<circle cx="176.5" cy="691.7" r="2.9" fill="#000"/>
<circle cx="190.5" cy="694.4" r="2.9" fill="#000"/>
<text x="71.5" y="712.5" font-size="10" text-anchor="middle">0</text>
<text x="86.5" y="712.5" font-size="10" text-anchor="middle">1</text>
<text x="101.5" y="712.5" font-size="10" text-anchor="middle">2</text>
<text x="116.5" y="712.5" font-size="10" text-anchor="middle">3</text>
<text x="131.3" y="712.5" font-size="10" text-anchor="middle">4</text>
<text x="146" y="712.5" font-size="10" text-anchor="middle">5</text>
<text x="161.2" y="712.5" font-size="10" text-anchor="middle">7</text>
<text x="176.5" y="712.5" font-size="10" text-anchor="middle">10</text>
<text x="190.5" y="712.5" font-size="10" text-anchor="middle">12</text>
<text x="130" y="725.7" font-size="9.75" text-anchor="middle">Time after transplantation (weeks)</text>
<line x1="89.5" y1="587.5" x2="111.7" y2="587.5" stroke="#000" stroke-width="1.7"/>
<circle cx="100.6" cy="587.5" r="2.5" fill="#000"/>
<line x1="89.5" y1="599.2" x2="111.7" y2="599.2" stroke="#000" stroke-width="1.7"/>
<circle cx="100.6" cy="599.2" r="2.3" fill="#fff" stroke="#666" stroke-width="0.9"/>
<text x="116.4" y="590.5" font-size="8.6" font-weight="normal" class="n">Human platelets</text>
<text x="116.4" y="602.2" font-size="8.6" font-weight="normal" class="n">Murine platelets</text>
<text x="29.6" y="645.8" font-size="9.8" text-anchor="middle" transform="rotate(-90 29.6 645.8)">Human platelets (x10<tspan dy="-3" font-size="6.5">3</tspan><tspan dy="3">/µL)</tspan></text>
<text x="246" y="644.5" font-size="9.65" text-anchor="middle" transform="rotate(-90 246 644.5)">Mouse platelets (x 10<tspan dy="-3" font-size="6.5">3</tspan><tspan dy="3">/µL)</tspan></text>
<text x="267.2" y="578.7" font-size="17.5">F</text>
<line x1="313" y1="593" x2="313" y2="695.3" stroke="#888" stroke-width="1"/>
<line x1="462" y1="593" x2="462" y2="695.3" stroke="#888" stroke-width="1"/>
<line x1="313" y1="695.3" x2="462" y2="695.3" stroke="#888" stroke-width="1"/>
<line x1="311" y1="695.3" x2="313" y2="695.3" stroke="#888" stroke-width="1"/>
<text x="307.8" y="698.58" font-size="9.1" text-anchor="end">0.00</text>
<line x1="311" y1="680.69" x2="313" y2="680.69" stroke="#888" stroke-width="1"/>
<text x="307.8" y="683.96" font-size="9.1" text-anchor="end">0.25</text>
<line x1="311" y1="666.07" x2="313" y2="666.07" stroke="#888" stroke-width="1"/>
<text x="307.8" y="669.35" font-size="9.1" text-anchor="end">0.50</text>
<line x1="311" y1="651.46" x2="313" y2="651.46" stroke="#888" stroke-width="1"/>
<text x="307.8" y="654.73" font-size="9.1" text-anchor="end">0.75</text>
<line x1="311" y1="636.84" x2="313" y2="636.84" stroke="#888" stroke-width="1"/>
<text x="307.8" y="640.12" font-size="9.1" text-anchor="end">1.00</text>
<line x1="311" y1="622.23" x2="313" y2="622.23" stroke="#888" stroke-width="1"/>
<text x="307.8" y="625.5" font-size="9.1" text-anchor="end">1.25</text>
<line x1="311" y1="607.61" x2="313" y2="607.61" stroke="#888" stroke-width="1"/>
<text x="307.8" y="610.89" font-size="9.1" text-anchor="end">1.50</text>
<line x1="311" y1="593" x2="313" y2="593" stroke="#888" stroke-width="1"/>
<text x="307.8" y="596.28" font-size="9.1" text-anchor="end">1.75</text>
<line x1="460" y1="695.3" x2="462" y2="695.3" stroke="#888" stroke-width="1"/>
<text x="468.5" y="698.58" font-size="9.1">0.00</text>
<line x1="460" y1="680.69" x2="462" y2="680.69" stroke="#888" stroke-width="1"/>
<text x="468.5" y="683.96" font-size="9.1">0.25</text>
<line x1="460" y1="666.07" x2="462" y2="666.07" stroke="#888" stroke-width="1"/>
<text x="468.5" y="669.35" font-size="9.1">0.50</text>
<line x1="460" y1="651.46" x2="462" y2="651.46" stroke="#888" stroke-width="1"/>
<text x="468.5" y="654.73" font-size="9.1">0.75</text>
<line x1="460" y1="636.84" x2="462" y2="636.84" stroke="#888" stroke-width="1"/>
<text x="468.5" y="640.12" font-size="9.1">1.00</text>
<line x1="460" y1="622.23" x2="462" y2="622.23" stroke="#888" stroke-width="1"/>
<text x="468.5" y="625.5" font-size="9.1">1.25</text>
<line x1="460" y1="607.61" x2="462" y2="607.61" stroke="#888" stroke-width="1"/>
<text x="468.5" y="610.89" font-size="9.1">1.50</text>
<line x1="460" y1="593" x2="462" y2="593" stroke="#888" stroke-width="1"/>
<text x="468.5" y="596.28" font-size="9.1">1.75</text>
<line x1="329.5" y1="695.3" x2="329.5" y2="697.3" stroke="#888" stroke-width="1"/>
<line x1="343.8" y1="695.3" x2="343.8" y2="697.3" stroke="#888" stroke-width="1"/>
<line x1="358.3" y1="695.3" x2="358.3" y2="697.3" stroke="#888" stroke-width="1"/>
<line x1="373" y1="695.3" x2="373" y2="697.3" stroke="#888" stroke-width="1"/>
<line x1="388.6" y1="695.3" x2="388.6" y2="697.3" stroke="#888" stroke-width="1"/>
<line x1="403.7" y1="695.3" x2="403.7" y2="697.3" stroke="#888" stroke-width="1"/>
<line x1="418.2" y1="695.3" x2="418.2" y2="697.3" stroke="#888" stroke-width="1"/>
<line x1="432.5" y1="695.3" x2="432.5" y2="697.3" stroke="#888" stroke-width="1"/>
<line x1="447.3" y1="695.3" x2="447.3" y2="697.3" stroke="#888" stroke-width="1"/>
<line x1="373" y1="677" x2="373" y2="682" stroke="#8a8a8a" stroke-width="1"/>
<line x1="370" y1="677" x2="376" y2="677" stroke="#8a8a8a" stroke-width="1"/>
<line x1="388.6" y1="653.5" x2="388.6" y2="664.2" stroke="#8a8a8a" stroke-width="1"/>
<line x1="385.6" y1="653.5" x2="391.6" y2="653.5" stroke="#8a8a8a" stroke-width="1"/>
<line x1="403.7" y1="630.6" x2="403.7" y2="652.1" stroke="#8a8a8a" stroke-width="1"/>
<line x1="400.7" y1="630.6" x2="406.7" y2="630.6" stroke="#8a8a8a" stroke-width="1"/>
<line x1="418.2" y1="609" x2="418.2" y2="625.7" stroke="#8a8a8a" stroke-width="1"/>
<line x1="415.2" y1="609" x2="421.2" y2="609" stroke="#8a8a8a" stroke-width="1"/>
<line x1="432.5" y1="611.7" x2="432.5" y2="630.6" stroke="#8a8a8a" stroke-width="1"/>
<line x1="429.5" y1="611.7" x2="435.5" y2="611.7" stroke="#8a8a8a" stroke-width="1"/>
<line x1="447.3" y1="611.7" x2="447.3" y2="632" stroke="#8a8a8a" stroke-width="1"/>
<line x1="444.3" y1="611.7" x2="450.3" y2="611.7" stroke="#8a8a8a" stroke-width="1"/>
<line x1="329.5" y1="614.5" x2="329.5" y2="628" stroke="#8a8a8a" stroke-width="1"/>
<line x1="326.5" y1="614.5" x2="332.5" y2="614.5" stroke="#8a8a8a" stroke-width="1"/>
<line x1="343.8" y1="658.8" x2="343.8" y2="668.8" stroke="#8a8a8a" stroke-width="1"/>
<line x1="340.8" y1="658.8" x2="346.8" y2="658.8" stroke="#8a8a8a" stroke-width="1"/>
<line x1="388.6" y1="684.4" x2="388.6" y2="688.5" stroke="#8a8a8a" stroke-width="1"/>
<line x1="385.6" y1="684.4" x2="391.6" y2="684.4" stroke="#8a8a8a" stroke-width="1"/>
<line x1="418.2" y1="671" x2="418.2" y2="680.4" stroke="#8a8a8a" stroke-width="1"/>
<line x1="415.2" y1="671" x2="421.2" y2="671" stroke="#8a8a8a" stroke-width="1"/>
<line x1="432.5" y1="665.6" x2="432.5" y2="676.9" stroke="#8a8a8a" stroke-width="1"/>
<line x1="429.5" y1="665.6" x2="435.5" y2="665.6" stroke="#8a8a8a" stroke-width="1"/>
<line x1="447.3" y1="674.5" x2="447.3" y2="684.4" stroke="#8a8a8a" stroke-width="1"/>
<line x1="444.3" y1="674.5" x2="450.3" y2="674.5" stroke="#8a8a8a" stroke-width="1"/>
<polyline points="329.5,695.3 343.8,695.3 358.3,686.3 373,682 388.6,664.2 403.7,652.1 418.2,625.7 432.5,630.6 447.3,632" fill="none" stroke="#000" stroke-width="2.1" stroke-linejoin="round"/>
<polyline points="329.5,628 343.8,668.8 358.3,686.3 373,692 388.6,688.5 403.7,693.9 418.2,680.4 432.5,676.9 447.3,684.4" fill="none" stroke="#000" stroke-width="2.1" stroke-linejoin="round"/>
<circle cx="329.5" cy="628" r="2.6" fill="#fff" stroke="#666" stroke-width="0.9"/>
<circle cx="343.8" cy="668.8" r="2.6" fill="#fff" stroke="#666" stroke-width="0.9"/>
<circle cx="358.3" cy="686.3" r="2.6" fill="#fff" stroke="#666" stroke-width="0.9"/>
<circle cx="373" cy="692" r="2.6" fill="#fff" stroke="#666" stroke-width="0.9"/>
<circle cx="388.6" cy="688.5" r="2.6" fill="#fff" stroke="#666" stroke-width="0.9"/>
<circle cx="403.7" cy="693.9" r="2.6" fill="#fff" stroke="#666" stroke-width="0.9"/>
<circle cx="418.2" cy="680.4" r="2.6" fill="#fff" stroke="#666" stroke-width="0.9"/>
<circle cx="432.5" cy="676.9" r="2.6" fill="#fff" stroke="#666" stroke-width="0.9"/>
<circle cx="447.3" cy="684.4" r="2.6" fill="#fff" stroke="#666" stroke-width="0.9"/>
<circle cx="329.5" cy="695.3" r="2.9" fill="#000"/>
<circle cx="343.8" cy="695.3" r="2.9" fill="#000"/>
<circle cx="358.3" cy="686.3" r="2.9" fill="#000"/>
<circle cx="373" cy="682" r="2.9" fill="#000"/>
<circle cx="388.6" cy="664.2" r="2.9" fill="#000"/>
<circle cx="403.7" cy="652.1" r="2.9" fill="#000"/>
<circle cx="418.2" cy="625.7" r="2.9" fill="#000"/>
<circle cx="432.5" cy="630.6" r="2.9" fill="#000"/>
<circle cx="447.3" cy="632" r="2.9" fill="#000"/>
<text x="329.5" y="711.3" font-size="10" text-anchor="middle">0</text>
<text x="343.8" y="711.3" font-size="10" text-anchor="middle">1</text>
<text x="358.3" y="711.3" font-size="10" text-anchor="middle">2</text>
<text x="373" y="711.3" font-size="10" text-anchor="middle">3</text>
<text x="388.6" y="711.3" font-size="10" text-anchor="middle">4</text>
<text x="403.7" y="711.3" font-size="10" text-anchor="middle">5</text>
<text x="418.2" y="711.3" font-size="10" text-anchor="middle">7</text>
<text x="432.5" y="711.3" font-size="10" text-anchor="middle">10</text>
<text x="447.3" y="711.3" font-size="10" text-anchor="middle">12</text>
<text x="386.5" y="725.7" font-size="9.75" text-anchor="middle">Time after transplantation (weeks)</text>
<line x1="338.2" y1="589.5" x2="360.4" y2="589.5" stroke="#000" stroke-width="1.7"/>
<circle cx="349.3" cy="589.5" r="2.5" fill="#000"/>
<line x1="338.2" y1="601.6" x2="360.4" y2="601.6" stroke="#000" stroke-width="1.7"/>
<circle cx="349.3" cy="601.6" r="2.3" fill="#fff" stroke="#666" stroke-width="0.9"/>
<text x="364.4" y="592.5" font-size="8.6" font-weight="normal" class="n">Human leukocytes</text>
<text x="364.4" y="604.6" font-size="8.6" font-weight="normal" class="n">Murine leukocytes</text>
<text x="285.3" y="640.3" font-size="9" text-anchor="middle" transform="rotate(-90 285.3 640.3)">Human leukocytes (x 10<tspan dy="-3" font-size="6.5">3</tspan><tspan dy="3">/µL)</tspan></text>
<text x="498" y="642.4" font-size="9.1" text-anchor="middle" transform="rotate(-90 498 642.4)">Mouse leukocytes (x10<tspan dy="-3" font-size="6.5">3</tspan><tspan dy="3">/µL)</tspan></text></svg></body></html>
